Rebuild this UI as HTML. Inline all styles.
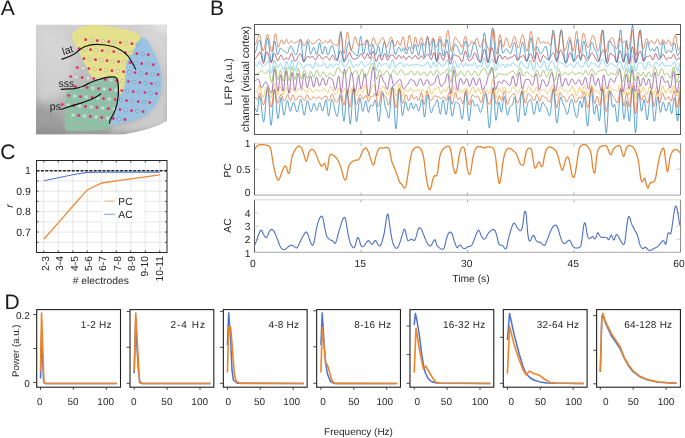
<!DOCTYPE html>
<html><head><meta charset="utf-8"><style>
html,body{margin:0;padding:0;background:#fff;width:685px;height:438px;overflow:hidden}
svg{display:block;font-family:"Liberation Sans",sans-serif;will-change:transform;text-rendering:geometricPrecision}
</style></head><body>
<svg width="685" height="438" viewBox="0 0 685 438" font-family="Liberation Sans, sans-serif"><text x="0.75" y="14.90" font-size="21.00" text-anchor="start" fill="#1a1a1a" >A</text>
<text x="210.10" y="14.70" font-size="21.00" text-anchor="start" fill="#1a1a1a" >B</text>
<text x="0.35" y="158.60" font-size="21.00" text-anchor="start" fill="#1a1a1a" >C</text>
<text x="4.50" y="308.60" font-size="21.00" text-anchor="start" fill="#1a1a1a" >D</text>
<defs>
<linearGradient id="gbg" x1="0" y1="0" x2="0" y2="1">
<stop offset="0" stop-color="#d0d0d0"/><stop offset="0.35" stop-color="#c3c3c3"/><stop offset="0.7" stop-color="#b3b3b3"/><stop offset="0.92" stop-color="#a8a8a8"/><stop offset="1" stop-color="#9e9e9e"/></linearGradient>
<linearGradient id="gbr" x1="0" y1="0" x2="1" y2="0">
<stop offset="0.6" stop-color="#dcdcdc" stop-opacity="0"/><stop offset="0.85" stop-color="#dcdcdc" stop-opacity="0.7"/><stop offset="1" stop-color="#d0d0d0" stop-opacity="0.8"/></linearGradient>
<radialGradient id="ghl" cx="0.25" cy="0.2" r="0.45"><stop offset="0" stop-color="#dcdcdc" stop-opacity="0.7"/><stop offset="1" stop-color="#dcdcdc" stop-opacity="0"/></radialGradient>
<clipPath id="brainclip"><path d="M36,24.5 L167,24.5 L167,121 C158,126 145,131 123,134.5 L36,134.5 Z"/></clipPath>
</defs>
<g clip-path="url(#brainclip)">
<rect x="36" y="24.5" width="131" height="110" fill="url(#gbg)"/>
<filter id="bl2" x="-30%" y="-30%" width="160%" height="160%"><feGaussianBlur stdDeviation="3"/></filter>
<filter id="bl4" x="-30%" y="-30%" width="160%" height="160%"><feGaussianBlur stdDeviation="5"/></filter>
<path d="M36,28 C55,26 70,34 74,50 C76,70 70,88 60,98 C50,102 40,102 36,100 Z" fill="#d8d8d8" opacity="0.75" filter="url(#bl4)"/>
<path d="M140,24 L167,24 L167,125 C150,130 130,132 110,134 L112,126 C135,124 158,112 162,88 C164,60 155,42 140,36 Z" fill="#d8d8d8" opacity="0.75" filter="url(#bl2)"/>
<path d="M148,24 C156,27 162,30 167,34 L167,24 Z" fill="#f0f0f0" opacity="0.8" filter="url(#bl2)"/>
<path d="M30,100 C42,104 52,112 64,117 L66,140 L30,140 Z" fill="#7a7a7a" opacity="0.28" filter="url(#bl2)"/>
<path d="M36,129 C70,132 100,133 125,131 L125,136 L36,136 Z" fill="#8a8a8a" opacity="0.35" filter="url(#bl2)"/>
<path d="M71.80,35.60 L72.01,34.77 L72.40,34.00 L72.92,33.29 L73.54,32.62 L74.22,31.96 L74.90,31.30 L75.61,30.63 L76.38,29.96 L77.21,29.30 L78.07,28.68 L78.98,28.11 L79.90,27.60 L80.82,27.16 L81.74,26.79 L82.69,26.46 L83.71,26.17 L84.84,25.92 L86.10,25.70 L87.51,25.50 L89.03,25.34 L90.66,25.21 L92.38,25.12 L94.16,25.08 L96.00,25.10 L97.92,25.18 L99.95,25.32 L102.04,25.51 L104.17,25.74 L106.30,26.00 L108.40,26.30 L110.48,26.64 L112.58,27.04 L114.68,27.47 L116.76,27.92 L118.80,28.37 L120.80,28.80 L122.79,29.21 L124.79,29.61 L126.75,30.01 L128.64,30.42 L130.40,30.85 L132.00,31.30 L133.45,31.77 L134.79,32.26 L136.00,32.77 L137.08,33.29 L138.02,33.84 L138.80,34.40 L139.42,34.98 L139.87,35.57 L140.19,36.18 L140.37,36.82 L140.44,37.49 L140.40,38.20 L140.22,38.95 L139.89,39.73 L139.44,40.54 L138.91,41.39 L138.35,42.27 L137.80,43.20 L137.24,44.19 L136.63,45.23 L135.98,46.31 L135.32,47.41 L134.65,48.52 L134.00,49.60 L133.35,50.67 L132.68,51.73 L132.01,52.80 L131.35,53.87 L130.71,54.93 L130.10,56.00 L129.50,57.05 L128.90,58.09 L128.32,59.12 L127.79,60.18 L127.30,61.26 L126.90,62.40 L126.59,63.59 L126.36,64.83 L126.19,66.10 L126.05,67.39 L125.93,68.70 L125.80,70.00 L125.67,71.32 L125.56,72.66 L125.46,74.01 L125.37,75.36 L125.29,76.69 L125.20,78.00 L125.13,79.30 L125.08,80.61 L125.03,81.91 L124.97,83.17 L124.86,84.37 L124.70,85.50 L124.47,86.56 L124.19,87.56 L123.86,88.50 L123.51,89.39 L123.16,90.22 L122.80,91.00 L122.44,91.81 L122.05,92.69 L121.65,93.50 L121.25,94.15 L120.86,94.52 L120.50,94.50 L120.15,94.00 L119.79,93.09 L119.44,91.91 L119.12,90.57 L118.84,89.23 L118.60,88.00 L118.45,86.81 L118.37,85.54 L118.34,84.26 L118.29,83.03 L118.19,81.92 L118.00,81.00 L117.71,80.28 L117.36,79.72 L116.95,79.28 L116.50,78.92 L116.01,78.61 L115.50,78.30 L114.99,78.01 L114.49,77.77 L113.95,77.57 L113.33,77.42 L112.60,77.30 L111.70,77.20 L110.60,77.12 L109.32,77.05 L107.92,77.02 L106.46,77.04 L105.00,77.12 L103.60,77.30 L102.19,77.65 L100.72,78.17 L99.24,78.76 L97.84,79.31 L96.57,79.73 L95.50,79.90 L94.68,79.82 L94.07,79.56 L93.60,79.17 L93.19,78.67 L92.78,78.10 L92.30,77.50 L91.75,76.85 L91.20,76.11 L90.65,75.31 L90.10,74.44 L89.55,73.54 L89.00,72.60 L88.47,71.63 L87.96,70.61 L87.45,69.55 L86.93,68.44 L86.38,67.29 L85.80,66.10 L85.15,64.81 L84.44,63.43 L83.70,61.99 L82.97,60.57 L82.30,59.22 L81.70,58.00 L81.20,56.91 L80.77,55.92 L80.39,55.00 L80.04,54.12 L79.68,53.26 L79.30,52.40 L78.91,51.55 L78.53,50.74 L78.16,49.96 L77.77,49.17 L77.35,48.35 L76.90,47.50 L76.38,46.60 L75.81,45.68 L75.21,44.73 L74.62,43.77 L74.07,42.79 L73.60,41.80 L73.16,40.77 L72.71,39.70 L72.30,38.61 L71.98,37.54 L71.80,36.53 Z" fill="#e4e08c"/>
<path d="M66.60,92.50 L67.43,91.66 L68.53,90.97 L69.80,90.39 L71.16,89.88 L72.53,89.40 L73.80,88.90 L75.02,88.41 L76.26,87.97 L77.49,87.56 L78.71,87.16 L79.89,86.74 L81.00,86.30 L82.05,85.81 L83.06,85.29 L84.03,84.76 L84.96,84.24 L85.85,83.75 L86.70,83.30 L87.50,82.91 L88.23,82.55 L88.93,82.22 L89.61,81.91 L90.29,81.61 L91.00,81.30 L91.73,80.98 L92.45,80.66 L93.18,80.35 L93.91,80.05 L94.65,79.76 L95.40,79.50 L96.15,79.26 L96.89,79.04 L97.64,78.84 L98.40,78.65 L99.18,78.47 L100.00,78.30 L100.85,78.14 L101.73,77.99 L102.64,77.84 L103.56,77.71 L104.48,77.60 L105.40,77.50 L106.33,77.40 L107.29,77.31 L108.26,77.23 L109.21,77.18 L110.13,77.16 L111.00,77.20 L111.84,77.29 L112.66,77.42 L113.44,77.59 L114.19,77.80 L114.88,78.04 L115.50,78.30 L116.05,78.56 L116.54,78.83 L116.98,79.12 L117.37,79.48 L117.70,79.93 L118.00,80.50 L118.24,81.19 L118.43,81.96 L118.57,82.83 L118.67,83.79 L118.74,84.84 L118.80,86.00 L118.83,87.31 L118.84,88.78 L118.82,90.34 L118.77,91.94 L118.70,93.52 L118.60,95.00 L118.48,96.41 L118.32,97.81 L118.14,99.19 L117.94,100.52 L117.73,101.79 L117.50,103.00 L117.26,104.11 L117.00,105.13 L116.72,106.09 L116.43,107.04 L116.12,107.99 L115.80,109.00 L115.45,110.06 L115.09,111.15 L114.70,112.25 L114.30,113.35 L113.90,114.44 L113.50,115.50 L113.08,116.56 L112.64,117.63 L112.20,118.69 L111.77,119.70 L111.36,120.65 L111.00,121.50 L110.69,122.23 L110.41,122.85 L110.17,123.41 L109.94,123.93 L109.72,124.45 L109.50,125.00 L109.36,125.61 L109.34,126.24 L109.32,126.88 L109.21,127.48 L108.91,128.03 L108.30,128.50 L107.37,128.88 L106.20,129.18 L104.82,129.43 L103.30,129.64 L101.68,129.83 L100.00,130.00 L98.19,130.16 L96.20,130.29 L94.11,130.39 L91.99,130.47 L89.93,130.54 L88.00,130.60 L86.23,130.65 L84.57,130.69 L82.96,130.71 L81.36,130.72 L79.72,130.72 L78.00,130.70 L76.07,130.72 L73.95,130.79 L71.79,130.84 L69.74,130.81 L67.96,130.66 L66.60,130.30 L65.73,129.72 L65.23,128.96 L65.00,128.06 L64.93,127.07 L64.90,126.04 L64.80,125.00 L64.66,123.97 L64.59,122.90 L64.55,121.79 L64.55,120.62 L64.57,119.36 L64.60,118.00 L64.65,116.48 L64.74,114.81 L64.85,113.06 L64.97,111.30 L65.09,109.59 L65.20,108.00 L65.30,106.55 L65.39,105.17 L65.49,103.84 L65.59,102.56 L65.69,101.28 L65.80,100.00 L65.85,98.68 L65.81,97.32 L65.79,95.98 L65.85,94.69 L66.09,93.52 Z" fill="#91bfa5"/>
<path d="M140.40,38.20 L140.88,37.83 L141.37,37.61 L141.87,37.51 L142.39,37.53 L142.93,37.63 L143.50,37.80 L144.11,38.05 L144.77,38.41 L145.44,38.86 L146.12,39.38 L146.78,39.96 L147.40,40.60 L147.97,41.29 L148.50,42.03 L149.01,42.84 L149.51,43.72 L150.04,44.67 L150.60,45.70 L151.20,46.82 L151.82,48.03 L152.46,49.31 L153.11,50.64 L153.76,52.01 L154.40,53.40 L155.05,54.83 L155.71,56.31 L156.38,57.82 L157.02,59.36 L157.64,60.89 L158.20,62.40 L158.72,63.91 L159.21,65.45 L159.67,66.98 L160.10,68.49 L160.47,69.93 L160.80,71.30 L161.08,72.55 L161.30,73.70 L161.49,74.79 L161.63,75.87 L161.73,76.99 L161.80,78.20 L161.83,79.50 L161.81,80.87 L161.75,82.27 L161.66,83.69 L161.54,85.11 L161.40,86.50 L161.24,87.87 L161.06,89.24 L160.85,90.61 L160.61,91.97 L160.33,93.33 L160.00,94.70 L159.64,96.08 L159.24,97.48 L158.81,98.88 L158.33,100.26 L157.80,101.61 L157.20,102.90 L156.54,104.14 L155.82,105.35 L155.05,106.52 L154.22,107.65 L153.34,108.75 L152.40,109.80 L151.38,110.82 L150.29,111.81 L149.13,112.77 L147.95,113.67 L146.76,114.52 L145.60,115.30 L144.45,116.00 L143.30,116.64 L142.15,117.21 L141.00,117.74 L139.85,118.23 L138.70,118.70 L137.56,119.13 L136.43,119.52 L135.30,119.87 L134.17,120.19 L133.04,120.50 L131.90,120.80 L130.76,121.08 L129.61,121.34 L128.46,121.57 L127.31,121.81 L126.16,122.05 L125.00,122.30 L123.83,122.58 L122.64,122.87 L121.44,123.17 L120.26,123.46 L119.11,123.74 L118.00,124.00 L116.90,124.24 L115.80,124.47 L114.72,124.69 L113.70,124.89 L112.79,125.06 L112.00,125.20 L111.33,125.35 L110.76,125.53 L110.28,125.68 L109.91,125.75 L109.64,125.71 L109.50,125.50 L109.51,125.11 L109.67,124.56 L109.94,123.89 L110.28,123.14 L110.65,122.33 L111.00,121.50 L111.36,120.62 L111.77,119.67 L112.20,118.66 L112.64,117.61 L113.08,116.55 L113.50,115.50 L113.90,114.44 L114.30,113.35 L114.70,112.25 L115.09,111.15 L115.45,110.06 L115.80,109.00 L116.12,107.95 L116.42,106.89 L116.70,105.84 L116.97,104.83 L117.24,103.88 L117.50,103.00 L117.77,102.20 L118.03,101.46 L118.29,100.78 L118.54,100.15 L118.78,99.56 L119.00,99.00 L119.19,98.53 L119.34,98.17 L119.48,97.84 L119.63,97.50 L119.83,97.07 L120.10,96.50 L120.47,95.76 L120.91,94.89 L121.40,93.94 L121.90,92.94 L122.38,91.95 L122.80,91.00 L123.18,90.11 L123.54,89.24 L123.89,88.38 L124.20,87.48 L124.47,86.53 L124.70,85.50 L124.86,84.37 L124.97,83.17 L125.03,81.91 L125.08,80.61 L125.13,79.30 L125.20,78.00 L125.29,76.69 L125.37,75.36 L125.46,74.01 L125.56,72.66 L125.67,71.32 L125.80,70.00 L125.93,68.70 L126.05,67.39 L126.19,66.10 L126.36,64.83 L126.59,63.59 L126.90,62.40 L127.30,61.26 L127.79,60.18 L128.33,59.12 L128.90,58.09 L129.50,57.05 L130.10,56.00 L130.71,54.93 L131.35,53.87 L132.01,52.80 L132.68,51.73 L133.35,50.67 L134.00,49.60 L134.65,48.52 L135.32,47.41 L135.98,46.31 L136.63,45.23 L137.24,44.19 L137.80,43.20 L138.30,42.23 L138.74,41.26 L139.14,40.33 L139.54,39.47 L139.95,38.75 Z" fill="#9ac2e1"/>
<circle cx="85.70" cy="39.70" r="1.4" fill="#e5296a"/>
<circle cx="91.48" cy="40.20" r="1.85" fill="#e9e6ad" stroke="#aaa67a" stroke-width="0.45"/>
<circle cx="97.25" cy="40.70" r="1.4" fill="#e5296a"/>
<circle cx="103.03" cy="41.20" r="1.85" fill="#e9e6ad" stroke="#aaa67a" stroke-width="0.45"/>
<circle cx="108.80" cy="41.71" r="1.4" fill="#e5296a"/>
<circle cx="114.58" cy="42.21" r="1.85" fill="#e9e6ad" stroke="#aaa67a" stroke-width="0.45"/>
<circle cx="120.35" cy="42.71" r="1.4" fill="#e5296a"/>
<circle cx="126.13" cy="43.21" r="1.85" fill="#e9e6ad" stroke="#aaa67a" stroke-width="0.45"/>
<circle cx="131.90" cy="43.72" r="1.4" fill="#e5296a"/>
<circle cx="137.68" cy="44.22" r="1.85" fill="#a6c9e5" stroke="#6e91b4" stroke-width="0.5"/>
<circle cx="79.05" cy="48.67" r="1.4" fill="#e5296a"/>
<circle cx="84.83" cy="49.17" r="1.85" fill="#e9e6ad" stroke="#aaa67a" stroke-width="0.45"/>
<circle cx="90.60" cy="49.67" r="1.4" fill="#e5296a"/>
<circle cx="96.38" cy="50.17" r="1.85" fill="#e9e6ad" stroke="#aaa67a" stroke-width="0.45"/>
<circle cx="102.15" cy="50.68" r="1.4" fill="#e5296a"/>
<circle cx="107.93" cy="51.18" r="1.85" fill="#e9e6ad" stroke="#aaa67a" stroke-width="0.45"/>
<circle cx="113.70" cy="51.68" r="1.4" fill="#e5296a"/>
<circle cx="119.48" cy="52.18" r="1.85" fill="#e9e6ad" stroke="#aaa67a" stroke-width="0.45"/>
<circle cx="125.25" cy="52.69" r="1.4" fill="#e5296a"/>
<circle cx="131.03" cy="53.19" r="1.85" fill="#e9e6ad" stroke="#aaa67a" stroke-width="0.45"/>
<circle cx="136.80" cy="53.69" r="1.4" fill="#e5296a"/>
<circle cx="142.58" cy="54.19" r="1.85" fill="#a6c9e5" stroke="#6e91b4" stroke-width="0.5"/>
<circle cx="148.35" cy="54.70" r="1.4" fill="#e5296a"/>
<circle cx="83.95" cy="58.64" r="1.4" fill="#e5296a"/>
<circle cx="89.73" cy="59.15" r="1.85" fill="#e9e6ad" stroke="#aaa67a" stroke-width="0.45"/>
<circle cx="95.50" cy="59.65" r="1.4" fill="#e5296a"/>
<circle cx="101.28" cy="60.15" r="1.85" fill="#e9e6ad" stroke="#aaa67a" stroke-width="0.45"/>
<circle cx="107.05" cy="60.65" r="1.4" fill="#e5296a"/>
<circle cx="112.83" cy="61.16" r="1.85" fill="#e9e6ad" stroke="#aaa67a" stroke-width="0.45"/>
<circle cx="118.60" cy="61.66" r="1.4" fill="#e5296a"/>
<circle cx="124.38" cy="62.16" r="1.85" fill="#e9e6ad" stroke="#aaa67a" stroke-width="0.45"/>
<circle cx="130.15" cy="62.66" r="1.4" fill="#e5296a"/>
<circle cx="135.93" cy="63.17" r="1.85" fill="#a6c9e5" stroke="#6e91b4" stroke-width="0.5"/>
<circle cx="141.70" cy="63.67" r="1.4" fill="#e5296a"/>
<circle cx="147.48" cy="64.17" r="1.85" fill="#a6c9e5" stroke="#6e91b4" stroke-width="0.5"/>
<circle cx="153.25" cy="64.67" r="1.4" fill="#e5296a"/>
<circle cx="77.30" cy="67.62" r="1.4" fill="#e5296a"/>
<circle cx="83.08" cy="68.12" r="1.85" fill="#e6e6e6" stroke="#9a9a9a" stroke-width="0.4"/>
<circle cx="88.85" cy="68.62" r="1.4" fill="#e5296a"/>
<circle cx="94.63" cy="69.12" r="1.85" fill="#e9e6ad" stroke="#aaa67a" stroke-width="0.45"/>
<circle cx="100.40" cy="69.62" r="1.4" fill="#e5296a"/>
<circle cx="106.18" cy="70.13" r="1.85" fill="#e9e6ad" stroke="#aaa67a" stroke-width="0.45"/>
<circle cx="111.95" cy="70.63" r="1.4" fill="#e5296a"/>
<circle cx="117.73" cy="71.13" r="1.85" fill="#e9e6ad" stroke="#aaa67a" stroke-width="0.45"/>
<circle cx="123.50" cy="71.63" r="1.4" fill="#e5296a"/>
<circle cx="129.28" cy="72.14" r="1.85" fill="#a6c9e5" stroke="#6e91b4" stroke-width="0.5"/>
<circle cx="135.05" cy="72.64" r="1.4" fill="#e5296a"/>
<circle cx="140.83" cy="73.14" r="1.85" fill="#a6c9e5" stroke="#6e91b4" stroke-width="0.5"/>
<circle cx="146.60" cy="73.64" r="1.4" fill="#e5296a"/>
<circle cx="152.38" cy="74.15" r="1.85" fill="#a6c9e5" stroke="#6e91b4" stroke-width="0.5"/>
<circle cx="158.15" cy="74.65" r="1.4" fill="#e5296a"/>
<circle cx="70.65" cy="76.59" r="1.4" fill="#e5296a"/>
<circle cx="76.43" cy="77.09" r="1.85" fill="#e6e6e6" stroke="#9a9a9a" stroke-width="0.4"/>
<circle cx="82.20" cy="77.59" r="1.4" fill="#e5296a"/>
<circle cx="87.98" cy="78.09" r="1.85" fill="#e6e6e6" stroke="#9a9a9a" stroke-width="0.4"/>
<circle cx="93.75" cy="78.60" r="1.4" fill="#e5296a"/>
<circle cx="99.53" cy="79.10" r="1.85" fill="#c0e2cf" stroke="#a6c8b4" stroke-width="0.4"/>
<circle cx="105.30" cy="79.60" r="1.4" fill="#e5296a"/>
<circle cx="111.08" cy="80.10" r="1.85" fill="#c0e2cf" stroke="#a6c8b4" stroke-width="0.4"/>
<circle cx="116.85" cy="80.61" r="1.4" fill="#e5296a"/>
<circle cx="122.63" cy="81.11" r="1.85" fill="#e9e6ad" stroke="#aaa67a" stroke-width="0.45"/>
<circle cx="128.40" cy="81.61" r="1.4" fill="#e5296a"/>
<circle cx="134.18" cy="82.11" r="1.85" fill="#a6c9e5" stroke="#6e91b4" stroke-width="0.5"/>
<circle cx="139.95" cy="82.62" r="1.4" fill="#e5296a"/>
<circle cx="145.73" cy="83.12" r="1.85" fill="#a6c9e5" stroke="#6e91b4" stroke-width="0.5"/>
<circle cx="151.50" cy="83.62" r="1.4" fill="#e5296a"/>
<circle cx="157.28" cy="84.12" r="1.85" fill="#a6c9e5" stroke="#6e91b4" stroke-width="0.5"/>
<circle cx="75.55" cy="86.56" r="1.4" fill="#e5296a"/>
<circle cx="81.33" cy="87.07" r="1.85" fill="#c0e2cf" stroke="#a6c8b4" stroke-width="0.4"/>
<circle cx="87.10" cy="87.57" r="1.4" fill="#e5296a"/>
<circle cx="92.88" cy="88.07" r="1.85" fill="#c0e2cf" stroke="#a6c8b4" stroke-width="0.4"/>
<circle cx="98.65" cy="88.57" r="1.4" fill="#e5296a"/>
<circle cx="104.43" cy="89.07" r="1.85" fill="#c0e2cf" stroke="#a6c8b4" stroke-width="0.4"/>
<circle cx="110.20" cy="89.58" r="1.4" fill="#e5296a"/>
<circle cx="115.98" cy="90.08" r="1.85" fill="#c0e2cf" stroke="#a6c8b4" stroke-width="0.4"/>
<circle cx="121.75" cy="90.58" r="1.4" fill="#e5296a"/>
<circle cx="127.53" cy="91.08" r="1.85" fill="#a6c9e5" stroke="#6e91b4" stroke-width="0.5"/>
<circle cx="133.30" cy="91.59" r="1.4" fill="#e5296a"/>
<circle cx="139.08" cy="92.09" r="1.85" fill="#a6c9e5" stroke="#6e91b4" stroke-width="0.5"/>
<circle cx="144.85" cy="92.59" r="1.4" fill="#e5296a"/>
<circle cx="150.63" cy="93.09" r="1.85" fill="#a6c9e5" stroke="#6e91b4" stroke-width="0.5"/>
<circle cx="156.40" cy="93.60" r="1.4" fill="#e5296a"/>
<circle cx="68.90" cy="95.53" r="1.4" fill="#e5296a"/>
<circle cx="74.68" cy="96.04" r="1.85" fill="#c0e2cf" stroke="#a6c8b4" stroke-width="0.4"/>
<circle cx="80.45" cy="96.54" r="1.4" fill="#e5296a"/>
<circle cx="86.23" cy="97.04" r="1.85" fill="#c0e2cf" stroke="#a6c8b4" stroke-width="0.4"/>
<circle cx="92.00" cy="97.54" r="1.4" fill="#e5296a"/>
<circle cx="97.78" cy="98.05" r="1.85" fill="#c0e2cf" stroke="#a6c8b4" stroke-width="0.4"/>
<circle cx="103.55" cy="98.55" r="1.4" fill="#e5296a"/>
<circle cx="109.33" cy="99.05" r="1.85" fill="#c0e2cf" stroke="#a6c8b4" stroke-width="0.4"/>
<circle cx="115.10" cy="99.55" r="1.4" fill="#e5296a"/>
<circle cx="120.88" cy="100.06" r="1.85" fill="#a6c9e5" stroke="#6e91b4" stroke-width="0.5"/>
<circle cx="126.65" cy="100.56" r="1.4" fill="#e5296a"/>
<circle cx="132.43" cy="101.06" r="1.85" fill="#a6c9e5" stroke="#6e91b4" stroke-width="0.5"/>
<circle cx="138.20" cy="101.56" r="1.4" fill="#e5296a"/>
<circle cx="143.98" cy="102.07" r="1.85" fill="#a6c9e5" stroke="#6e91b4" stroke-width="0.5"/>
<circle cx="149.75" cy="102.57" r="1.4" fill="#e5296a"/>
<circle cx="62.25" cy="104.51" r="1.4" fill="#e5296a"/>
<circle cx="68.03" cy="105.01" r="1.85" fill="#c0e2cf" stroke="#a6c8b4" stroke-width="0.4"/>
<circle cx="73.80" cy="105.51" r="1.4" fill="#e5296a"/>
<circle cx="79.58" cy="106.01" r="1.85" fill="#c0e2cf" stroke="#a6c8b4" stroke-width="0.4"/>
<circle cx="85.35" cy="106.52" r="1.4" fill="#e5296a"/>
<circle cx="91.13" cy="107.02" r="1.85" fill="#c0e2cf" stroke="#a6c8b4" stroke-width="0.4"/>
<circle cx="96.90" cy="107.52" r="1.4" fill="#e5296a"/>
<circle cx="102.68" cy="108.02" r="1.85" fill="#c0e2cf" stroke="#a6c8b4" stroke-width="0.4"/>
<circle cx="108.45" cy="108.53" r="1.4" fill="#e5296a"/>
<circle cx="114.23" cy="109.03" r="1.85" fill="#c0e2cf" stroke="#a6c8b4" stroke-width="0.4"/>
<circle cx="120.00" cy="109.53" r="1.4" fill="#e5296a"/>
<circle cx="125.78" cy="110.03" r="1.85" fill="#a6c9e5" stroke="#6e91b4" stroke-width="0.5"/>
<circle cx="131.55" cy="110.53" r="1.4" fill="#e5296a"/>
<circle cx="137.33" cy="111.04" r="1.85" fill="#a6c9e5" stroke="#6e91b4" stroke-width="0.5"/>
<circle cx="143.10" cy="111.54" r="1.4" fill="#e5296a"/>
<circle cx="72.93" cy="114.98" r="1.85" fill="#c0e2cf" stroke="#a6c8b4" stroke-width="0.4"/>
<circle cx="78.70" cy="115.49" r="1.4" fill="#e5296a"/>
<circle cx="84.48" cy="115.99" r="1.85" fill="#c0e2cf" stroke="#a6c8b4" stroke-width="0.4"/>
<circle cx="90.25" cy="116.49" r="1.4" fill="#e5296a"/>
<circle cx="96.03" cy="116.99" r="1.85" fill="#c0e2cf" stroke="#a6c8b4" stroke-width="0.4"/>
<circle cx="101.80" cy="117.50" r="1.4" fill="#e5296a"/>
<circle cx="107.58" cy="118.00" r="1.85" fill="#c0e2cf" stroke="#a6c8b4" stroke-width="0.4"/>
<circle cx="113.35" cy="118.50" r="1.4" fill="#e5296a"/>
<circle cx="119.13" cy="119.00" r="1.85" fill="#a6c9e5" stroke="#6e91b4" stroke-width="0.5"/>
<circle cx="124.90" cy="119.51" r="1.4" fill="#e5296a"/>
<path d="M61.5,59.3 C66,58 71,56 74.4,54 C78,51.5 81,48 84.2,46.7 C88,45.2 93,44.3 97.1,44.3 C103,44.4 109,45.3 113,46.5 C119,48.5 124,51.5 128,56 C131,60 133.5,65 135.8,69.5" fill="none" stroke="#111" stroke-width="1.2"/>
<path d="M60.8,89.4 C66,89.2 70,88.9 73.8,88.7 C77,88.2 80,87.5 82.4,86.5 C86,85 88,83.5 91,82.2 C94,80.8 97,79.8 99.7,79.3 C103,78.4 106,77.6 108.3,77.2 C111,76.8 114,76.8 115.5,77.2 C117,78 117.5,79 117.7,80.8 C118.5,86 118.6,90 118.4,92.3 C118.2,97 117.7,101 117,103.8 C116.2,107 115.5,110 114.1,112.4 C113,115 111.5,117.5 110.5,119.6 C109.8,121 109.5,122.5 109.5,123.8" fill="none" stroke="#111" stroke-width="1.2"/>
<path d="M60.8,109.5 C64,108.5 67,107.4 69.5,106.7 C73,105.6 77,104.3 81,103.1 C85,101.8 88,100.7 91,99.5 C95,97.7 98.5,95.8 101.1,93.7" fill="none" stroke="#111" stroke-width="1.2"/>
</g>
<text x="0.00" y="0.00" font-size="10.50" text-anchor="start" fill="#222" transform="translate(63.5,55.3) rotate(-18)">lat</text>
<text x="58.60" y="87.40" font-size="10.50" text-anchor="start" fill="#222" >sss</text>
<text x="49.80" y="109.60" font-size="10.50" text-anchor="start" fill="#222" >ps</text>
<rect x="254.5" y="24.5" width="426.0" height="110.0" fill="none" stroke="#5a5a5a" stroke-width="1"/>
<line x1="254.50" y1="34.50" x2="259.00" y2="34.50" stroke="#5a5a5a" stroke-width="1"/>
<line x1="680.50" y1="34.50" x2="676.00" y2="34.50" stroke="#5a5a5a" stroke-width="1"/>
<line x1="254.50" y1="74.50" x2="259.00" y2="74.50" stroke="#5a5a5a" stroke-width="1"/>
<line x1="680.50" y1="74.50" x2="676.00" y2="74.50" stroke="#5a5a5a" stroke-width="1"/>
<line x1="254.50" y1="114.50" x2="259.00" y2="114.50" stroke="#5a5a5a" stroke-width="1"/>
<line x1="680.50" y1="114.50" x2="676.00" y2="114.50" stroke="#5a5a5a" stroke-width="1"/>
<line x1="361.00" y1="24.50" x2="361.00" y2="28.50" stroke="#777" stroke-width="0.8"/>
<line x1="361.00" y1="134.50" x2="361.00" y2="130.50" stroke="#777" stroke-width="0.8"/>
<line x1="467.50" y1="24.50" x2="467.50" y2="28.50" stroke="#777" stroke-width="0.8"/>
<line x1="467.50" y1="134.50" x2="467.50" y2="130.50" stroke="#777" stroke-width="0.8"/>
<line x1="574.00" y1="24.50" x2="574.00" y2="28.50" stroke="#777" stroke-width="0.8"/>
<line x1="574.00" y1="134.50" x2="574.00" y2="130.50" stroke="#777" stroke-width="0.8"/>
<defs><clipPath id="lfpclip"><rect x="254.5" y="24.5" width="426" height="110"/></clipPath></defs><g clip-path="url(#lfpclip)">
<polyline points="254.50,107.80 255.00,108.09 255.50,109.13 256.00,110.47 256.50,111.51 257.00,111.75 257.50,110.12 258.00,106.64 258.50,102.39 259.00,98.66 259.50,96.59 260.00,96.76 260.50,98.85 261.00,102.54 261.50,107.24 262.00,112.25 262.50,116.80 263.00,120.21 263.50,121.94 264.00,121.57 264.50,118.43 265.00,112.98 265.50,106.14 266.00,99.05 266.50,92.92 267.00,88.77 267.50,87.30 268.00,89.09 268.50,94.12 269.00,101.46 269.50,109.72 270.00,117.36 270.50,122.94 271.00,125.43 271.50,124.30 272.00,119.72 272.50,112.64 273.00,104.55 273.50,97.13 274.00,91.96 274.50,90.10 275.00,91.51 275.50,95.47 276.00,101.18 276.50,107.52 277.00,113.23 277.50,117.19 278.00,118.60 278.50,117.27 279.00,113.63 279.50,108.58 280.00,103.40 280.50,99.39 281.00,97.55 281.50,98.38 282.00,101.64 282.50,106.35 283.00,111.06 283.50,114.32 284.00,115.17 284.50,114.09 285.00,111.70 285.50,108.48 286.00,105.13 286.50,102.33 287.00,100.68 287.50,100.52 288.00,101.79 288.50,104.13 289.00,106.92 289.50,109.41 290.00,110.94 290.50,111.11 291.00,110.10 291.50,108.23 292.00,105.96 292.50,103.86 293.00,102.47 293.50,102.12 294.00,102.73 294.50,104.13 295.00,106.05 295.50,108.15 296.00,110.07 296.50,111.47 297.00,112.08 297.50,111.73 298.00,110.32 298.50,108.09 299.00,105.43 299.50,102.82 300.00,100.72 300.50,99.51 301.00,99.44 301.50,100.91 302.00,103.71 302.50,107.25 303.00,110.79 303.50,113.59 304.00,115.06 304.50,114.88 305.00,113.03 305.50,109.95 306.00,106.36 306.50,103.11 307.00,100.96 307.50,100.42 308.00,101.16 308.50,102.83 309.00,105.11 309.50,107.58 310.00,109.76 310.50,111.27 311.00,111.80 311.50,111.23 312.00,109.67 312.50,107.55 313.00,105.42 313.50,103.87 314.00,103.30 314.50,103.87 315.00,105.39 315.50,107.41 316.00,109.31 316.50,110.49 317.00,110.61 317.50,109.60 318.00,107.77 318.50,105.63 319.00,103.80 319.50,102.79 320.00,102.94 320.50,104.30 321.00,106.47 321.50,108.79 322.00,110.55 322.50,111.20 323.00,110.64 323.50,109.05 324.00,106.77 324.50,104.23 325.00,101.95 325.50,100.36 326.00,99.80 326.50,101.33 327.00,105.33 327.50,110.27 328.00,114.27 328.50,115.80 329.00,114.94 329.50,112.52 330.00,109.07 330.50,105.29 331.00,101.99 331.50,99.86 332.00,99.32 332.50,99.86 333.00,101.12 333.50,102.99 334.00,105.31 334.50,107.85 335.00,110.39 335.50,112.71 336.00,114.58 336.50,115.84 337.00,116.38 337.50,115.80 338.00,113.47 338.50,109.78 339.00,105.40 339.50,101.10 340.00,97.64 340.50,95.64 341.00,95.57 341.50,98.46 342.00,103.85 342.50,110.38 343.00,116.42 343.50,120.44 344.00,121.43 344.50,119.00 345.00,113.65 345.50,106.65 346.00,99.65 346.50,94.30 347.00,91.87 347.50,93.12 348.00,98.12 348.50,105.63 349.00,113.76 349.50,120.47 350.00,124.07 350.50,123.71 351.00,119.70 351.50,112.90 352.00,104.74 352.50,96.92 353.00,91.10 353.50,88.48 354.00,89.93 354.50,95.66 355.00,104.05 355.50,112.70 356.00,119.13 356.50,121.50 357.00,120.34 357.50,117.09 358.00,112.40 358.50,107.20 359.00,102.51 359.50,99.26 360.00,98.10 360.50,99.20 361.00,102.15 361.50,105.96 362.00,109.40 362.50,111.32 363.00,111.24 363.50,109.76 364.00,107.34 364.50,104.63 365.00,102.35 365.50,101.11 366.00,101.32 366.50,103.15 367.00,106.06 367.50,109.17 368.00,111.53 368.50,112.40 369.00,111.41 369.50,108.98 370.00,106.39 370.50,105.04 371.00,105.09 371.50,105.40 372.00,105.78 372.50,106.05 373.00,105.98 373.50,104.77 374.00,102.74 374.50,100.80 375.00,99.83 375.50,100.41 376.00,102.79 376.50,106.54 377.00,111.01 377.50,115.39 378.00,118.91 378.50,120.95 379.00,121.10 379.50,118.87 380.00,114.57 380.50,108.95 381.00,103.01 381.50,97.80 382.00,94.26 382.50,93.00 383.00,93.79 383.50,96.01 384.00,99.22 384.50,102.78 385.00,105.99 385.50,108.21 386.00,109.00 386.50,109.70 387.00,111.58 387.50,114.06 388.00,116.39 388.50,117.84 389.00,117.87 389.50,115.36 390.00,110.49 390.50,104.13 391.00,97.41 391.50,91.53 392.00,87.52 392.50,86.10 393.00,88.34 393.50,94.60 394.00,103.57 394.50,113.36 395.00,121.92 395.50,127.45 396.00,128.81 396.50,125.87 397.00,119.31 397.50,110.52 398.00,101.33 398.50,93.69 399.00,89.17 399.50,88.66 400.00,91.49 400.50,96.80 401.00,103.33 401.50,109.56 402.00,113.99 402.50,115.60 403.00,114.59 403.50,111.85 404.00,108.17 404.50,104.59 405.00,102.15 405.50,101.53 406.00,102.50 406.50,104.58 407.00,107.12 407.50,109.35 408.00,110.58 408.50,110.49 409.00,109.29 409.50,107.35 410.00,105.22 410.50,103.52 411.00,102.72 411.50,103.20 412.00,104.96 412.50,107.16 413.00,108.72 413.50,108.93 414.00,108.18 414.50,106.85 415.00,105.37 415.50,104.23 416.00,103.80 416.50,104.39 417.00,105.97 417.50,108.03 418.00,109.87 418.50,110.90 419.00,110.75 419.50,109.29 420.00,106.85 420.50,104.01 421.00,101.44 421.50,99.75 422.00,99.36 422.50,101.51 423.00,105.99 423.50,111.22 424.00,115.34 424.50,116.90 425.00,115.59 425.50,111.97 426.00,106.89 426.50,101.55 427.00,97.22 427.50,94.91 428.00,95.05 428.50,97.08 429.00,100.51 429.50,104.64 430.00,108.59 430.50,111.54 431.00,112.86 431.50,112.62 432.00,111.55 432.50,109.92 433.00,108.13 433.50,106.58 434.00,105.66 434.50,105.44 435.00,104.81 435.50,103.64 436.00,102.22 436.50,100.91 437.00,100.03 437.50,99.84 438.00,101.26 438.50,104.30 439.00,108.11 439.50,111.58 440.00,113.73 440.50,113.92 441.00,112.01 441.50,108.54 442.00,104.59 442.50,101.36 443.00,99.84 443.50,100.40 444.00,102.69 444.50,106.12 445.00,109.84 445.50,112.90 446.00,114.55 446.50,114.22 447.00,111.47 447.50,107.03 448.00,102.16 448.50,98.27 449.00,96.45 449.50,97.21 450.00,100.28 450.50,104.89 451.00,109.87 451.50,113.99 452.00,116.20 452.50,116.13 453.00,114.53 453.50,111.83 454.00,108.59 454.50,105.49 455.00,103.17 455.50,102.13 456.00,102.16 456.50,102.36 457.00,102.67 457.50,102.98 458.00,103.21 458.50,103.30 459.00,104.01 459.50,106.00 460.00,108.92 460.50,112.26 461.00,115.42 461.50,117.84 462.00,119.09 462.50,118.68 463.00,115.62 463.50,110.45 464.00,104.24 464.50,98.29 465.00,93.85 465.50,91.86 466.00,92.78 466.50,96.55 467.00,102.37 467.50,109.02 468.00,115.12 468.50,119.37 469.00,120.90 469.50,119.65 470.00,116.21 470.50,111.38 471.00,106.31 471.50,102.19 472.00,100.00 472.50,99.98 473.00,100.99 473.50,102.60 474.00,104.32 474.50,105.62 475.00,106.10 475.50,105.91 476.00,105.42 476.50,104.86 477.00,104.47 477.50,104.48 478.00,105.31 478.50,106.87 479.00,108.79 479.50,110.62 480.00,111.93 480.50,112.40 481.00,111.99 481.50,110.80 482.00,108.92 482.50,106.53 483.00,103.83 483.50,101.06 484.00,98.46 484.50,96.26 485.00,94.64 485.50,93.75 486.00,93.86 486.50,96.74 487.00,102.27 487.50,109.44 488.00,116.88 488.50,123.22 489.00,127.25 489.50,128.23 490.00,125.70 490.50,119.99 491.00,112.12 491.50,103.48 492.00,95.61 492.50,89.90 493.00,87.37 493.50,88.94 494.00,95.04 494.50,103.85 495.00,112.66 495.50,118.76 496.00,120.36 496.50,118.86 497.00,115.56 497.50,111.25 498.00,106.94 498.50,103.64 499.00,102.14 499.50,102.85 500.00,105.53 500.50,108.97 501.00,111.65 501.50,112.35 502.00,110.65 502.50,107.04 503.00,102.62 503.50,98.74 504.00,96.60 504.50,96.80 505.00,99.15 505.50,103.07 506.00,107.63 506.50,111.76 507.00,114.48 507.50,115.18 508.00,114.38 508.50,112.65 509.00,110.42 509.50,108.24 510.00,106.67 510.50,106.10 511.00,105.88 511.50,105.40 512.00,105.04 512.50,104.72 513.00,103.14 513.50,100.75 514.00,98.45 514.50,97.13 515.00,97.45 515.50,100.10 516.00,104.62 516.50,110.11 517.00,115.50 517.50,119.70 518.00,121.90 518.50,121.59 519.00,118.62 519.50,113.47 520.00,107.07 520.50,100.55 521.00,95.07 521.50,91.60 522.00,90.76 522.50,92.93 523.00,97.67 523.50,103.78 524.00,109.74 524.50,114.04 525.00,115.60 525.50,114.80 526.00,112.60 526.50,109.51 527.00,106.27 527.50,103.63 528.00,102.23 528.50,102.00 529.00,101.45 529.50,100.61 530.00,99.81 530.50,99.34 531.00,99.59 531.50,101.27 532.00,104.12 532.50,107.55 533.00,110.82 533.50,113.27 534.00,114.37 534.50,113.78 535.00,111.46 535.50,108.06 536.00,104.56 536.50,101.96 537.00,101.00 537.50,101.89 538.00,104.26 538.50,107.34 539.00,110.11 539.50,111.65 540.00,111.55 540.50,110.09 541.00,107.73 541.50,105.15 542.00,103.09 542.50,102.13 543.00,102.30 543.50,103.04 544.00,104.10 544.50,105.16 545.00,105.90 545.50,106.11 546.00,106.56 546.50,107.58 547.00,109.05 547.50,110.77 548.00,112.52 548.50,114.05 549.00,115.18 549.50,115.75 550.00,115.39 550.50,112.95 551.00,108.74 551.50,103.50 552.00,98.16 552.50,93.67 553.00,90.83 553.50,90.17 554.00,92.58 554.50,97.94 555.00,105.12 555.50,112.63 556.00,118.88 556.50,122.57 557.00,123.04 557.50,121.27 558.00,117.80 558.50,113.16 559.00,108.05 559.50,103.26 560.00,99.50 560.50,97.36 561.00,97.09 561.50,98.10 562.00,99.93 562.50,102.07 563.00,103.90 563.50,104.91 564.00,105.18 564.50,106.23 565.00,108.00 565.50,110.13 566.00,112.17 566.50,113.70 567.00,114.38 567.50,114.11 568.00,112.96 568.50,111.07 569.00,108.68 569.50,106.06 570.00,103.54 570.50,101.42 571.00,99.95 571.50,99.32 572.00,99.56 572.50,100.61 573.00,102.37 573.50,104.67 574.00,107.30 574.50,110.04 575.00,112.63 575.50,114.83 576.00,116.46 576.50,117.35 577.00,117.36 577.50,115.83 578.00,112.93 578.50,109.25 579.00,105.57 579.50,102.67 580.00,101.14 580.50,101.51 581.00,104.09 581.50,106.91 582.00,107.75 582.50,105.99 583.00,102.49 583.50,98.81 584.00,96.61 584.50,96.97 585.00,100.28 585.50,105.89 586.00,112.62 586.50,119.07 587.00,123.88 587.50,126.04 588.00,124.90 588.50,120.28 589.00,113.07 589.50,104.72 590.00,96.87 590.50,91.07 591.00,88.48 591.50,89.39 592.00,93.15 592.50,98.86 593.00,105.17 593.50,110.59 594.00,113.84 594.50,114.21 595.00,112.28 595.50,109.06 596.00,105.99 596.50,104.45 597.00,105.22 597.50,108.26 598.00,112.65 598.50,117.04 599.00,120.08 599.50,120.82 600.00,118.09 600.50,112.14 601.00,104.46 601.50,96.97 602.00,91.57 602.50,89.60 603.00,91.45 603.50,96.68 604.00,104.42 604.50,113.36 605.00,122.00 605.50,128.87 606.00,132.83 606.50,133.11 607.00,128.92 607.50,120.99 608.00,111.08 608.50,101.40 609.00,94.10 609.50,90.80 610.00,91.33 610.50,93.72 611.00,97.34 611.50,101.34 612.00,104.78 612.50,106.84 613.00,107.11 613.50,106.18 614.00,104.96 614.50,104.40 615.00,105.67 615.50,109.10 616.00,113.73 616.50,118.22 617.00,121.28 617.50,122.03 618.00,119.62 618.50,114.26 619.00,107.08 619.50,99.57 620.00,93.32 620.50,89.63 621.00,89.29 621.50,92.43 622.00,98.32 622.50,105.58 623.00,112.49 623.50,117.42 624.00,119.20 624.50,117.70 625.00,113.70 625.50,108.52 626.00,103.86 626.50,101.25 627.00,101.67 627.50,105.43 628.00,111.25 628.50,117.07 629.00,120.83 629.50,121.18 630.00,117.74 630.50,111.28 631.00,103.33 631.50,95.76 632.00,90.35 632.50,88.40 633.00,91.37 633.50,99.47 634.00,110.55 634.50,121.62 635.00,129.73 635.50,132.70 636.00,130.47 636.50,124.26 637.00,115.46 637.50,106.03 638.00,98.05 638.50,93.31 639.00,92.75 639.50,95.43 640.00,100.23 640.50,105.55 641.00,109.66 641.50,111.20 642.00,110.16 642.50,107.42 643.00,103.95 643.50,100.97 644.00,99.54 644.50,100.39 645.00,103.73 645.50,108.68 646.00,113.92 646.50,118.04 647.00,119.94 647.50,119.22 648.00,116.21 648.50,111.41 649.00,105.65 649.50,99.89 650.00,95.09 650.50,92.08 651.00,91.36 651.50,93.56 652.00,98.45 652.50,105.01 653.00,111.85 653.50,117.56 654.00,120.92 654.50,121.29 655.00,119.03 655.50,114.71 656.00,109.25 656.50,103.79 657.00,99.47 657.50,97.21 658.00,97.43 658.50,99.90 659.00,103.84 659.50,108.04 660.00,111.22 660.50,112.40 661.00,111.49 661.50,109.08 662.00,106.02 662.50,103.40 663.00,102.14 663.50,102.47 664.00,103.86 664.50,105.96 665.00,108.23 665.50,110.10 666.00,111.11 666.50,110.96 667.00,109.60 667.50,107.39 668.00,104.97 668.50,103.03 669.00,102.13 669.50,102.81 670.00,105.37 670.50,108.87 671.00,111.96 671.50,113.46 672.00,112.77 672.50,110.01 673.00,105.98 673.50,101.83 674.00,98.74 674.50,97.60 675.00,99.07 675.50,103.11 676.00,108.71 676.50,114.45 677.00,118.90 677.50,120.94 678.00,119.46 678.50,113.80 679.00,105.93 679.50,98.63 680.00,94.49 680.50,94.10" fill="none" stroke="#0072BD" stroke-width="0.75" stroke-linejoin="round" opacity="0.85"/>
<polyline points="254.50,97.20 255.00,96.94 255.50,97.42 256.00,98.33 256.50,99.24 257.00,99.77 257.50,99.27 258.00,97.70 258.50,95.62 259.00,93.80 259.50,92.90 260.00,93.22 260.50,94.59 261.00,96.73 261.50,99.22 262.00,101.61 262.50,103.49 263.00,104.58 263.50,104.76 264.00,104.05 264.50,102.32 265.00,99.90 265.50,97.21 266.00,94.64 266.50,92.50 267.00,91.02 267.50,90.37 268.00,90.84 268.50,92.58 269.00,95.39 269.50,98.86 270.00,102.41 270.50,105.34 271.00,107.03 271.50,107.01 272.00,105.04 272.50,101.38 273.00,96.89 273.50,92.67 274.00,89.75 274.50,88.83 275.00,89.90 275.50,92.43 276.00,95.76 276.50,99.09 277.00,101.67 277.50,103.03 278.00,103.01 278.50,101.81 279.00,99.88 279.50,97.73 280.00,95.87 280.50,94.66 281.00,94.28 281.50,94.77 282.00,95.98 282.50,97.58 283.00,99.16 283.50,100.33 284.00,100.80 284.50,100.79 285.00,100.38 285.50,99.48 286.00,98.15 286.50,96.62 287.00,95.31 287.50,94.61 288.00,94.79 288.50,95.83 289.00,97.45 289.50,99.10 290.00,100.24 290.50,100.41 291.00,99.61 291.50,98.11 292.00,96.42 292.50,95.11 293.00,94.66 293.50,95.22 294.00,96.54 294.50,98.12 295.00,99.47 295.50,100.24 296.00,100.29 296.50,99.70 297.00,98.75 297.50,97.77 298.00,96.95 298.50,96.43 299.00,96.21 299.50,96.17 300.00,96.17 300.50,96.14 301.00,96.13 301.50,96.42 302.00,97.08 302.50,98.03 303.00,99.11 303.50,100.06 304.00,100.58 304.50,100.48 305.00,99.66 305.50,98.31 306.00,96.78 306.50,95.49 307.00,94.82 307.50,94.99 308.00,95.81 308.50,96.95 309.00,98.14 309.50,99.11 310.00,99.68 310.50,99.78 311.00,99.48 311.50,98.91 312.00,98.20 312.50,97.54 313.00,97.07 313.50,96.88 314.00,96.99 314.50,97.33 315.00,97.79 315.50,98.20 316.00,98.42 316.50,98.38 317.00,98.07 317.50,97.60 318.00,97.15 318.50,96.88 319.00,96.90 319.50,97.21 320.00,97.76 320.50,98.44 321.00,99.01 321.50,99.25 322.00,99.06 322.50,98.49 323.00,97.76 323.50,97.13 324.00,96.71 324.50,96.47 325.00,96.32 325.50,96.13 326.00,95.86 326.50,96.09 327.00,97.21 327.50,98.75 328.00,100.08 328.50,100.61 329.00,100.42 329.50,99.77 330.00,98.64 330.50,97.18 331.00,95.67 331.50,94.49 332.00,93.97 332.50,94.04 333.00,94.78 333.50,96.12 334.00,97.79 334.50,99.44 335.00,100.76 335.50,101.58 336.00,101.92 336.50,101.93 337.00,101.81 337.50,101.49 338.00,100.67 338.50,99.36 339.00,97.66 339.50,95.92 340.00,94.33 340.50,93.06 341.00,92.39 341.50,93.11 342.00,95.39 342.50,98.68 343.00,102.09 343.50,104.59 344.00,105.40 344.50,104.11 345.00,101.01 345.50,96.99 346.00,93.13 346.50,90.50 347.00,89.78 347.50,91.24 348.00,94.73 348.50,99.34 349.00,103.72 349.50,106.61 350.00,107.21 350.50,105.41 351.00,101.85 351.50,97.45 352.00,93.28 352.50,90.26 353.00,88.93 353.50,89.41 354.00,91.57 354.50,95.13 355.00,99.14 355.50,102.55 356.00,104.54 356.50,104.64 357.00,103.46 357.50,101.88 358.00,100.09 358.50,98.29 359.00,96.67 359.50,95.49 360.00,94.82 360.50,94.70 361.00,95.08 361.50,95.97 362.00,97.15 362.50,98.17 363.00,98.72 363.50,98.84 364.00,98.44 364.50,97.57 365.00,96.48 365.50,95.60 366.00,95.38 366.50,96.09 367.00,97.61 367.50,99.47 368.00,101.06 368.50,101.82 369.00,101.40 369.50,99.96 370.00,98.17 370.50,96.86 371.00,96.31 371.50,96.10 372.00,96.19 372.50,96.41 373.00,96.49 373.50,95.90 374.00,94.86 374.50,93.85 375.00,93.41 375.50,93.96 376.00,95.70 376.50,98.36 377.00,101.45 377.50,104.37 378.00,106.43 378.50,107.09 379.00,106.15 379.50,103.64 380.00,100.11 380.50,96.42 381.00,93.37 381.50,91.48 382.00,90.96 382.50,91.69 383.00,93.06 383.50,94.42 384.00,95.45 384.50,96.05 385.00,96.45 385.50,96.80 386.00,97.15 386.50,98.15 387.00,100.21 387.50,102.60 388.00,104.50 388.50,105.29 389.00,104.66 389.50,102.32 390.00,98.73 390.50,94.75 391.00,91.20 391.50,88.74 392.00,87.68 392.50,88.04 393.00,89.97 393.50,93.37 394.00,97.58 394.50,101.85 395.00,105.38 395.50,107.49 396.00,107.77 396.50,106.22 397.00,103.15 397.50,99.13 398.00,94.92 398.50,91.36 399.00,89.18 399.50,88.83 400.00,90.03 400.50,92.49 401.00,95.75 401.50,99.10 402.00,101.79 402.50,103.19 403.00,103.24 403.50,102.21 404.00,100.35 404.50,98.16 405.00,96.19 405.50,94.96 406.00,94.61 406.50,95.16 407.00,96.48 407.50,98.21 408.00,99.84 408.50,100.80 409.00,100.86 409.50,99.96 410.00,98.35 410.50,96.52 411.00,95.03 411.50,94.40 412.00,94.93 412.50,96.27 413.00,97.77 413.50,98.75 414.00,99.11 414.50,98.84 415.00,98.08 415.50,97.17 416.00,96.55 416.50,96.61 417.00,97.48 417.50,98.85 418.00,100.17 418.50,100.82 419.00,100.43 419.50,98.92 420.00,96.69 420.50,94.41 421.00,92.81 421.50,92.44 422.00,93.43 422.50,96.01 423.00,99.54 423.50,102.76 424.00,104.51 424.50,104.15 425.00,101.94 425.50,98.67 426.00,95.30 426.50,92.67 427.00,91.37 427.50,91.57 428.00,93.01 428.50,94.96 429.00,96.94 429.50,98.63 430.00,99.82 430.50,100.44 431.00,100.47 431.50,100.07 432.00,99.52 432.50,98.77 433.00,97.82 433.50,96.84 434.00,96.13 434.50,95.91 435.00,95.78 435.50,95.81 436.00,96.07 436.50,96.44 437.00,96.71 437.50,96.65 438.00,96.62 438.50,96.78 439.00,97.09 439.50,97.53 440.00,98.02 440.50,98.46 441.00,98.65 441.50,98.54 442.00,98.17 442.50,97.63 443.00,97.11 443.50,96.79 444.00,96.79 444.50,97.27 445.00,98.14 445.50,99.14 446.00,99.99 446.50,100.30 447.00,99.56 447.50,97.84 448.00,95.63 448.50,93.62 449.00,92.49 449.50,92.70 450.00,94.31 450.50,97.05 451.00,100.26 451.50,103.00 452.00,104.41 452.50,104.12 453.00,102.50 453.50,99.93 454.00,97.03 454.50,94.41 455.00,92.72 455.50,92.46 456.00,93.54 456.50,95.30 457.00,97.26 457.50,98.87 458.00,99.66 458.50,99.38 459.00,98.50 459.50,97.70 460.00,97.35 460.50,97.73 461.00,98.82 461.50,100.46 462.00,102.28 462.50,103.69 463.00,103.72 463.50,102.19 464.00,99.39 464.50,95.93 465.00,92.62 465.50,90.30 466.00,89.57 466.50,90.67 467.00,93.33 467.50,96.94 468.00,100.61 468.50,103.48 469.00,104.93 469.50,104.82 470.00,103.41 470.50,101.16 471.00,98.65 471.50,96.51 472.00,95.20 472.50,94.87 473.00,94.99 473.50,95.44 474.00,96.08 474.50,96.71 475.00,97.11 475.50,97.24 476.00,97.14 476.50,96.83 477.00,96.40 477.50,96.00 478.00,95.99 478.50,96.52 479.00,97.59 479.50,99.03 480.00,100.57 480.50,101.90 481.00,102.61 481.50,102.43 482.00,101.20 482.50,99.03 483.00,96.38 483.50,93.84 484.00,91.92 484.50,90.97 485.00,91.06 485.50,92.00 486.00,93.36 486.50,95.47 487.00,98.01 487.50,100.47 488.00,102.48 488.50,103.84 489.00,104.52 489.50,104.46 490.00,103.51 490.50,101.73 491.00,99.29 491.50,96.39 492.00,93.36 492.50,90.61 493.00,88.78 493.50,88.70 494.00,90.87 494.50,94.66 495.00,98.92 495.50,102.29 496.00,103.92 496.50,104.28 497.00,103.63 497.50,102.03 498.00,99.84 498.50,97.64 499.00,96.08 499.50,95.63 500.00,96.46 500.50,98.12 501.00,99.77 501.50,100.63 502.00,100.18 502.50,98.36 503.00,95.69 503.50,93.08 504.00,91.41 504.50,91.14 505.00,92.38 505.50,94.89 506.00,98.10 506.50,101.20 507.00,103.43 507.50,104.24 508.00,103.83 508.50,102.53 509.00,100.73 509.50,98.91 510.00,97.50 510.50,96.68 511.00,96.08 511.50,95.39 512.00,94.86 512.50,94.59 513.00,94.03 513.50,93.49 514.00,93.38 514.50,93.94 515.00,95.20 515.50,97.15 516.00,99.33 516.50,101.24 517.00,102.55 517.50,103.12 518.00,102.99 518.50,102.27 519.00,101.02 519.50,99.35 520.00,97.45 520.50,95.44 521.00,93.48 521.50,91.82 522.00,90.82 522.50,90.97 523.00,92.57 523.50,95.36 524.00,98.63 524.50,101.45 525.00,102.96 525.50,102.98 526.00,101.78 526.50,99.57 527.00,96.95 527.50,94.71 528.00,93.51 528.50,93.53 529.00,93.96 529.50,94.62 530.00,95.28 530.50,95.75 531.00,96.00 531.50,96.44 532.00,97.14 532.50,98.08 533.00,99.14 533.50,100.09 534.00,100.64 534.50,100.49 535.00,99.46 535.50,97.77 536.00,95.89 536.50,94.43 537.00,94.01 537.50,94.82 538.00,96.57 538.50,98.69 539.00,100.47 539.50,101.33 540.00,101.12 540.50,100.06 541.00,98.51 541.50,96.92 542.00,95.75 542.50,95.34 543.00,95.62 543.50,96.18 544.00,96.82 544.50,97.34 545.00,97.61 545.50,97.58 546.00,97.69 546.50,98.13 547.00,98.84 547.50,99.68 548.00,100.52 548.50,101.24 549.00,101.75 549.50,102.01 550.00,101.84 550.50,100.63 551.00,98.48 551.50,95.68 552.00,92.69 552.50,90.08 553.00,88.47 553.50,88.26 554.00,89.95 554.50,93.45 555.00,98.02 555.50,102.62 556.00,106.17 556.50,107.84 557.00,107.26 557.50,105.11 558.00,102.00 558.50,98.62 559.00,95.64 559.50,93.58 560.00,92.68 560.50,92.89 561.00,93.88 561.50,94.98 562.00,95.83 562.50,96.30 563.00,96.46 563.50,96.39 564.00,96.36 564.50,97.16 565.00,98.58 565.50,100.17 566.00,101.43 566.50,102.03 567.00,101.84 567.50,101.00 568.00,99.83 568.50,98.63 569.00,97.60 569.50,96.81 570.00,96.18 570.50,95.58 571.00,94.98 571.50,94.45 572.00,94.18 572.50,94.37 573.00,95.17 573.50,96.59 574.00,98.42 574.50,100.30 575.00,101.83 575.50,102.70 576.00,102.83 576.50,102.35 577.00,101.52 577.50,100.35 578.00,99.10 578.50,98.07 579.00,97.37 579.50,97.04 580.00,97.03 580.50,97.34 581.00,98.11 581.50,98.57 582.00,97.92 582.50,96.22 583.00,94.12 583.50,92.41 584.00,91.75 584.50,92.40 585.00,94.31 585.50,97.06 586.00,100.19 586.50,103.24 587.00,105.75 587.50,107.36 588.00,107.69 588.50,106.43 589.00,103.67 589.50,99.76 590.00,95.29 590.50,91.04 591.00,87.88 591.50,86.43 592.00,86.93 592.50,89.32 593.00,93.11 593.50,97.40 594.00,101.09 594.50,103.26 595.00,103.61 595.50,102.30 596.00,100.02 596.50,97.78 597.00,96.47 597.50,96.63 598.00,98.21 598.50,100.70 599.00,103.32 599.50,105.19 600.00,105.21 600.50,103.05 601.00,99.25 601.50,94.79 602.00,90.76 602.50,88.35 603.00,88.30 603.50,90.73 604.00,95.05 604.50,100.21 605.00,105.20 605.50,109.09 606.00,111.25 606.50,111.40 607.00,109.31 607.50,105.48 608.00,100.86 608.50,96.41 609.00,92.98 609.50,91.18 610.00,90.83 610.50,91.05 611.00,91.77 611.50,92.89 612.00,94.26 612.50,95.65 613.00,96.77 613.50,97.63 614.00,98.26 614.50,98.71 615.00,99.30 615.50,100.24 616.00,101.33 616.50,102.31 617.00,102.95 617.50,102.93 618.00,101.76 618.50,99.43 619.00,96.30 619.50,92.93 620.00,89.98 620.50,88.26 621.00,88.31 621.50,90.28 622.00,93.83 622.50,98.17 623.00,102.26 623.50,105.10 624.00,105.96 624.50,104.71 625.00,101.79 625.50,98.07 626.00,94.70 626.50,92.75 627.00,92.94 627.50,95.44 628.00,99.42 628.50,103.53 629.00,106.35 629.50,106.89 630.00,104.80 630.50,100.56 631.00,95.25 631.50,90.25 632.00,86.84 632.50,85.88 633.00,88.11 633.50,93.45 634.00,100.50 634.50,107.35 635.00,112.18 635.50,113.68 636.00,111.82 636.50,107.45 637.00,101.64 637.50,95.77 638.00,91.21 638.50,88.94 639.00,89.28 639.50,91.47 640.00,94.58 640.50,97.58 641.00,99.64 641.50,100.25 642.00,99.60 642.50,98.27 643.00,96.80 643.50,95.68 644.00,95.24 644.50,95.65 645.00,96.92 645.50,98.69 646.00,100.51 646.50,101.98 647.00,102.80 647.50,102.83 648.00,102.09 648.50,100.55 649.00,98.27 649.50,95.53 650.00,92.78 650.50,90.61 651.00,89.61 651.50,90.42 652.00,93.12 652.50,97.11 653.00,101.40 653.50,104.85 654.00,106.47 654.50,105.79 655.00,103.18 655.50,99.44 656.00,95.61 656.50,92.76 657.00,91.63 657.50,92.43 658.00,94.83 658.50,97.98 659.00,100.97 659.50,102.87 660.00,103.10 660.50,101.62 661.00,99.03 661.50,96.24 662.00,94.07 662.50,93.07 663.00,93.41 663.50,94.78 664.00,96.49 664.50,98.07 665.00,99.19 665.50,99.71 666.00,99.69 666.50,99.26 667.00,98.54 667.50,97.75 668.00,97.14 668.50,96.90 669.00,97.08 669.50,97.79 670.00,99.09 670.50,100.48 671.00,101.28 671.50,100.99 672.00,99.50 672.50,97.05 673.00,94.28 673.50,91.95 674.00,90.81 674.50,91.31 675.00,93.58 675.50,97.27 676.00,101.46 676.50,105.06 677.00,107.17 677.50,107.30 678.00,105.20 678.50,100.97 679.00,96.03 679.50,92.06 680.00,90.38 680.50,90.91" fill="none" stroke="#D95319" stroke-width="0.75" stroke-linejoin="round" opacity="0.85"/>
<polyline points="254.50,90.37 255.00,90.66 255.50,91.29 256.00,91.96 256.50,92.30 257.00,92.04 257.50,90.90 258.00,89.02 258.50,86.99 259.00,85.57 259.50,85.26 260.00,86.24 260.50,88.25 261.00,90.85 261.50,93.45 262.00,95.54 262.50,96.81 263.00,97.06 263.50,96.36 264.00,94.92 264.50,92.94 265.00,90.82 265.50,88.92 266.00,87.49 266.50,86.65 267.00,86.44 267.50,86.84 268.00,87.87 268.50,89.49 269.00,91.51 269.50,93.65 270.00,95.57 270.50,96.94 271.00,97.48 271.50,97.06 272.00,95.39 272.50,92.52 273.00,89.13 273.50,86.05 274.00,84.03 274.50,83.57 275.00,84.64 275.50,86.87 276.00,89.69 276.50,92.39 277.00,94.29 277.50,94.98 278.00,94.32 278.50,92.57 279.00,90.26 279.50,88.07 280.00,86.63 280.50,86.33 281.00,87.26 281.50,89.17 282.00,91.47 282.50,93.47 283.00,94.54 283.50,94.39 284.00,93.11 284.50,91.28 285.00,89.48 285.50,88.14 286.00,87.50 286.50,87.65 287.00,88.53 287.50,89.84 288.00,91.19 288.50,92.22 289.00,92.68 289.50,92.50 290.00,91.78 290.50,90.69 291.00,89.51 291.50,88.53 292.00,88.00 292.50,88.04 293.00,88.64 293.50,89.68 294.00,90.86 294.50,91.87 295.00,92.43 295.50,92.51 296.00,92.14 296.50,91.40 297.00,90.46 297.50,89.55 298.00,88.88 298.50,88.59 299.00,88.72 299.50,89.18 300.00,89.78 300.50,90.31 301.00,90.56 301.50,90.51 302.00,90.13 302.50,89.54 303.00,89.03 303.50,88.84 304.00,89.15 304.50,89.95 305.00,91.00 305.50,92.00 306.00,92.64 306.50,92.70 307.00,92.10 307.50,91.05 308.00,89.86 308.50,88.78 309.00,88.03 309.50,87.78 310.00,88.05 310.50,88.73 311.00,89.69 311.50,90.74 312.00,91.63 312.50,92.19 313.00,92.32 313.50,92.04 314.00,91.46 314.50,90.75 315.00,90.07 315.50,89.55 316.00,89.27 316.50,89.25 317.00,89.44 317.50,89.76 318.00,90.15 318.50,90.53 319.00,90.85 319.50,91.04 320.00,91.17 320.50,91.25 321.00,91.18 321.50,90.88 322.00,90.35 322.50,89.63 323.00,88.93 323.50,88.50 324.00,88.50 324.50,88.92 325.00,89.64 325.50,90.45 326.00,91.14 326.50,91.82 327.00,92.48 327.50,92.77 328.00,92.40 328.50,91.27 329.00,89.73 329.50,88.31 330.00,87.18 330.50,86.58 331.00,86.59 331.50,87.15 332.00,88.10 332.50,89.09 333.00,90.21 333.50,91.40 334.00,92.47 334.50,93.30 335.00,93.83 335.50,94.03 336.00,93.95 336.50,93.60 337.00,93.01 337.50,92.14 338.00,90.90 338.50,89.48 339.00,88.21 339.50,87.85 340.00,88.39 340.50,89.36 341.00,90.20 341.50,90.95 342.00,91.69 342.50,92.18 343.00,92.19 343.50,91.65 344.00,90.63 344.50,89.38 345.00,88.30 345.50,87.90 346.00,88.23 346.50,89.07 347.00,90.08 347.50,90.92 348.00,91.72 348.50,92.53 349.00,93.10 349.50,93.24 350.00,92.85 350.50,91.96 351.00,90.73 351.50,89.32 352.00,87.94 352.50,86.88 353.00,86.30 353.50,86.34 354.00,87.13 354.50,88.78 355.00,90.96 355.50,93.17 356.00,94.88 356.50,95.56 357.00,95.23 357.50,94.14 358.00,92.42 358.50,90.42 359.00,88.71 359.50,87.95 360.00,88.17 360.50,89.06 361.00,90.16 361.50,91.38 362.00,92.37 362.50,92.65 363.00,91.96 363.50,90.49 364.00,88.54 364.50,86.62 365.00,85.25 365.50,85.01 366.00,86.23 366.50,88.72 367.00,91.88 367.50,94.93 368.00,97.11 368.50,97.90 369.00,97.24 369.50,95.45 370.00,93.12 370.50,90.89 371.00,89.07 371.50,87.55 372.00,86.38 372.50,85.56 373.00,85.06 373.50,84.76 374.00,85.06 374.50,86.10 375.00,87.85 375.50,90.08 376.00,92.44 376.50,94.42 377.00,95.70 377.50,96.33 378.00,96.26 378.50,95.54 379.00,94.37 379.50,92.90 380.00,91.37 380.50,89.99 381.00,88.89 381.50,87.95 382.00,87.17 382.50,86.64 383.00,86.32 383.50,86.25 384.00,86.52 384.50,87.23 385.00,88.63 385.50,90.48 386.00,92.23 386.50,93.71 387.00,94.82 387.50,95.21 388.00,94.71 388.50,93.51 389.00,92.02 389.50,90.41 390.00,89.05 390.50,88.14 391.00,87.70 391.50,87.59 392.00,87.58 392.50,87.47 393.00,87.41 393.50,87.67 394.00,88.46 394.50,90.02 395.00,92.09 395.50,94.17 396.00,95.67 396.50,96.07 397.00,95.12 397.50,92.89 398.00,89.84 398.50,86.73 399.00,84.40 399.50,83.51 400.00,84.16 400.50,86.25 401.00,89.36 401.50,92.65 402.00,95.22 402.50,96.42 403.00,96.12 403.50,94.67 404.00,92.62 404.50,90.73 405.00,89.53 405.50,89.25 406.00,89.74 406.50,90.61 407.00,91.45 407.50,91.93 408.00,91.87 408.50,91.12 409.00,90.01 409.50,88.96 410.00,88.36 410.50,88.41 411.00,89.06 411.50,90.01 412.00,91.02 412.50,91.71 413.00,91.84 413.50,91.37 414.00,90.71 414.50,90.28 415.00,90.15 415.50,90.26 416.00,90.42 416.50,90.46 417.00,90.34 417.50,90.09 418.00,89.79 418.50,89.59 419.00,89.64 419.50,89.96 420.00,90.46 420.50,90.94 421.00,91.20 421.50,91.13 422.00,90.68 422.50,90.22 423.00,90.01 423.50,90.09 424.00,90.44 424.50,90.97 425.00,91.52 425.50,91.88 426.00,91.78 426.50,91.07 427.00,89.84 427.50,88.40 428.00,87.19 428.50,86.56 429.00,86.82 429.50,88.05 430.00,89.95 430.50,92.00 431.00,93.62 431.50,94.41 432.00,94.26 432.50,93.24 433.00,91.69 433.50,90.18 434.00,89.23 434.50,88.99 435.00,89.06 435.50,89.23 436.00,89.28 436.50,89.02 437.00,88.39 437.50,87.50 438.00,86.89 438.50,86.99 439.00,87.88 439.50,89.40 440.00,91.18 440.50,92.72 441.00,93.52 441.50,93.45 442.00,92.65 442.50,91.39 443.00,90.12 443.50,89.26 444.00,89.07 444.50,89.64 445.00,90.55 445.50,91.25 446.00,91.46 446.50,91.00 447.00,89.81 447.50,88.24 448.00,86.90 448.50,86.38 449.00,86.98 449.50,88.64 450.00,90.97 450.50,93.36 451.00,95.18 451.50,95.70 452.00,94.58 452.50,92.24 453.00,89.59 453.50,87.47 454.00,86.46 454.50,86.55 455.00,87.51 455.50,89.08 456.00,90.73 456.50,91.87 457.00,92.28 457.50,91.97 458.00,91.14 458.50,90.13 459.00,89.42 459.50,89.39 460.00,90.03 460.50,91.09 461.00,92.04 461.50,92.60 462.00,92.70 462.50,92.39 463.00,91.60 463.50,90.58 464.00,89.61 464.50,88.82 465.00,88.29 465.50,88.06 466.00,88.15 466.50,88.58 467.00,89.33 467.50,90.42 468.00,91.69 468.50,92.90 469.00,93.74 469.50,93.97 470.00,93.50 470.50,92.38 471.00,90.77 471.50,89.03 472.00,87.61 472.50,86.88 473.00,86.85 473.50,87.59 474.00,89.01 474.50,90.69 475.00,92.10 475.50,92.84 476.00,92.70 476.50,91.75 477.00,90.37 477.50,88.99 478.00,88.13 478.50,88.06 479.00,88.77 479.50,90.02 480.00,91.50 480.50,92.92 481.00,93.86 481.50,94.05 482.00,93.40 482.50,92.05 483.00,90.48 483.50,89.20 484.00,88.41 484.50,88.17 485.00,88.38 485.50,88.83 486.00,89.15 486.50,89.46 487.00,89.91 487.50,90.55 488.00,91.43 488.50,92.48 489.00,93.54 489.50,94.05 490.00,93.45 490.50,91.66 491.00,88.87 491.50,85.55 492.00,82.31 492.50,79.86 493.00,79.13 493.50,80.82 494.00,84.70 494.50,89.70 495.00,94.35 495.50,97.34 496.00,98.30 496.50,97.72 497.00,95.99 497.50,93.58 498.00,91.08 498.50,89.10 499.00,88.08 499.50,88.11 500.00,89.03 500.50,90.38 501.00,91.60 501.50,92.21 502.00,92.00 502.50,90.86 503.00,89.22 503.50,87.85 504.00,87.20 504.50,87.21 505.00,87.82 505.50,88.89 506.00,90.18 506.50,91.41 507.00,92.36 507.50,92.87 508.00,93.07 508.50,93.05 509.00,92.84 509.50,92.53 510.00,92.18 510.50,91.70 511.00,90.82 511.50,89.63 512.00,88.50 512.50,87.71 513.00,87.11 513.50,86.84 514.00,87.01 514.50,87.61 515.00,88.51 515.50,89.68 516.00,90.87 516.50,91.90 517.00,92.62 517.50,92.95 518.00,92.86 518.50,92.35 519.00,91.43 519.50,90.21 520.00,89.04 520.50,88.14 521.00,87.55 521.50,87.26 522.00,87.26 522.50,87.63 523.00,88.65 523.50,90.17 524.00,91.79 524.50,93.08 525.00,93.64 525.50,93.49 526.00,92.77 526.50,91.42 527.00,89.69 527.50,88.01 528.00,86.78 528.50,86.22 529.00,86.11 529.50,86.60 530.00,87.59 530.50,88.90 531.00,90.26 531.50,91.56 532.00,92.57 532.50,93.08 533.00,93.00 533.50,92.40 534.00,91.44 534.50,90.29 535.00,89.11 535.50,88.10 536.00,87.40 536.50,87.15 537.00,87.70 537.50,88.92 538.00,90.41 538.50,91.73 539.00,92.50 539.50,92.58 540.00,92.26 540.50,91.73 541.00,91.11 541.50,90.51 542.00,90.04 542.50,89.79 543.00,89.74 543.50,89.69 544.00,89.70 544.50,89.85 545.00,90.17 545.50,90.63 546.00,91.34 546.50,92.20 547.00,92.97 547.50,93.39 548.00,93.33 548.50,92.79 549.00,91.87 549.50,90.78 550.00,89.67 550.50,88.43 551.00,87.21 551.50,86.14 552.00,85.33 552.50,84.97 553.00,85.33 553.50,86.35 554.00,88.04 554.50,90.23 555.00,92.53 555.50,94.51 556.00,95.79 556.50,96.14 557.00,95.45 557.50,94.08 558.00,92.30 558.50,90.37 559.00,88.60 559.50,87.29 560.00,86.67 560.50,86.78 561.00,87.46 561.50,88.33 562.00,89.08 562.50,89.60 563.00,89.98 563.50,90.10 564.00,90.04 564.50,90.20 565.00,90.57 565.50,91.04 566.00,91.54 566.50,91.99 567.00,92.30 567.50,92.43 568.00,92.38 568.50,92.14 569.00,91.78 569.50,91.31 570.00,90.71 570.50,89.92 571.00,88.95 571.50,87.92 572.00,87.01 572.50,86.46 573.00,86.49 573.50,87.26 574.00,88.76 574.50,90.77 575.00,92.92 575.50,94.72 576.00,95.79 576.50,95.89 577.00,95.00 577.50,93.21 578.00,90.96 578.50,88.87 579.00,87.44 579.50,87.06 580.00,87.79 580.50,89.38 581.00,91.40 581.50,92.92 582.00,93.15 582.50,91.95 583.00,89.82 583.50,87.53 584.00,85.89 584.50,85.44 585.00,86.33 585.50,88.29 586.00,90.91 586.50,93.60 587.00,95.71 587.50,96.80 588.00,96.65 588.50,95.31 589.00,93.17 589.50,90.73 590.00,88.45 590.50,86.67 591.00,85.60 591.50,85.30 592.00,85.62 592.50,86.42 593.00,87.54 593.50,88.82 594.00,90.03 594.50,90.96 595.00,91.54 595.50,91.71 596.00,91.53 596.50,91.17 597.00,90.82 597.50,90.68 598.00,90.84 598.50,91.35 599.00,92.28 599.50,93.43 600.00,94.22 600.50,94.23 601.00,93.38 601.50,91.70 602.00,89.23 602.50,86.79 603.00,85.37 603.50,85.67 604.00,87.50 604.50,90.21 605.00,93.25 605.50,95.99 606.00,97.84 606.50,98.37 607.00,97.29 607.50,94.92 608.00,91.95 608.50,89.10 609.00,87.06 609.50,86.27 610.00,86.62 610.50,87.48 611.00,88.54 611.50,89.41 612.00,89.93 612.50,90.05 613.00,89.85 613.50,89.59 614.00,89.50 614.50,89.63 615.00,90.00 615.50,90.54 616.00,91.02 616.50,91.25 617.00,91.18 617.50,90.61 618.00,89.37 618.50,87.80 619.00,86.31 619.50,85.23 620.00,84.73 620.50,85.15 621.00,86.46 621.50,88.35 622.00,90.42 622.50,92.26 623.00,93.53 623.50,94.08 624.00,93.90 624.50,93.04 625.00,91.66 625.50,90.04 626.00,88.54 626.50,87.59 627.00,87.59 627.50,88.73 628.00,90.72 628.50,92.92 629.00,94.62 629.50,95.22 630.00,94.30 630.50,92.04 631.00,89.01 631.50,86.01 632.00,83.89 632.50,83.14 633.00,84.22 633.50,87.15 634.00,91.20 634.50,95.29 635.00,98.29 635.50,99.34 636.00,98.29 636.50,95.61 637.00,92.01 637.50,88.51 638.00,86.06 638.50,85.31 639.00,86.36 639.50,88.50 640.00,90.80 640.50,92.40 641.00,92.89 641.50,92.19 642.00,90.60 642.50,88.78 643.00,87.33 643.50,86.75 644.00,87.22 644.50,88.68 645.00,90.79 645.50,92.94 646.00,94.52 646.50,95.12 647.00,94.63 647.50,93.21 648.00,91.30 648.50,89.32 649.00,87.65 649.50,86.67 650.00,86.48 650.50,86.99 651.00,88.02 651.50,89.48 652.00,91.15 652.50,92.70 653.00,93.84 653.50,94.32 654.00,93.97 654.50,92.80 655.00,91.09 655.50,89.26 656.00,87.73 656.50,86.88 657.00,86.94 657.50,87.94 658.00,89.66 658.50,91.69 659.00,93.63 659.50,94.88 660.00,94.99 660.50,93.82 661.00,91.67 661.50,89.20 662.00,87.12 662.50,85.94 663.00,85.97 663.50,87.15 664.00,89.01 664.50,91.00 665.00,92.54 665.50,93.24 666.00,93.03 666.50,92.04 667.00,90.62 667.50,89.24 668.00,88.40 668.50,88.42 669.00,89.18 669.50,90.43 670.00,91.85 670.50,92.91 671.00,93.07 671.50,92.21 672.00,90.57 672.50,88.62 673.00,86.93 673.50,85.96 674.00,86.03 674.50,87.20 675.00,89.25 675.50,91.73 676.00,94.07 676.50,95.73 677.00,96.36 677.50,95.95 678.00,94.51 678.50,92.17 679.00,89.62 679.50,87.68 680.00,86.87 680.50,86.83" fill="none" stroke="#EDB120" stroke-width="0.75" stroke-linejoin="round" opacity="0.85"/>
<polyline points="254.50,80.70 255.00,80.70 255.50,80.65 256.00,80.38 256.50,79.95 257.00,79.47 257.50,79.08 258.00,78.91 258.50,79.18 259.00,80.26 259.50,81.94 260.00,83.89 260.50,85.72 261.00,87.08 261.50,87.68 262.00,87.56 262.50,87.04 263.00,86.19 263.50,85.13 264.00,84.03 264.50,83.04 265.00,82.31 265.50,81.93 266.00,81.97 266.50,82.41 267.00,83.21 267.50,84.31 268.00,85.64 268.50,87.10 269.00,88.58 269.50,89.98 270.00,91.18 270.50,92.11 271.00,92.70 271.50,92.90 272.00,91.57 272.50,87.88 273.00,82.65 273.50,77.04 274.00,72.30 274.50,69.48 275.00,69.23 275.50,71.68 276.00,76.24 276.50,81.78 277.00,86.89 277.50,90.30 278.00,91.14 278.50,89.28 279.00,85.35 279.50,80.65 280.00,76.72 280.50,74.86 281.00,75.74 281.50,79.19 282.00,83.99 282.50,88.44 283.00,90.96 283.50,90.67 284.00,87.60 284.50,82.65 285.00,77.22 285.50,72.88 286.00,70.86 286.50,71.85 287.00,75.78 287.50,81.54 288.00,87.47 288.50,91.88 289.00,93.50 289.50,92.09 290.00,88.25 290.50,83.00 291.00,77.75 291.50,73.91 292.00,72.50 292.50,73.80 293.00,77.31 293.50,82.04 294.00,86.63 294.50,89.76 295.00,90.56 295.50,89.13 296.00,85.97 296.50,81.85 297.00,77.73 297.50,74.57 298.00,73.14 298.50,73.70 299.00,75.99 299.50,79.46 300.00,83.29 300.50,86.59 301.00,88.56 301.50,88.72 302.00,86.82 302.50,83.33 303.00,79.27 303.50,75.78 304.00,73.88 304.50,74.07 305.00,76.17 305.50,79.57 306.00,83.29 306.50,86.27 307.00,87.66 307.50,87.33 308.00,85.89 308.50,83.66 309.00,81.06 309.50,78.63 310.00,76.83 310.50,76.02 311.00,76.48 311.50,78.29 312.00,80.97 312.50,83.81 313.00,86.04 313.50,87.07 314.00,86.64 314.50,84.93 315.00,82.42 315.50,79.83 316.00,77.91 316.50,77.20 317.00,77.82 317.50,79.51 318.00,81.79 318.50,83.99 319.00,85.50 319.50,85.88 320.00,85.33 320.50,84.08 321.00,82.39 321.50,80.60 322.00,79.05 322.50,78.06 323.00,77.82 323.50,78.57 324.00,80.19 324.50,82.21 325.00,84.06 325.50,85.20 326.00,85.33 326.50,84.62 327.00,83.24 327.50,81.48 328.00,79.69 328.50,78.21 329.00,77.35 329.50,77.23 330.00,77.50 330.50,77.99 331.00,78.59 331.50,79.12 332.00,79.44 332.50,79.61 333.00,80.85 333.50,83.13 334.00,85.84 334.50,88.26 335.00,89.74 335.50,89.89 336.00,88.66 336.50,86.32 337.00,83.31 337.50,80.25 338.00,77.73 338.50,76.25 339.00,76.30 339.50,79.47 340.00,84.76 340.50,89.80 341.00,92.32 341.50,91.65 342.00,88.79 342.50,84.32 343.00,79.13 343.50,74.25 344.00,70.66 344.50,69.05 345.00,70.08 345.50,74.13 346.00,80.07 346.50,86.18 347.00,90.73 347.50,92.40 348.00,91.68 348.50,89.62 349.00,86.52 349.50,82.83 350.00,79.09 350.50,75.83 351.00,73.53 351.50,72.53 352.00,73.12 352.50,75.48 353.00,79.17 353.50,83.45 354.00,87.47 354.50,90.43 355.00,91.76 355.50,91.30 356.00,89.36 356.50,86.34 357.00,82.84 357.50,79.55 358.00,77.12 358.50,76.03 359.00,76.94 359.50,80.29 360.00,84.61 360.50,87.96 361.00,88.88 361.50,88.11 362.00,86.36 362.50,83.87 363.00,81.01 363.50,78.19 364.00,75.82 364.50,74.25 365.00,73.70 365.50,74.80 366.00,77.88 366.50,82.33 367.00,87.27 367.50,91.72 368.00,94.80 368.50,95.90 369.00,95.09 369.50,92.76 370.00,89.16 370.50,84.68 371.00,79.84 371.50,75.15 372.00,71.15 372.50,68.27 373.00,66.83 373.50,67.23 374.00,70.31 374.50,75.56 375.00,81.96 375.50,88.22 376.00,93.11 376.50,95.67 377.00,95.62 377.50,93.98 378.00,91.08 378.50,87.36 379.00,83.34 379.50,79.62 380.00,76.72 380.50,75.08 381.00,74.86 381.50,75.53 382.00,76.80 382.50,78.43 383.00,80.09 383.50,81.46 384.00,82.26 384.50,82.48 385.00,83.36 385.50,84.96 386.00,86.84 386.50,88.44 387.00,89.32 387.50,89.14 388.00,87.60 388.50,84.97 389.00,81.77 389.50,78.64 390.00,76.19 390.50,74.92 391.00,75.08 391.50,76.67 392.00,79.24 392.50,82.06 393.00,84.32 393.50,85.37 394.00,85.35 394.50,85.13 395.00,84.75 395.50,84.24 396.00,83.63 396.50,82.95 397.00,82.24 397.50,81.54 398.00,80.89 398.50,80.34 399.00,79.91 399.50,79.62 400.00,79.50 400.50,79.80 401.00,80.95 401.50,82.75 402.00,84.83 402.50,86.79 403.00,88.23 403.50,88.88 404.00,88.80 404.50,88.39 405.00,87.73 405.50,86.90 406.00,86.03 406.50,85.23 407.00,84.61 407.50,84.26 408.00,84.14 408.50,83.53 409.00,82.41 409.50,81.09 410.00,79.97 410.50,79.36 411.00,79.34 411.50,79.55 412.00,79.89 412.50,80.26 413.00,80.56 413.50,80.70 414.00,80.94 414.50,81.84 415.00,83.16 415.50,84.52 416.00,85.53 416.50,85.90 417.00,85.65 417.50,84.92 418.00,83.83 418.50,82.53 419.00,81.22 419.50,80.07 420.00,79.26 420.50,78.91 421.00,79.20 421.50,80.33 422.00,81.97 422.50,83.67 423.00,84.93 423.50,85.40 424.00,85.11 424.50,84.29 425.00,83.11 425.50,81.79 426.00,80.61 426.50,79.79 427.00,79.50 427.50,79.79 428.00,80.61 428.50,81.79 429.00,83.11 429.50,84.29 430.00,85.11 430.50,85.40 431.00,85.31 431.50,85.06 432.00,84.70 432.50,84.30 433.00,83.94 433.50,83.69 434.00,83.60 434.50,83.16 435.00,81.94 435.50,80.18 436.00,78.22 436.50,76.46 437.00,75.24 437.50,74.80 438.00,75.38 438.50,77.00 439.00,79.35 439.50,81.95 440.00,84.30 440.50,85.92 441.00,86.50 441.50,86.33 442.00,85.84 442.50,85.14 443.00,84.36 443.50,83.66 444.00,83.17 444.50,83.00 445.00,82.38 445.50,80.67 446.00,78.35 446.50,76.03 447.00,74.32 447.50,73.70 448.00,74.68 448.50,77.43 449.00,81.40 449.50,85.80 450.00,89.77 450.50,92.52 451.00,93.50 451.50,91.83 452.00,87.31 452.50,81.22 453.00,75.31 453.50,71.28 454.00,70.24 454.50,71.60 455.00,74.65 455.50,78.77 456.00,83.16 456.50,86.94 457.00,89.37 457.50,89.97 458.00,88.82 458.50,86.35 459.00,83.26 459.50,80.45 460.00,78.70 460.50,78.45 461.00,78.95 461.50,79.93 462.00,81.17 462.50,82.44 463.00,83.48 463.50,84.10 464.00,84.13 464.50,83.41 465.00,82.08 465.50,80.52 466.00,79.19 466.50,78.47 467.00,78.61 467.50,79.83 468.00,81.79 468.50,83.95 469.00,85.67 469.50,86.48 470.00,86.24 470.50,85.23 471.00,83.64 471.50,81.77 472.00,79.97 472.50,78.59 473.00,77.87 473.50,78.00 474.00,79.14 474.50,80.99 475.00,83.01 475.50,84.63 476.00,85.38 476.50,85.18 477.00,84.32 477.50,82.98 478.00,81.43 478.50,79.97 479.00,78.90 479.50,78.41 480.00,78.94 480.50,80.95 481.00,83.89 481.50,86.92 482.00,89.17 482.50,90.00 483.00,89.69 483.50,88.85 484.00,87.70 484.50,86.55 485.00,85.71 485.50,85.40 486.00,84.88 486.50,83.40 487.00,81.28 487.50,78.92 488.00,76.80 488.50,75.32 489.00,74.80 489.50,74.45 490.00,73.48 490.50,72.08 491.00,70.52 491.50,69.12 492.00,68.15 492.50,67.80 493.00,69.39 493.50,73.70 494.00,79.50 494.50,85.13 495.00,88.97 495.50,89.98 496.00,89.38 496.50,88.05 497.00,86.23 497.50,84.31 498.00,82.64 498.50,81.58 499.00,81.31 499.50,81.52 500.00,81.98 500.50,82.57 501.00,83.13 501.50,83.50 502.00,83.57 502.50,82.63 503.00,81.07 503.50,80.13 504.00,80.15 504.50,80.35 505.00,80.70 505.50,81.17 506.00,81.74 506.50,82.36 507.00,83.01 507.50,83.64 508.00,84.22 508.50,84.71 509.00,85.09 509.50,85.32 510.00,85.40 510.50,84.73 511.00,82.90 511.50,80.45 512.00,78.06 512.50,76.43 513.00,76.03 513.50,77.00 514.00,79.11 514.50,81.80 515.00,84.34 515.50,86.05 516.00,86.47 516.50,85.51 517.00,83.36 517.50,80.44 518.00,77.34 518.50,74.66 519.00,72.95 519.50,72.55 520.00,74.17 520.50,77.66 521.00,82.03 521.50,86.01 522.00,88.47 522.50,88.82 523.00,88.00 523.50,86.43 524.00,84.41 524.50,82.35 525.00,80.66 525.50,79.67 526.00,79.50 526.50,79.50 527.00,79.50 527.50,79.50 528.00,79.50 528.50,79.50 529.00,79.61 529.50,80.23 530.00,81.29 530.50,82.58 531.00,83.85 531.50,84.84 532.00,85.35 532.50,85.25 533.00,84.33 533.50,82.73 534.00,80.66 534.50,78.44 535.00,76.37 535.50,74.77 536.00,73.85 536.50,73.89 537.00,75.93 537.50,79.67 538.00,84.03 538.50,87.77 539.00,89.81 539.50,89.81 540.00,88.70 540.50,86.81 541.00,84.51 541.50,82.26 542.00,80.50 542.50,79.58 543.00,79.59 543.50,80.14 544.00,81.10 544.50,82.33 545.00,83.67 545.50,84.90 546.00,85.86 546.50,86.41 547.00,86.45 547.50,85.91 548.00,84.80 548.50,83.24 549.00,81.35 549.50,79.29 550.00,77.26 550.50,75.42 551.00,73.94 551.50,72.94 552.00,72.51 552.50,73.10 553.00,75.39 553.50,78.96 554.00,83.11 554.50,87.00 555.00,89.88 555.50,91.16 556.00,90.67 556.50,88.64 557.00,85.44 557.50,81.69 558.00,78.08 558.50,75.28 559.00,73.83 559.50,74.04 560.00,75.96 560.50,79.06 561.00,82.47 561.50,85.19 562.00,86.46 562.50,86.24 563.00,85.25 563.50,83.70 564.00,81.91 564.50,80.22 565.00,78.97 565.50,78.42 566.00,78.72 566.50,79.94 567.00,81.71 567.50,83.54 568.00,84.90 568.50,85.40 569.00,85.08 569.50,84.18 570.00,82.87 570.50,81.43 571.00,80.12 571.50,79.22 572.00,78.90 572.50,79.16 573.00,79.90 573.50,80.96 574.00,82.14 574.50,83.20 575.00,83.94 575.50,84.20 576.00,83.97 576.50,83.32 577.00,82.37 577.50,81.33 578.00,80.38 578.50,79.73 579.00,79.50 579.50,79.92 580.00,81.07 580.50,82.61 581.00,84.11 581.50,85.13 582.00,85.38 582.50,84.82 583.00,83.56 583.50,81.85 584.00,80.03 584.50,78.47 585.00,77.46 585.50,77.23 586.00,78.32 586.50,80.67 587.00,83.66 587.50,86.49 588.00,88.39 588.50,88.87 589.00,87.82 589.50,85.49 590.00,82.32 590.50,78.95 591.00,76.05 591.50,74.18 592.00,73.72 592.50,74.53 593.00,76.33 593.50,78.76 594.00,81.36 594.50,83.59 595.00,85.03 595.50,85.38 596.00,84.69 596.50,83.20 597.00,81.33 597.50,79.63 598.00,78.58 598.50,78.55 599.00,80.15 599.50,83.09 600.00,86.51 600.50,89.45 601.00,91.05 601.50,90.52 602.00,86.77 602.50,81.33 603.00,76.64 603.50,74.80 604.00,75.50 604.50,77.45 605.00,80.28 605.50,83.42 606.00,86.25 606.50,88.20 607.00,88.90 607.50,88.41 608.00,87.02 608.50,85.01 609.00,82.74 609.50,80.64 610.00,79.10 610.50,78.42 611.00,78.53 611.50,79.02 612.00,79.78 612.50,80.67 613.00,81.50 613.50,82.12 614.00,82.39 614.50,82.10 615.00,81.00 615.50,79.37 616.00,77.70 616.50,76.46 617.00,76.00 617.50,75.53 618.00,74.27 618.50,72.57 619.00,70.93 619.50,69.80 620.00,69.55 620.50,71.39 621.00,75.42 621.50,80.70 622.00,85.98 622.50,90.01 623.00,91.85 623.50,91.26 624.00,88.83 624.50,85.10 625.00,80.90 625.50,77.17 626.00,74.74 626.50,74.15 627.00,75.74 627.50,79.12 628.00,83.27 628.50,86.90 629.00,88.91 629.50,88.55 630.00,85.41 630.50,80.40 631.00,75.05 631.50,71.00 632.00,69.50 632.50,70.75 633.00,74.20 633.50,79.11 634.00,84.36 634.50,88.81 635.00,91.45 635.50,91.70 636.00,89.57 636.50,85.72 637.00,81.32 637.50,77.73 638.00,76.05 638.50,76.75 639.00,79.43 639.50,82.87 640.00,85.55 640.50,86.27 641.00,85.38 641.50,83.49 642.00,81.17 642.50,79.13 643.00,78.01 643.50,78.11 644.00,79.31 644.50,81.23 645.00,83.28 645.50,84.83 646.00,85.40 646.50,84.89 647.00,83.53 647.50,81.73 648.00,80.04 648.50,78.99 649.00,78.93 649.50,80.31 650.00,82.80 650.50,85.65 651.00,87.98 651.50,89.07 652.00,88.50 652.50,86.20 653.00,82.68 653.50,78.72 654.00,75.20 654.50,72.90 655.00,72.35 655.50,73.93 656.00,77.42 656.50,82.06 657.00,86.81 657.50,90.61 658.00,92.61 658.50,92.53 659.00,90.94 659.50,88.18 660.00,84.76 660.50,81.27 661.00,78.34 661.50,76.48 662.00,76.01 662.50,76.52 663.00,77.65 663.50,79.14 664.00,80.67 664.50,81.89 665.00,82.54 665.50,82.52 666.00,82.09 666.50,81.46 667.00,80.91 667.50,80.70 668.00,81.27 668.50,82.82 669.00,84.87 669.50,86.79 670.00,87.99 670.50,88.05 671.00,86.39 671.50,83.26 672.00,79.35 672.50,75.53 673.00,72.64 673.50,71.34 674.00,72.07 674.50,75.01 675.00,79.52 675.50,84.58 676.00,89.09 676.50,92.03 677.00,92.76 677.50,91.48 678.00,88.75 678.50,85.40 679.00,82.47 679.50,80.85 680.00,80.70 680.50,80.70" fill="none" stroke="#7E2F8E" stroke-width="0.75" stroke-linejoin="round" opacity="0.85"/>
<polyline points="254.50,75.89 255.00,75.57 255.50,75.11 256.00,74.59 256.50,74.13 257.00,73.81 257.50,73.70 258.00,73.59 258.50,73.29 259.00,72.84 259.50,72.31 260.00,71.76 260.50,71.29 261.00,70.95 261.50,70.80 262.00,70.87 262.50,71.13 263.00,71.56 263.50,72.08 264.00,72.63 264.50,73.13 265.00,73.50 265.50,73.68 266.00,73.61 266.50,73.08 267.00,72.23 267.50,71.30 268.00,70.56 268.50,70.21 269.00,70.76 269.50,72.88 270.00,75.97 270.50,79.16 271.00,81.53 271.50,82.40 272.00,81.49 272.50,78.98 273.00,75.41 273.50,71.58 274.00,68.35 274.50,66.43 275.00,66.24 275.50,67.72 276.00,70.47 276.50,73.81 277.00,76.90 277.50,78.96 278.00,79.47 278.50,78.41 279.00,76.18 279.50,73.52 280.00,71.29 280.50,70.23 281.00,70.84 281.50,73.17 282.00,76.42 282.50,79.43 283.00,81.14 283.50,80.93 284.00,78.83 284.50,75.43 285.00,71.71 285.50,68.73 286.00,67.34 286.50,67.92 287.00,70.24 287.50,73.64 288.00,77.14 288.50,79.74 289.00,80.70 289.50,79.76 290.00,77.20 290.50,73.70 291.00,70.20 291.50,67.64 292.00,66.70 292.50,67.62 293.00,70.10 293.50,73.45 294.00,76.69 294.50,78.91 295.00,79.47 295.50,78.56 296.00,76.57 296.50,73.95 297.00,71.33 297.50,69.34 298.00,68.43 298.50,68.80 299.00,70.32 299.50,72.63 300.00,75.17 300.50,77.36 301.00,78.67 301.50,78.80 302.00,77.71 302.50,75.71 303.00,73.39 303.50,71.39 304.00,70.30 304.50,70.35 305.00,71.21 305.50,72.69 306.00,74.48 306.50,76.24 307.00,77.62 307.50,78.33 308.00,78.21 308.50,77.15 309.00,75.42 309.50,73.54 310.00,72.02 310.50,71.32 311.00,71.56 311.50,72.52 312.00,73.94 312.50,75.45 313.00,76.64 313.50,77.18 314.00,76.98 314.50,76.12 315.00,74.78 315.50,73.23 316.00,71.77 316.50,70.70 317.00,70.21 317.50,70.50 318.00,71.60 318.50,73.23 319.00,74.90 319.50,76.14 320.00,76.60 320.50,76.37 321.00,75.72 321.50,74.77 322.00,73.73 322.50,72.78 323.00,72.13 323.50,71.90 324.00,72.24 324.50,73.15 325.00,74.38 325.50,75.57 326.00,76.38 326.50,76.59 327.00,76.35 327.50,75.81 328.00,75.08 328.50,74.31 329.00,73.64 329.50,73.21 330.00,73.11 330.50,73.29 331.00,73.72 331.50,74.30 332.00,74.93 332.50,75.48 333.00,75.86 333.50,76.00 334.00,75.76 334.50,75.06 335.00,73.99 335.50,72.66 336.00,71.21 336.50,69.82 337.00,68.63 337.50,67.77 338.00,67.34 338.50,67.39 339.00,67.94 339.50,68.88 340.00,70.02 340.50,71.13 341.00,72.00 341.50,72.46 342.00,72.52 342.50,72.65 343.00,72.86 343.50,73.13 344.00,73.38 344.50,73.59 345.00,73.69 345.50,73.61 346.00,73.06 346.50,72.10 347.00,70.87 347.50,69.53 348.00,68.30 348.50,67.34 349.00,66.79 349.50,66.79 350.00,67.81 350.50,69.67 351.00,71.83 351.50,73.69 352.00,74.71 352.50,74.72 353.00,74.23 353.50,73.40 354.00,72.40 354.50,71.41 355.00,70.64 355.50,70.24 356.00,70.30 356.50,70.92 357.00,71.96 357.50,73.23 358.00,74.47 358.50,75.45 359.00,75.95 359.50,75.82 360.00,74.77 360.50,73.07 361.00,71.20 361.50,69.71 362.00,69.02 362.50,69.38 363.00,70.80 363.50,72.88 364.00,75.02 364.50,76.61 365.00,77.20 365.50,77.07 366.00,76.69 366.50,76.08 367.00,75.24 367.50,74.23 368.00,73.06 368.50,71.79 369.00,70.47 369.50,69.13 370.00,67.83 370.50,66.62 371.00,65.54 371.50,64.63 372.00,63.93 372.50,63.45 373.00,63.22 373.50,63.49 374.00,65.21 374.50,68.15 375.00,71.72 375.50,75.21 376.00,77.94 376.50,79.37 377.00,79.26 377.50,77.86 378.00,75.60 378.50,73.13 379.00,71.15 379.50,70.23 380.00,70.35 380.50,70.91 381.00,71.79 381.50,72.81 382.00,73.77 382.50,74.47 383.00,74.79 383.50,74.67 384.00,74.18 384.50,73.42 385.00,72.53 385.50,71.70 386.00,71.08 386.50,70.81 387.00,70.95 387.50,71.51 388.00,72.39 388.50,73.41 389.00,74.37 389.50,75.07 390.00,75.39 390.50,75.23 391.00,74.60 391.50,73.60 392.00,72.45 392.50,71.37 393.00,70.57 393.50,70.21 394.00,70.34 394.50,70.87 395.00,71.71 395.50,72.70 396.00,73.65 396.50,74.38 397.00,74.77 397.50,74.73 398.00,74.30 398.50,73.56 399.00,72.61 399.50,71.59 400.00,70.67 400.50,69.98 401.00,69.63 401.50,69.69 402.00,70.24 402.50,71.18 403.00,72.32 403.50,73.43 404.00,74.30 404.50,74.76 405.00,74.78 405.50,74.67 406.00,74.48 406.50,74.25 407.00,74.02 407.50,73.83 408.00,73.72 408.50,73.67 409.00,73.33 409.50,72.70 410.00,71.95 410.50,71.28 411.00,70.87 411.50,70.85 412.00,71.43 412.50,72.48 413.00,73.72 413.50,74.77 414.00,75.35 414.50,75.33 415.00,74.89 415.50,74.16 416.00,73.26 416.50,72.38 417.00,71.69 417.50,71.33 418.00,71.41 418.50,72.02 419.00,73.02 419.50,74.11 420.00,74.98 420.50,75.39 421.00,75.29 421.50,74.86 422.00,74.19 422.50,73.42 423.00,72.69 423.50,72.15 424.00,71.91 424.50,72.09 425.00,72.80 425.50,73.84 426.00,74.91 426.50,75.71 427.00,76.00 427.50,75.77 428.00,75.12 428.50,74.17 429.00,73.13 429.50,72.18 430.00,71.53 430.50,71.30 431.00,71.59 431.50,72.39 432.00,73.46 432.50,74.50 433.00,75.21 433.50,75.39 434.00,75.03 434.50,74.23 435.00,73.15 435.50,72.00 436.00,71.00 436.50,70.37 437.00,70.21 437.50,70.51 438.00,71.18 438.50,72.10 439.00,73.10 439.50,73.98 440.00,74.58 440.50,74.80 441.00,74.69 441.50,74.37 442.00,73.91 442.50,73.39 443.00,72.93 443.50,72.61 444.00,72.50 444.50,72.33 445.00,71.84 445.50,71.14 446.00,70.36 446.50,69.66 447.00,69.17 447.50,69.00 448.00,69.64 448.50,71.43 449.00,74.01 449.50,76.89 450.00,79.47 450.50,81.26 451.00,81.90 451.50,80.81 452.00,77.86 452.50,73.89 453.00,70.03 453.50,67.40 454.00,66.72 454.50,67.40 455.00,68.92 455.50,70.99 456.00,73.18 456.50,75.07 457.00,76.28 457.50,76.59 458.00,76.22 458.50,75.41 459.00,74.31 459.50,73.13 460.00,72.12 460.50,71.47 461.00,71.31 461.50,71.63 462.00,72.36 462.50,73.33 463.00,74.38 463.50,75.27 464.00,75.85 464.50,75.99 465.00,75.63 465.50,74.83 466.00,73.75 466.50,72.60 467.00,71.60 467.50,70.97 468.00,70.81 468.50,71.13 469.00,71.83 469.50,72.79 470.00,73.81 470.50,74.69 471.00,75.25 471.50,75.39 472.00,75.11 472.50,74.48 473.00,73.63 473.50,72.72 474.00,71.93 474.50,71.43 475.00,71.31 475.50,71.63 476.00,72.36 476.50,73.33 477.00,74.38 477.50,75.27 478.00,75.85 478.50,75.99 479.00,75.59 479.50,74.70 480.00,73.49 480.50,72.20 481.00,71.10 481.50,70.38 482.00,70.19 482.50,69.85 483.00,69.16 483.50,68.40 484.00,67.89 484.50,67.86 485.00,68.47 485.50,69.64 486.00,71.14 486.50,72.68 487.00,73.94 487.50,74.67 488.00,74.74 488.50,74.08 489.00,72.83 489.50,71.22 490.00,69.58 490.50,68.23 491.00,67.44 491.50,67.39 492.00,68.36 492.50,70.22 493.00,72.60 493.50,75.03 494.00,77.03 494.50,78.20 495.00,78.36 495.50,77.98 496.00,77.23 496.50,76.25 497.00,75.25 497.50,74.39 498.00,73.84 498.50,73.70 499.00,73.72 499.50,73.77 500.00,73.84 500.50,73.93 501.00,74.03 501.50,74.15 502.00,74.27 502.50,74.40 503.00,74.51 503.50,74.61 504.00,74.69 504.50,74.76 505.00,74.79 505.50,74.80 506.00,74.75 506.50,74.62 507.00,74.43 507.50,74.18 508.00,73.88 508.50,73.55 509.00,73.19 509.50,72.83 510.00,72.48 510.50,72.15 511.00,71.86 511.50,71.63 512.00,71.45 512.50,71.34 513.00,71.30 513.50,71.53 514.00,72.18 514.50,73.13 515.00,74.17 515.50,75.12 516.00,75.77 516.50,76.00 517.00,75.59 517.50,74.46 518.00,72.81 518.50,70.99 519.00,69.34 519.50,68.21 520.00,67.80 520.50,68.39 521.00,69.98 521.50,72.12 522.00,74.20 522.50,75.62 523.00,75.99 523.50,75.71 524.00,75.08 524.50,74.23 525.00,73.32 525.50,72.53 526.00,72.03 526.50,71.90 527.00,71.98 527.50,72.18 528.00,72.48 528.50,72.87 529.00,73.33 529.50,73.83 530.00,74.36 530.50,74.88 531.00,75.36 531.50,75.80 532.00,76.15 532.50,76.41 533.00,76.56 533.50,76.59 534.00,76.15 534.50,75.16 535.00,73.83 535.50,72.41 536.00,71.19 536.50,70.40 537.00,70.21 537.50,70.70 538.00,71.77 538.50,73.23 539.00,74.78 539.50,76.12 540.00,76.98 540.50,77.18 541.00,76.49 541.50,75.00 542.00,73.13 542.50,71.43 543.00,70.38 543.50,70.26 544.00,70.87 544.50,72.04 545.00,73.54 545.50,75.08 546.00,76.34 546.50,77.07 547.00,77.15 547.50,76.62 548.00,75.59 548.50,74.19 549.00,72.63 549.50,71.14 550.00,69.94 550.50,69.19 551.00,69.02 551.50,69.83 552.00,71.63 552.50,74.06 553.00,76.66 553.50,78.89 554.00,80.33 554.50,80.68 555.00,80.09 555.50,78.74 556.00,76.83 556.50,74.63 557.00,72.46 557.50,70.63 558.00,69.42 558.50,69.00 559.00,69.43 559.50,70.60 560.00,72.20 560.50,73.80 561.00,74.97 561.50,75.40 562.00,75.26 562.50,74.85 563.00,74.27 563.50,73.63 564.00,73.05 564.50,72.64 565.00,72.50 565.50,72.61 566.00,72.93 566.50,73.39 567.00,73.91 567.50,74.37 568.00,74.69 568.50,74.80 569.00,74.66 569.50,74.25 570.00,73.67 570.50,73.03 571.00,72.45 571.50,72.04 572.00,71.90 572.50,72.02 573.00,72.35 573.50,72.83 574.00,73.37 574.50,73.85 575.00,74.18 575.50,74.30 576.00,74.23 576.50,74.05 577.00,73.77 577.50,73.43 578.00,73.10 578.50,72.80 579.00,72.59 579.50,72.50 580.00,72.57 580.50,72.86 581.00,73.29 581.50,73.80 582.00,74.28 582.50,74.64 583.00,74.80 583.50,74.47 584.00,73.27 584.50,71.73 585.00,70.53 585.50,70.21 586.00,70.64 586.50,71.56 587.00,72.74 587.50,73.85 588.00,74.60 588.50,74.79 589.00,74.39 589.50,73.50 590.00,72.29 590.50,71.00 591.00,69.90 591.50,69.18 592.00,69.01 592.50,69.41 593.00,70.30 593.50,71.51 594.00,72.80 594.50,73.90 595.00,74.62 595.50,74.79 596.00,74.44 596.50,73.70 597.00,72.77 597.50,71.92 598.00,71.39 598.50,71.29 599.00,71.23 599.50,71.11 600.00,70.92 600.50,70.69 601.00,70.43 601.50,70.15 602.00,69.87 602.50,69.61 603.00,69.38 603.50,69.19 604.00,69.07 604.50,69.01 605.00,69.12 605.50,69.79 606.00,70.94 606.50,72.34 607.00,73.72 607.50,74.79 608.00,75.35 608.50,75.36 609.00,75.12 609.50,74.70 610.00,74.20 610.50,73.71 611.00,73.32 611.50,73.12 612.00,73.13 612.50,73.31 613.00,73.62 613.50,73.99 614.00,74.35 614.50,74.64 615.00,74.79 615.50,74.67 616.00,73.94 616.50,72.68 617.00,71.14 617.50,69.64 618.00,68.47 618.50,67.86 619.00,67.99 619.50,69.12 620.00,71.09 620.50,73.62 621.00,76.31 621.50,78.76 622.00,80.58 622.50,81.52 623.00,81.39 623.50,80.15 624.00,78.00 624.50,75.33 625.00,72.61 625.50,70.32 626.00,68.87 626.50,68.54 627.00,70.04 627.50,73.22 628.00,77.12 628.50,80.54 629.00,82.42 629.50,82.13 630.00,79.42 630.50,75.10 631.00,70.48 631.50,67.00 632.00,65.70 632.50,66.53 633.00,68.85 633.50,72.13 634.00,75.65 634.50,78.63 635.00,80.40 635.50,80.59 636.00,79.47 636.50,77.43 637.00,75.11 637.50,73.22 638.00,72.33 638.50,72.48 639.00,73.17 639.50,74.15 640.00,75.13 640.50,75.82 641.00,75.98 641.50,75.41 642.00,74.28 642.50,73.08 643.00,72.37 643.50,72.43 644.00,73.18 644.50,74.39 645.00,75.67 645.50,76.64 646.00,77.00 646.50,76.60 647.00,75.53 647.50,74.11 648.00,72.78 648.50,71.95 649.00,71.87 649.50,72.56 650.00,73.82 650.50,75.26 651.00,76.43 651.50,76.98 652.00,76.63 652.50,75.22 653.00,73.06 653.50,70.64 654.00,68.48 654.50,67.07 655.00,66.72 655.50,67.44 656.00,69.03 656.50,71.13 657.00,73.28 657.50,75.01 658.00,75.92 658.50,75.88 659.00,75.17 659.50,73.94 660.00,72.41 660.50,70.85 661.00,69.54 661.50,68.71 662.00,68.52 662.50,69.22 663.00,70.71 663.50,72.53 664.00,74.13 664.50,75.02 665.00,75.05 665.50,74.74 666.00,74.26 666.50,73.74 667.00,73.35 667.50,73.20 668.00,73.56 668.50,74.53 669.00,75.81 669.50,77.02 670.00,77.77 670.50,77.80 671.00,76.70 671.50,74.63 672.00,72.03 672.50,69.50 673.00,67.59 673.50,66.73 674.00,67.27 674.50,69.44 675.00,72.78 675.50,76.52 676.00,79.86 676.50,82.03 677.00,82.57 677.50,81.50 678.00,79.14 678.50,76.05 679.00,72.96 679.50,70.60 680.00,69.53 680.50,69.50" fill="none" stroke="#77AC30" stroke-width="0.75" stroke-linejoin="round" opacity="0.85"/>
<polyline points="254.50,65.12 255.00,65.00 255.50,65.25 256.00,65.73 256.50,66.12 257.00,66.14 257.50,65.66 258.00,64.63 258.50,63.26 259.00,61.99 259.50,61.24 260.00,61.32 260.50,62.25 261.00,63.70 261.50,65.21 262.00,66.35 262.50,66.88 263.00,66.80 263.50,66.34 264.00,65.76 264.50,65.27 265.00,64.96 265.50,64.77 266.00,64.47 266.50,63.82 267.00,62.83 267.50,61.75 268.00,60.97 268.50,60.87 269.00,61.86 269.50,64.22 270.00,67.39 270.50,70.47 271.00,72.60 271.50,73.16 272.00,71.94 272.50,69.28 273.00,65.94 273.50,62.85 274.00,60.77 274.50,60.13 275.00,60.82 275.50,62.35 276.00,64.22 276.50,65.91 277.00,67.06 277.50,67.47 278.00,67.16 278.50,66.41 279.00,65.44 279.50,64.51 280.00,63.85 280.50,63.67 281.00,64.07 281.50,65.12 282.00,66.62 282.50,68.23 283.00,69.49 283.50,70.04 284.00,69.62 284.50,68.25 285.00,66.23 285.50,64.02 286.00,62.22 286.50,61.36 287.00,61.74 287.50,63.31 288.00,65.57 288.50,67.78 289.00,69.23 289.50,69.41 290.00,68.18 290.50,65.89 291.00,63.18 291.50,60.88 292.00,59.76 292.50,60.22 293.00,62.14 293.50,64.96 294.00,67.82 294.50,69.88 295.00,70.58 295.50,69.99 296.00,68.49 296.50,66.50 297.00,64.52 297.50,62.98 298.00,62.10 298.50,61.86 299.00,62.08 299.50,62.54 300.00,63.10 300.50,63.67 301.00,64.35 301.50,65.36 302.00,66.53 302.50,67.62 303.00,68.34 303.50,68.52 304.00,68.12 304.50,67.41 305.00,66.47 305.50,65.56 306.00,64.94 306.50,64.71 307.00,64.82 307.50,65.09 308.00,65.26 308.50,65.18 309.00,64.91 309.50,64.57 310.00,64.39 310.50,64.57 311.00,65.22 311.50,66.29 312.00,67.46 312.50,68.31 313.00,68.48 313.50,67.83 314.00,66.52 314.50,64.92 315.00,63.50 315.50,62.61 316.00,62.46 316.50,62.99 317.00,63.95 317.50,64.93 318.00,65.69 318.50,66.09 319.00,66.15 319.50,65.97 320.00,65.72 320.50,65.64 321.00,65.83 321.50,66.09 322.00,66.15 322.50,65.82 323.00,65.16 323.50,64.34 324.00,63.68 324.50,63.49 325.00,63.91 325.50,64.87 326.00,66.14 326.50,67.30 327.00,68.07 327.50,68.22 328.00,67.66 328.50,66.64 329.00,65.48 329.50,64.51 330.00,64.00 330.50,64.04 331.00,64.58 331.50,65.42 332.00,66.29 332.50,66.91 333.00,67.11 333.50,66.85 334.00,66.21 334.50,65.36 335.00,64.56 335.50,64.01 336.00,63.84 336.50,64.03 337.00,64.46 337.50,64.94 338.00,65.00 338.50,64.45 339.00,63.41 339.50,62.15 340.00,60.98 340.50,60.17 341.00,59.92 341.50,60.46 342.00,61.74 342.50,63.56 343.00,65.36 343.50,66.61 344.00,67.03 344.50,67.09 345.00,66.99 345.50,66.76 346.00,66.34 346.50,65.73 347.00,64.96 347.50,63.99 348.00,62.83 348.50,61.55 349.00,60.31 349.50,59.38 350.00,59.25 350.50,60.01 351.00,61.46 351.50,63.20 352.00,64.77 352.50,65.94 353.00,66.83 353.50,67.26 354.00,67.17 354.50,66.64 355.00,65.87 355.50,65.12 356.00,64.60 356.50,64.48 357.00,64.77 357.50,65.34 358.00,65.81 358.50,65.84 359.00,65.41 359.50,64.63 360.00,63.54 360.50,62.43 361.00,61.64 361.50,61.48 362.00,61.95 362.50,62.91 363.00,64.08 363.50,65.13 364.00,65.96 364.50,66.45 365.00,66.43 365.50,66.10 366.00,65.71 366.50,65.29 367.00,64.85 367.50,64.48 368.00,64.26 368.50,64.15 369.00,64.05 369.50,63.79 370.00,63.22 370.50,62.24 371.00,60.88 371.50,59.32 372.00,57.90 372.50,56.97 373.00,56.84 373.50,57.70 374.00,59.94 374.50,63.07 375.00,66.34 375.50,68.96 376.00,70.34 376.50,70.27 377.00,68.90 377.50,66.82 378.00,64.69 378.50,63.12 379.00,62.53 379.50,62.99 380.00,64.09 380.50,65.13 381.00,65.78 381.50,65.92 382.00,65.63 382.50,65.10 383.00,64.57 383.50,64.19 384.00,64.02 384.50,63.96 385.00,63.88 385.50,63.71 386.00,63.55 386.50,63.56 387.00,63.93 387.50,64.76 388.00,65.93 388.50,67.17 389.00,68.08 389.50,68.25 390.00,67.46 390.50,65.78 391.00,63.55 391.50,61.35 392.00,59.79 392.50,59.34 393.00,60.17 393.50,62.00 394.00,64.27 394.50,66.31 395.00,67.58 395.50,67.88 396.00,67.44 396.50,66.53 397.00,65.51 397.50,64.64 398.00,64.07 398.50,63.76 399.00,63.59 399.50,63.41 400.00,63.18 400.50,62.94 401.00,62.85 401.50,63.04 402.00,63.60 402.50,64.40 403.00,65.36 403.50,66.30 404.00,66.89 404.50,66.88 405.00,66.28 405.50,65.42 406.00,64.56 406.50,63.96 407.00,63.82 407.50,64.14 408.00,64.80 408.50,65.53 409.00,65.96 409.50,65.95 410.00,65.62 410.50,65.16 411.00,64.75 411.50,64.49 412.00,64.51 412.50,64.74 413.00,65.03 413.50,65.20 414.00,65.14 414.50,64.88 415.00,64.58 415.50,64.34 416.00,64.25 416.50,64.29 417.00,64.41 417.50,64.55 418.00,64.69 418.50,64.90 419.00,65.16 419.50,65.41 420.00,65.63 420.50,65.75 421.00,65.75 421.50,65.69 422.00,65.60 422.50,65.64 423.00,65.75 423.50,65.78 424.00,65.61 424.50,65.24 425.00,64.82 425.50,64.32 426.00,63.71 426.50,63.03 427.00,62.40 427.50,62.07 428.00,62.26 428.50,63.04 429.00,64.33 429.50,65.82 430.00,67.12 430.50,67.81 431.00,67.68 431.50,66.66 432.00,65.06 432.50,63.37 433.00,62.14 433.50,61.75 434.00,62.28 434.50,63.53 435.00,65.03 435.50,66.25 436.00,66.80 436.50,66.52 437.00,65.55 437.50,64.22 438.00,63.00 438.50,62.27 439.00,62.26 439.50,62.92 440.00,64.00 440.50,65.03 441.00,65.75 441.50,66.13 442.00,66.20 442.50,66.09 443.00,65.91 443.50,65.74 444.00,65.54 444.50,65.07 445.00,64.16 445.50,62.89 446.00,61.52 446.50,60.37 447.00,59.75 447.50,59.92 448.00,61.22 448.50,63.60 449.00,66.48 449.50,69.19 450.00,71.12 450.50,71.95 451.00,71.82 451.50,70.65 452.00,68.51 452.50,65.91 453.00,63.43 453.50,61.61 454.00,60.77 454.50,60.64 455.00,61.05 455.50,62.00 456.00,63.36 456.50,64.92 457.00,66.36 457.50,67.33 458.00,67.71 458.50,67.41 459.00,66.49 459.50,65.21 460.00,63.99 460.50,63.23 461.00,63.20 461.50,63.86 462.00,64.91 462.50,65.92 463.00,66.53 463.50,66.51 464.00,65.89 464.50,64.93 465.00,63.99 465.50,63.41 466.00,63.37 466.50,63.91 467.00,64.77 467.50,65.57 468.00,66.00 468.50,65.93 469.00,65.46 469.50,64.87 470.00,64.51 470.50,64.61 471.00,65.10 471.50,65.69 472.00,66.02 472.50,65.83 473.00,65.07 473.50,63.96 474.00,62.91 474.50,62.35 475.00,62.55 475.50,63.52 476.00,64.96 476.50,66.42 477.00,67.42 477.50,67.71 478.00,67.32 478.50,66.54 479.00,65.78 479.50,65.38 480.00,65.53 480.50,66.11 481.00,66.62 481.50,66.55 482.00,65.73 482.50,63.91 483.00,61.45 483.50,59.13 484.00,57.71 484.50,57.66 485.00,59.07 485.50,61.51 486.00,64.23 486.50,66.48 487.00,67.72 487.50,67.81 488.00,66.97 488.50,65.67 489.00,64.42 489.50,63.43 490.00,62.70 490.50,62.03 491.00,61.23 491.50,60.27 492.00,59.47 492.50,59.16 493.00,59.73 493.50,61.44 494.00,64.02 494.50,66.86 495.00,69.19 495.50,70.56 496.00,70.60 496.50,69.31 497.00,67.34 497.50,65.39 498.00,64.08 498.50,63.76 499.00,64.27 499.50,65.19 500.00,66.02 500.50,66.37 501.00,66.23 501.50,65.74 502.00,65.04 502.50,64.36 503.00,64.00 503.50,64.43 504.00,65.47 504.50,66.63 505.00,67.40 505.50,67.46 506.00,66.78 506.50,65.65 507.00,64.54 507.50,63.89 508.00,63.92 508.50,64.56 509.00,65.48 509.50,66.23 510.00,66.48 510.50,66.12 511.00,65.25 511.50,64.18 512.00,63.31 512.50,62.89 513.00,62.95 513.50,63.40 514.00,64.02 514.50,64.49 515.00,64.74 515.50,64.88 516.00,65.08 516.50,65.52 517.00,66.17 517.50,66.82 518.00,67.22 518.50,67.10 519.00,66.37 519.50,65.07 520.00,63.47 520.50,62.09 521.00,61.42 521.50,61.60 522.00,62.48 522.50,63.64 523.00,64.63 523.50,65.37 524.00,65.81 524.50,65.97 525.00,66.04 525.50,66.28 526.00,66.85 526.50,67.71 527.00,68.48 527.50,68.70 528.00,68.04 528.50,66.47 529.00,64.27 529.50,61.99 530.00,60.31 530.50,59.75 531.00,60.55 531.50,62.55 532.00,65.23 532.50,67.87 533.00,69.78 533.50,70.56 534.00,69.99 534.50,68.34 535.00,66.15 535.50,63.98 536.00,62.45 536.50,61.96 537.00,62.55 537.50,63.66 538.00,64.83 538.50,65.82 539.00,66.58 539.50,67.15 540.00,67.57 540.50,67.83 541.00,67.73 541.50,67.10 542.00,65.91 542.50,64.29 543.00,62.62 543.50,61.35 544.00,60.80 544.50,61.23 545.00,62.68 545.50,64.83 546.00,67.15 546.50,69.19 547.00,70.46 547.50,70.68 548.00,69.85 548.50,68.25 549.00,66.32 549.50,64.49 550.00,63.00 550.50,61.98 551.00,61.36 551.50,61.17 552.00,61.36 552.50,61.80 553.00,62.47 553.50,63.40 554.00,64.66 554.50,66.11 555.00,67.60 555.50,68.76 556.00,69.23 556.50,68.75 557.00,67.35 557.50,65.49 558.00,63.61 558.50,62.16 559.00,61.42 559.50,61.46 560.00,62.06 560.50,62.85 561.00,63.43 561.50,63.52 562.00,63.34 562.50,63.20 563.00,63.25 563.50,63.61 564.00,64.29 564.50,65.16 565.00,66.03 565.50,66.64 566.00,66.93 566.50,66.95 567.00,66.71 567.50,66.30 568.00,65.83 568.50,65.36 569.00,64.92 569.50,64.48 570.00,64.06 570.50,63.76 571.00,63.76 571.50,64.10 572.00,64.77 572.50,65.68 573.00,66.62 573.50,67.36 574.00,67.67 574.50,67.43 575.00,66.62 575.50,65.40 576.00,64.05 576.50,62.90 577.00,62.18 577.50,62.00 578.00,62.43 578.50,63.32 579.00,64.43 579.50,65.49 580.00,66.34 580.50,66.90 581.00,67.20 581.50,67.28 582.00,67.18 582.50,66.91 583.00,66.48 583.50,65.74 584.00,64.55 584.50,63.11 585.00,61.93 585.50,61.47 586.00,61.80 586.50,62.82 587.00,64.26 587.50,65.74 588.00,66.85 588.50,67.28 589.00,66.95 589.50,66.00 590.00,64.72 590.50,63.50 591.00,62.63 591.50,62.30 592.00,62.50 592.50,62.99 593.00,63.54 593.50,63.96 594.00,64.18 594.50,64.21 595.00,64.15 595.50,64.12 596.00,64.38 596.50,65.05 597.00,65.95 597.50,66.84 598.00,67.47 598.50,67.65 599.00,67.15 599.50,65.97 600.00,64.20 600.50,62.29 601.00,60.62 601.50,59.49 602.00,59.01 602.50,59.15 603.00,59.76 603.50,60.69 604.00,61.75 604.50,62.79 605.00,63.75 605.50,64.76 606.00,65.70 606.50,66.41 607.00,66.78 607.50,66.73 608.00,66.24 608.50,65.43 609.00,64.65 609.50,64.12 610.00,63.84 610.50,63.62 611.00,63.53 611.50,63.60 612.00,63.82 612.50,64.11 613.00,64.38 613.50,64.58 614.00,64.74 614.50,65.15 615.00,65.77 615.50,66.41 616.00,66.74 616.50,66.68 617.00,66.25 617.50,65.43 618.00,64.32 618.50,63.13 619.00,62.08 619.50,61.46 620.00,61.37 620.50,61.82 621.00,62.82 621.50,64.35 622.00,66.16 622.50,67.92 623.00,69.23 623.50,69.75 624.00,69.29 624.50,67.92 625.00,65.92 625.50,63.78 626.00,62.05 626.50,61.26 627.00,62.01 627.50,64.27 628.00,67.37 628.50,70.38 629.00,72.36 629.50,72.62 630.00,70.70 630.50,67.02 631.00,62.57 631.50,58.57 632.00,56.12 632.50,55.63 633.00,56.93 633.50,59.65 634.00,63.22 634.50,66.83 635.00,69.68 635.50,71.17 636.00,71.15 636.50,69.85 637.00,67.87 637.50,65.81 638.00,64.20 638.50,63.24 639.00,62.74 639.50,62.62 640.00,62.69 640.50,62.81 641.00,62.99 641.50,63.17 642.00,63.41 642.50,63.94 643.00,64.87 643.50,66.14 644.00,67.46 644.50,68.68 645.00,69.39 645.50,69.32 646.00,68.40 646.50,66.78 647.00,64.85 647.50,63.11 648.00,61.98 648.50,61.70 649.00,62.23 649.50,63.31 650.00,64.54 650.50,65.57 651.00,66.31 651.50,66.69 652.00,66.70 652.50,66.36 653.00,65.87 653.50,65.34 654.00,64.73 654.50,64.01 655.00,63.30 655.50,62.70 656.00,62.35 656.50,62.36 657.00,62.76 657.50,63.50 658.00,64.43 658.50,65.30 659.00,65.95 659.50,66.17 660.00,65.88 660.50,65.14 661.00,64.03 661.50,62.92 662.00,62.18 662.50,62.19 663.00,63.02 663.50,64.27 664.00,65.42 664.50,66.13 665.00,66.30 665.50,66.21 666.00,65.98 666.50,65.70 667.00,65.53 667.50,65.44 668.00,65.50 668.50,65.73 669.00,65.97 669.50,66.12 670.00,66.17 670.50,66.17 671.00,65.98 671.50,65.60 672.00,64.94 672.50,64.06 673.00,63.08 673.50,62.18 674.00,61.66 674.50,61.93 675.00,63.10 675.50,65.03 676.00,67.32 676.50,69.41 677.00,70.74 677.50,70.95 678.00,69.99 678.50,68.21 679.00,66.06 679.50,64.17 680.00,63.08 680.50,62.83" fill="none" stroke="#4DBEEE" stroke-width="0.75" stroke-linejoin="round" opacity="0.85"/>
<polyline points="254.50,59.42 255.00,58.94 255.50,58.32 256.00,57.67 256.50,57.03 257.00,56.40 257.50,55.73 258.00,54.94 258.50,54.00 259.00,53.05 259.50,52.32 260.00,52.19 260.50,52.98 261.00,54.65 261.50,56.96 262.00,59.48 262.50,61.70 263.00,63.14 263.50,63.50 264.00,62.66 264.50,60.77 265.00,58.25 265.50,55.65 266.00,53.49 266.50,52.11 267.00,51.69 267.50,52.22 268.00,53.52 268.50,55.27 269.00,57.23 269.50,59.26 270.00,61.04 270.50,62.26 271.00,62.75 271.50,62.45 272.00,61.25 272.50,59.33 273.00,57.13 273.50,55.13 274.00,53.79 274.50,53.43 275.00,53.97 275.50,55.12 276.00,56.67 276.50,58.31 277.00,59.71 277.50,60.53 278.00,60.59 278.50,60.01 279.00,58.91 279.50,57.53 280.00,56.23 280.50,55.36 281.00,55.08 281.50,55.44 282.00,56.34 282.50,57.53 283.00,58.68 283.50,59.48 284.00,59.72 284.50,59.43 285.00,58.88 285.50,58.30 286.00,57.93 286.50,57.97 287.00,58.41 287.50,59.10 288.00,59.62 288.50,59.67 289.00,59.07 289.50,57.87 290.00,56.32 290.50,54.80 291.00,53.65 291.50,53.13 292.00,53.44 292.50,54.57 293.00,56.27 293.50,58.16 294.00,59.81 294.50,60.90 295.00,61.29 295.50,61.10 296.00,60.55 296.50,59.73 297.00,58.73 297.50,57.67 298.00,56.63 298.50,55.66 299.00,54.80 299.50,54.12 300.00,53.70 300.50,53.57 301.00,53.97 301.50,55.20 302.00,56.95 302.50,58.79 303.00,60.29 303.50,61.13 304.00,61.22 304.50,60.88 305.00,60.24 305.50,59.42 306.00,58.57 306.50,57.79 307.00,57.16 307.50,56.72 308.00,56.48 308.50,56.55 309.00,56.89 309.50,57.30 310.00,57.54 310.50,57.42 311.00,57.01 311.50,56.65 312.00,56.44 312.50,56.50 313.00,56.86 313.50,57.50 314.00,58.31 314.50,59.13 315.00,59.73 315.50,59.92 316.00,59.62 316.50,58.88 317.00,57.88 317.50,56.67 318.00,55.55 318.50,54.82 319.00,54.64 319.50,54.99 320.00,55.73 320.50,56.72 321.00,57.75 321.50,58.56 322.00,58.99 322.50,59.01 323.00,58.82 323.50,58.50 324.00,58.11 324.50,57.67 325.00,57.22 325.50,56.81 326.00,56.58 326.50,56.60 327.00,56.93 327.50,57.52 328.00,58.23 328.50,59.03 329.00,59.69 329.50,59.94 330.00,59.64 330.50,58.80 331.00,57.63 331.50,56.45 332.00,55.59 332.50,55.25 333.00,55.51 333.50,56.28 334.00,57.36 334.50,58.48 335.00,59.44 335.50,60.09 336.00,60.38 336.50,60.34 337.00,60.03 337.50,59.53 338.00,58.42 338.50,56.68 339.00,54.68 339.50,52.83 340.00,51.51 340.50,50.97 341.00,51.27 341.50,52.66 342.00,54.89 342.50,57.41 343.00,59.47 343.50,60.49 344.00,60.33 344.50,59.97 345.00,59.74 345.50,59.59 346.00,59.33 346.50,58.80 347.00,57.87 347.50,56.56 348.00,55.04 348.50,53.58 349.00,52.52 349.50,52.16 350.00,52.71 350.50,54.00 351.00,55.62 351.50,57.09 352.00,58.01 352.50,58.45 353.00,58.74 353.50,58.94 354.00,59.09 354.50,59.20 355.00,59.21 355.50,59.09 356.00,58.80 356.50,58.43 357.00,58.11 357.50,57.99 358.00,57.83 358.50,57.35 359.00,56.68 359.50,55.90 360.00,55.01 360.50,54.16 361.00,53.56 361.50,53.54 362.00,54.15 362.50,55.24 363.00,56.49 363.50,57.54 364.00,58.38 364.50,58.86 365.00,58.67 365.50,57.83 366.00,56.58 366.50,55.20 367.00,54.07 367.50,53.62 368.00,54.07 368.50,55.26 369.00,56.78 369.50,58.10 370.00,58.73 370.50,58.38 371.00,57.09 371.50,55.20 372.00,53.24 372.50,51.78 373.00,51.21 373.50,51.70 374.00,53.36 374.50,55.76 375.00,58.28 375.50,60.31 376.00,61.42 376.50,61.43 377.00,60.44 377.50,58.82 378.00,57.04 378.50,55.61 379.00,54.96 379.50,55.27 380.00,56.37 380.50,57.77 381.00,59.06 381.50,59.83 382.00,59.80 382.50,58.94 383.00,57.44 383.50,55.73 384.00,54.32 384.50,53.65 385.00,53.87 385.50,54.92 386.00,56.53 386.50,58.25 387.00,59.60 387.50,60.24 388.00,60.06 388.50,59.21 389.00,58.03 389.50,56.86 390.00,55.94 390.50,55.36 391.00,55.08 391.50,54.95 392.00,54.86 392.50,54.87 393.00,55.11 393.50,55.64 394.00,56.43 394.50,57.35 395.00,58.18 395.50,58.71 396.00,58.98 396.50,58.83 397.00,58.21 397.50,57.27 398.00,56.28 398.50,55.55 399.00,55.33 399.50,55.67 400.00,56.43 400.50,57.31 401.00,57.96 401.50,58.15 402.00,57.79 402.50,56.95 403.00,56.16 403.50,55.92 404.00,56.31 404.50,57.16 405.00,58.16 405.50,59.03 406.00,59.47 406.50,59.34 407.00,58.74 407.50,57.87 408.00,57.01 408.50,56.39 409.00,56.07 409.50,56.08 410.00,56.46 410.50,57.11 411.00,57.80 411.50,58.33 412.00,58.58 412.50,58.50 413.00,58.10 413.50,57.46 414.00,56.71 414.50,56.02 415.00,55.60 415.50,55.59 416.00,56.03 416.50,56.81 417.00,57.72 417.50,58.52 418.00,58.98 418.50,59.03 419.00,58.65 419.50,57.93 420.00,57.07 420.50,56.32 421.00,55.85 421.50,55.78 422.00,56.10 422.50,56.94 423.00,57.94 423.50,58.66 424.00,58.77 424.50,58.28 425.00,57.51 425.50,56.67 426.00,55.88 426.50,55.19 427.00,54.61 427.50,54.21 428.00,54.09 428.50,54.35 429.00,55.05 429.50,56.18 430.00,57.54 430.50,58.80 431.00,59.56 431.50,59.40 432.00,58.26 432.50,56.45 433.00,54.52 433.50,53.09 434.00,52.62 434.50,53.33 435.00,55.10 435.50,57.49 436.00,59.83 436.50,61.46 437.00,61.90 437.50,61.01 438.00,59.05 438.50,56.59 439.00,54.34 439.50,52.94 440.00,52.72 440.50,53.45 441.00,54.89 441.50,56.69 442.00,58.43 442.50,59.74 443.00,60.36 443.50,60.20 444.00,59.32 444.50,57.81 445.00,55.90 445.50,53.96 446.00,52.37 446.50,51.45 447.00,51.39 447.50,52.33 448.00,54.39 448.50,57.25 449.00,60.25 449.50,62.70 450.00,64.06 450.50,64.10 451.00,63.30 451.50,61.82 452.00,59.88 452.50,57.87 453.00,56.16 453.50,55.02 454.00,54.58 454.50,54.57 455.00,54.81 455.50,55.19 456.00,55.54 456.50,55.78 457.00,55.92 457.50,55.95 458.00,56.03 458.50,56.24 459.00,56.68 459.50,57.40 460.00,58.41 460.50,59.62 461.00,60.84 461.50,61.77 462.00,61.99 462.50,61.30 463.00,59.71 463.50,57.47 464.00,54.99 464.50,52.81 465.00,51.36 465.50,50.92 466.00,51.52 466.50,53.09 467.00,55.22 467.50,57.40 468.00,59.18 468.50,60.32 469.00,60.78 469.50,60.69 470.00,60.37 470.50,60.09 471.00,59.83 471.50,59.46 472.00,58.81 472.50,57.80 473.00,56.46 473.50,55.01 474.00,53.75 474.50,52.97 475.00,52.87 475.50,53.45 476.00,54.61 476.50,56.08 477.00,57.60 477.50,58.96 478.00,60.04 478.50,60.84 479.00,61.40 479.50,61.77 480.00,61.97 480.50,61.99 481.00,61.48 481.50,60.17 482.00,58.24 482.50,55.79 483.00,53.19 483.50,50.93 484.00,49.47 484.50,49.09 485.00,49.96 485.50,51.97 486.00,54.72 486.50,57.69 487.00,60.36 487.50,62.22 488.00,62.91 488.50,62.41 489.00,60.86 489.50,58.44 490.00,55.48 490.50,52.44 491.00,49.83 491.50,48.08 492.00,47.58 492.50,48.36 493.00,50.35 493.50,53.37 494.00,56.75 494.50,59.81 495.00,61.98 495.50,63.04 496.00,62.92 496.50,61.80 497.00,60.33 497.50,58.85 498.00,57.55 498.50,56.53 499.00,55.79 499.50,55.32 500.00,55.19 500.50,55.44 501.00,56.35 501.50,57.73 502.00,58.96 502.50,59.38 503.00,58.81 503.50,57.98 504.00,57.16 504.50,56.54 505.00,56.32 505.50,56.58 506.00,57.24 506.50,58.09 507.00,58.86 507.50,59.29 508.00,59.26 508.50,58.81 509.00,58.13 509.50,57.48 510.00,57.09 510.50,57.07 511.00,57.25 511.50,57.42 512.00,57.37 512.50,56.99 513.00,56.28 513.50,55.45 514.00,54.80 514.50,54.53 515.00,54.90 515.50,55.94 516.00,57.40 516.50,58.90 517.00,60.01 517.50,60.48 518.00,60.27 518.50,59.54 519.00,58.68 519.50,57.91 520.00,57.33 520.50,56.97 521.00,56.77 521.50,56.57 522.00,56.26 522.50,55.84 523.00,55.45 523.50,55.43 524.00,55.98 524.50,57.02 525.00,58.35 525.50,59.68 526.00,60.71 526.50,61.22 527.00,61.09 527.50,60.29 528.00,58.99 528.50,57.48 529.00,56.03 529.50,54.84 530.00,54.06 530.50,53.79 531.00,54.05 531.50,54.88 532.00,56.28 532.50,58.03 533.00,59.85 533.50,61.37 534.00,62.12 534.50,61.81 535.00,60.33 535.50,57.83 536.00,55.10 536.50,53.10 537.00,52.56 537.50,53.28 538.00,54.89 538.50,57.03 539.00,59.21 539.50,60.94 540.00,61.84 540.50,61.78 541.00,60.87 541.50,59.44 542.00,57.86 542.50,56.50 543.00,55.64 543.50,55.39 544.00,55.63 544.50,56.21 545.00,56.94 545.50,57.62 546.00,58.08 546.50,58.53 547.00,58.99 547.50,59.34 548.00,59.46 548.50,59.30 549.00,58.88 549.50,58.27 550.00,57.47 550.50,56.58 551.00,55.65 551.50,54.79 552.00,54.02 552.50,53.35 553.00,52.85 553.50,52.71 554.00,53.25 554.50,54.54 555.00,56.47 555.50,58.70 556.00,60.69 556.50,61.88 557.00,61.88 557.50,60.81 558.00,58.87 558.50,56.41 559.00,53.92 559.50,51.86 560.00,50.55 560.50,50.07 561.00,50.26 561.50,50.88 562.00,51.90 562.50,53.26 563.00,54.82 563.50,56.51 564.00,58.29 564.50,60.05 565.00,61.59 565.50,62.63 566.00,63.05 566.50,62.81 567.00,61.82 567.50,60.15 568.00,58.08 568.50,55.99 569.00,54.24 569.50,53.12 570.00,52.71 570.50,53.05 571.00,54.08 571.50,55.51 572.00,57.04 572.50,58.43 573.00,59.54 573.50,60.31 574.00,60.74 574.50,60.80 575.00,60.49 575.50,59.80 576.00,58.78 576.50,57.59 577.00,56.43 577.50,55.54 578.00,55.23 578.50,55.62 579.00,56.52 579.50,57.61 580.00,58.48 580.50,58.81 581.00,58.47 581.50,57.55 582.00,56.33 582.50,55.19 583.00,54.52 583.50,54.52 584.00,55.13 584.50,56.06 585.00,57.19 585.50,58.40 586.00,59.48 586.50,60.26 587.00,60.66 587.50,60.66 588.00,60.28 588.50,59.54 589.00,58.53 589.50,57.35 590.00,56.12 590.50,54.97 591.00,54.03 591.50,53.42 592.00,53.23 592.50,53.34 593.00,53.73 593.50,54.40 594.00,55.30 594.50,56.36 595.00,57.45 595.50,58.41 596.00,59.36 596.50,60.38 597.00,61.21 597.50,61.62 598.00,61.54 598.50,61.01 599.00,60.13 599.50,58.95 600.00,57.39 600.50,55.74 601.00,54.21 601.50,52.90 602.00,51.79 602.50,50.87 603.00,50.20 603.50,49.97 604.00,50.41 604.50,51.65 605.00,53.71 605.50,56.45 606.00,59.38 606.50,61.83 607.00,63.29 607.50,63.39 608.00,62.09 608.50,59.78 609.00,57.20 609.50,55.09 610.00,53.81 610.50,53.16 611.00,53.19 611.50,53.73 612.00,54.49 612.50,55.16 613.00,55.56 613.50,55.67 614.00,55.76 614.50,56.55 615.00,58.02 615.50,59.83 616.00,61.41 616.50,62.28 617.00,62.14 617.50,60.77 618.00,58.37 618.50,55.51 619.00,52.89 619.50,51.14 620.00,50.58 620.50,51.23 621.00,52.92 621.50,55.40 622.00,58.06 622.50,60.29 623.00,61.64 623.50,61.84 624.00,60.90 624.50,59.10 625.00,56.92 625.50,54.93 626.00,53.69 626.50,53.59 627.00,54.86 627.50,57.23 628.00,60.08 628.50,62.60 629.00,64.04 629.50,63.88 630.00,61.74 630.50,58.03 631.00,53.67 631.50,49.75 632.00,47.30 632.50,46.83 633.00,48.19 633.50,50.95 634.00,54.51 634.50,58.12 635.00,61.02 635.50,62.67 636.00,62.86 636.50,61.80 637.00,60.05 637.50,58.01 638.00,56.00 638.50,54.23 639.00,52.72 639.50,51.64 640.00,51.11 640.50,51.30 641.00,52.43 641.50,54.32 642.00,56.62 642.50,58.88 643.00,60.62 643.50,61.43 644.00,61.18 644.50,60.33 645.00,59.15 645.50,57.97 646.00,57.03 646.50,56.49 647.00,56.31 647.50,56.34 648.00,56.39 648.50,56.32 649.00,56.09 649.50,55.79 650.00,55.59 650.50,55.71 651.00,56.44 651.50,57.64 652.00,58.91 652.50,59.76 653.00,59.91 653.50,59.28 654.00,57.88 654.50,56.03 655.00,54.39 655.50,53.49 656.00,53.58 656.50,54.58 657.00,56.09 657.50,57.67 658.00,58.99 658.50,59.75 659.00,59.93 659.50,59.67 660.00,59.14 660.50,58.45 661.00,57.46 661.50,56.29 662.00,55.15 662.50,54.37 663.00,54.21 663.50,54.57 664.00,55.28 664.50,56.27 665.00,57.41 665.50,58.56 666.00,59.40 666.50,59.67 667.00,59.43 667.50,58.79 668.00,58.05 668.50,57.58 669.00,57.50 669.50,57.73 670.00,58.15 670.50,58.50 671.00,58.49 671.50,58.00 672.00,56.96 672.50,55.71 673.00,54.68 673.50,54.20 674.00,54.47 674.50,55.46 675.00,56.91 675.50,58.41 676.00,59.54 676.50,60.05 677.00,59.93 677.50,59.33 678.00,58.62 678.50,58.16 679.00,58.01 679.50,58.08 680.00,58.23 680.50,58.25" fill="none" stroke="#A2142F" stroke-width="0.75" stroke-linejoin="round" opacity="0.85"/>
<polyline points="254.50,53.20 255.00,52.88 255.50,51.94 256.00,50.48 256.50,48.64 257.00,46.60 257.50,44.56 258.00,42.72 258.50,41.26 259.00,40.32 259.50,40.00 260.00,40.78 260.50,42.99 261.00,46.32 261.50,50.29 262.00,54.32 262.50,57.82 263.00,60.29 263.50,61.37 264.00,60.80 264.50,58.48 265.00,54.77 265.50,50.27 266.00,45.69 266.50,41.76 267.00,39.13 267.50,38.20 268.00,39.15 268.50,41.84 269.00,45.85 269.50,50.53 270.00,55.13 270.50,58.92 271.00,61.29 271.50,61.85 272.00,60.02 272.50,56.02 273.00,50.87 273.50,45.85 274.00,42.22 274.50,40.90 275.00,41.71 275.50,43.94 276.00,47.08 276.50,50.37 277.00,53.05 277.50,54.47 278.00,54.42 278.50,53.40 279.00,51.76 279.50,50.01 280.00,48.69 280.50,48.20 281.00,48.33 281.50,48.68 282.00,49.20 282.50,49.78 283.00,50.32 283.50,50.72 284.00,50.89 284.50,50.99 285.00,51.32 285.50,51.83 286.00,52.38 286.50,52.86 287.00,53.15 287.50,53.13 288.00,52.37 288.50,50.95 289.00,49.19 289.50,47.52 290.00,46.33 290.50,45.90 291.00,46.08 291.50,46.62 292.00,47.47 292.50,48.56 293.00,49.80 293.50,51.10 294.00,52.34 294.50,53.43 295.00,54.28 295.50,54.82 296.00,55.00 296.50,54.55 297.00,53.26 297.50,51.28 298.00,48.83 298.50,46.19 299.00,43.68 299.50,41.59 300.00,40.14 300.50,39.52 301.00,40.37 301.50,43.69 302.00,48.72 302.50,54.27 303.00,59.05 303.50,61.91 304.00,62.28 304.50,60.93 305.00,58.27 305.50,54.68 306.00,50.70 306.50,46.88 307.00,43.80 307.50,41.89 308.00,41.44 308.50,42.89 309.00,45.93 309.50,49.57 310.00,52.61 310.50,54.06 311.00,53.82 311.50,52.78 312.00,51.21 312.50,49.52 313.00,48.12 313.50,47.37 314.00,47.47 314.50,48.44 315.00,50.04 315.50,51.86 316.00,53.46 316.50,54.43 317.00,54.45 317.50,52.86 318.00,49.97 318.50,46.68 319.00,44.00 319.50,42.74 320.00,43.31 320.50,45.55 321.00,48.73 321.50,51.80 322.00,53.76 322.50,54.00 323.00,52.97 323.50,51.11 324.00,48.98 324.50,47.24 325.00,46.42 325.50,46.86 326.00,48.55 326.50,50.95 327.00,53.27 327.50,54.74 328.00,54.94 328.50,54.33 329.00,53.13 329.50,51.51 330.00,49.71 330.50,47.98 331.00,46.59 331.50,45.72 332.00,45.51 332.50,45.94 333.00,46.93 333.50,48.42 334.00,50.28 334.50,52.36 335.00,54.49 335.50,56.50 336.00,58.23 336.50,59.53 337.00,60.31 337.50,60.44 338.00,58.43 338.50,53.94 339.00,47.86 339.50,41.39 340.00,35.81 340.50,32.23 341.00,31.39 341.50,34.47 342.00,41.09 342.50,49.37 343.00,56.92 343.50,61.59 344.00,62.32 344.50,61.44 345.00,59.68 345.50,57.19 346.00,54.23 346.50,51.09 347.00,48.07 347.50,45.47 348.00,43.54 348.50,42.48 349.00,42.39 349.50,43.33 350.00,45.11 350.50,47.30 351.00,49.38 351.50,50.86 352.00,51.40 352.50,51.49 353.00,51.77 353.50,52.19 354.00,52.74 354.50,53.37 355.00,54.03 355.50,54.66 356.00,55.21 356.50,55.63 357.00,55.91 357.50,56.00 358.00,54.84 358.50,51.62 359.00,47.12 359.50,42.38 360.00,38.54 360.50,36.49 361.00,36.84 361.50,39.89 362.00,44.68 362.50,49.65 363.00,53.15 363.50,54.07 364.00,53.17 364.50,51.14 365.00,48.36 365.50,45.35 366.00,42.68 366.50,40.85 367.00,40.20 367.50,41.10 368.00,43.59 368.50,47.04 369.00,50.57 369.50,53.31 370.00,54.56 370.50,54.04 371.00,51.98 371.50,49.04 372.00,46.21 372.50,44.42 373.00,44.24 373.50,45.70 374.00,48.34 374.50,51.35 375.00,53.81 375.50,54.97 376.00,54.52 376.50,52.73 377.00,50.19 377.50,47.73 378.00,46.17 378.50,46.03 379.00,47.44 379.50,49.98 380.00,52.88 380.50,55.25 381.00,56.37 381.50,55.84 382.00,53.73 382.50,50.52 383.00,46.98 383.50,43.94 384.00,42.11 384.50,41.91 385.00,43.17 385.50,45.57 386.00,48.69 386.50,51.93 387.00,54.69 387.50,56.44 388.00,56.88 388.50,56.02 389.00,54.07 389.50,51.31 390.00,48.13 390.50,44.99 391.00,42.36 391.50,40.61 392.00,40.00 392.50,40.86 393.00,43.24 393.50,46.58 394.00,50.09 394.50,52.94 395.00,54.46 395.50,54.48 396.00,53.79 396.50,52.59 397.00,51.10 397.50,49.59 398.00,48.31 398.50,47.51 399.00,47.31 399.50,47.78 400.00,48.76 400.50,49.94 401.00,50.92 401.50,51.39 402.00,50.97 402.50,49.55 403.00,48.13 403.50,47.72 404.00,48.40 404.50,49.84 405.00,51.61 405.50,53.16 406.00,54.02 406.50,53.94 407.00,53.03 407.50,51.51 408.00,49.74 408.50,48.13 409.00,47.08 409.50,46.82 410.00,47.65 410.50,49.40 411.00,51.50 411.50,53.25 412.00,54.08 412.50,53.73 413.00,52.35 413.50,50.24 414.00,47.91 414.50,45.91 415.00,44.71 415.50,44.61 416.00,45.75 416.50,47.90 417.00,50.54 417.50,53.06 418.00,54.85 418.50,55.50 419.00,54.74 419.50,52.66 420.00,49.73 420.50,46.65 421.00,44.15 421.50,42.82 422.00,43.20 422.50,46.02 423.00,50.30 423.50,54.41 424.00,56.78 424.50,56.58 425.00,54.14 425.50,50.04 426.00,45.18 426.50,40.65 427.00,37.45 427.50,36.30 428.00,37.43 428.50,40.57 429.00,44.96 429.50,49.57 430.00,53.32 430.50,55.32 431.00,55.01 431.50,52.20 432.00,47.78 432.50,43.20 433.00,39.97 433.50,39.15 434.00,40.90 434.50,44.76 435.00,49.80 435.50,54.84 436.00,58.70 436.50,60.45 437.00,59.69 437.50,56.59 438.00,51.89 438.50,46.69 439.00,42.23 439.50,39.56 440.00,39.22 440.50,40.55 441.00,43.12 441.50,46.48 442.00,50.02 442.50,53.13 443.00,55.25 443.50,56.00 444.00,55.23 444.50,53.05 445.00,49.89 445.50,46.32 446.00,43.02 446.50,40.61 447.00,39.53 447.50,40.28 448.00,43.27 448.50,47.79 449.00,52.79 449.50,57.08 450.00,59.66 450.50,60.04 451.00,59.34 451.50,57.93 452.00,55.95 452.50,53.60 453.00,51.10 453.50,48.69 454.00,46.62 454.50,45.09 455.00,44.24 455.50,44.13 456.00,44.45 456.50,45.10 457.00,46.05 457.50,47.21 458.00,48.53 458.50,49.90 459.00,51.23 459.50,52.44 460.00,53.43 460.50,54.15 461.00,54.54 461.50,54.53 462.00,53.80 462.50,52.33 463.00,50.32 463.50,47.99 464.00,45.63 464.50,43.53 465.00,41.94 465.50,41.05 466.00,41.02 466.50,42.35 467.00,44.92 467.50,48.28 468.00,51.82 468.50,54.93 469.00,57.05 469.50,57.80 470.00,57.42 470.50,56.32 471.00,54.61 471.50,52.44 472.00,50.05 472.50,47.66 473.00,45.49 473.50,43.78 474.00,42.68 474.50,42.30 475.00,42.64 475.50,43.65 476.00,45.24 476.50,47.32 477.00,49.75 477.50,52.35 478.00,54.95 478.50,57.38 479.00,59.46 479.50,61.05 480.00,62.06 480.50,62.40 481.00,61.21 481.50,57.84 482.00,52.82 482.50,46.95 483.00,41.18 483.50,36.43 484.00,33.46 484.50,32.76 485.00,34.69 485.50,39.03 486.00,44.97 486.50,51.39 487.00,57.10 487.50,61.01 488.00,62.40 488.50,61.40 489.00,58.51 489.50,54.06 490.00,48.58 490.50,42.69 491.00,37.07 491.50,32.37 492.00,29.14 492.50,27.74 493.00,28.74 493.50,32.77 494.00,39.15 494.50,46.72 495.00,54.17 495.50,60.15 496.00,63.61 496.50,64.06 497.00,62.50 497.50,59.44 498.00,55.31 498.50,50.71 499.00,46.32 499.50,42.76 500.00,40.56 500.50,40.06 501.00,42.10 501.50,46.15 502.00,50.41 502.50,52.96 503.00,53.13 503.50,52.72 504.00,52.02 504.50,51.15 505.00,50.28 505.50,49.58 506.00,49.17 506.50,49.13 507.00,49.42 507.50,50.01 508.00,50.79 508.50,51.66 509.00,52.50 509.50,53.17 510.00,53.59 510.50,53.68 511.00,53.11 511.50,51.79 512.00,49.93 512.50,47.78 513.00,45.67 513.50,43.89 514.00,42.71 514.50,42.30 515.00,43.09 515.50,45.32 516.00,48.59 516.50,52.33 517.00,55.87 517.50,58.57 518.00,59.97 518.50,59.91 519.00,58.75 519.50,56.68 520.00,53.95 520.50,50.89 521.00,47.87 521.50,45.24 522.00,43.34 522.50,42.39 523.00,42.54 523.50,43.96 524.00,46.47 524.50,49.72 525.00,53.27 525.50,56.62 526.00,59.32 526.50,60.98 527.00,61.37 527.50,60.17 528.00,57.43 528.50,53.56 529.00,49.10 529.50,44.70 530.00,41.01 530.50,38.56 531.00,37.70 531.50,38.68 532.00,41.45 532.50,45.48 533.00,50.02 533.50,54.22 534.00,57.29 534.50,58.66 535.00,57.80 535.50,54.61 536.00,50.49 536.50,47.30 537.00,46.41 537.50,46.92 538.00,48.04 538.50,49.56 539.00,51.18 539.50,52.57 540.00,53.47 540.50,53.69 541.00,53.49 541.50,53.00 542.00,52.28 542.50,51.37 543.00,50.36 543.50,49.33 544.00,48.35 544.50,47.51 545.00,46.87 545.50,46.49 546.00,46.43 546.50,47.59 547.00,50.13 547.50,53.45 548.00,56.77 548.50,59.31 549.00,60.47 549.50,59.79 550.00,57.00 550.50,52.51 551.00,46.95 551.50,41.15 552.00,35.92 552.50,32.05 553.00,30.08 553.50,30.42 554.00,33.48 554.50,38.73 555.00,45.20 555.50,51.67 556.00,56.92 556.50,59.98 557.00,60.36 557.50,58.76 558.00,55.58 558.50,51.18 559.00,46.06 559.50,40.82 560.00,36.06 560.50,32.34 561.00,30.07 561.50,29.55 562.00,31.25 562.50,35.16 563.00,40.69 563.50,47.05 564.00,53.31 564.50,58.58 565.00,62.07 565.50,63.30 566.00,62.63 566.50,60.69 567.00,57.70 567.50,54.02 568.00,50.06 568.50,46.29 569.00,43.14 569.50,40.96 570.00,40.03 570.50,40.66 571.00,43.21 571.50,47.20 572.00,51.90 572.50,56.42 573.00,59.92 573.50,61.73 574.00,61.53 574.50,59.37 575.00,55.63 575.50,50.98 576.00,46.25 576.50,42.27 577.00,39.75 577.50,39.15 578.00,40.90 578.50,44.76 579.00,49.80 579.50,54.84 580.00,58.70 580.50,60.45 581.00,59.75 581.50,56.92 582.00,52.61 582.50,47.86 583.00,43.77 583.50,41.32 584.00,41.00 584.50,42.15 585.00,44.40 585.50,47.44 586.00,50.82 586.50,54.05 587.00,56.67 587.50,58.29 588.00,58.67 588.50,57.76 589.00,55.69 589.50,52.78 590.00,49.51 590.50,46.40 591.00,43.94 591.50,42.54 592.00,42.36 592.50,43.00 593.00,44.25 593.50,45.88 594.00,47.60 594.50,49.11 595.00,50.14 595.50,50.50 596.00,51.01 596.50,52.45 597.00,54.54 597.50,56.90 598.00,59.08 598.50,60.67 599.00,61.38 599.50,60.49 600.00,56.97 600.50,51.40 601.00,44.77 601.50,38.27 602.00,33.04 602.50,30.01 603.00,29.75 603.50,32.47 604.00,37.73 604.50,44.52 605.00,51.58 605.50,57.58 606.00,61.41 606.50,62.35 607.00,60.59 607.50,56.72 608.00,51.65 608.50,46.58 609.00,42.71 609.50,40.95 610.00,41.03 610.50,41.53 611.00,42.34 611.50,43.33 612.00,44.38 612.50,45.32 613.00,46.01 613.50,46.37 614.00,46.74 614.50,48.74 615.00,52.08 615.50,55.96 616.00,59.48 616.50,61.79 617.00,62.34 617.50,60.34 618.00,55.81 618.50,49.57 619.00,42.73 619.50,36.49 620.00,31.96 620.50,29.96 621.00,31.14 621.50,35.84 622.00,42.98 622.50,50.87 623.00,57.64 623.50,61.70 624.00,62.10 624.50,58.95 625.00,53.31 625.50,47.04 626.00,42.21 626.50,40.40 627.00,42.09 627.50,46.63 628.00,52.63 628.50,58.26 629.00,61.78 629.50,62.04 630.00,58.14 630.50,50.83 631.00,41.81 631.50,33.23 632.00,27.11 632.50,24.90 633.00,26.66 633.50,31.60 634.00,38.80 634.50,46.91 635.00,54.40 635.50,59.89 636.00,62.33 636.50,61.63 637.00,58.64 637.50,53.81 638.00,47.84 638.50,41.59 639.00,35.98 639.50,31.81 640.00,29.69 640.50,30.07 641.00,33.39 641.50,39.06 642.00,45.96 642.50,52.71 643.00,57.99 643.50,60.75 644.00,60.71 644.50,59.03 645.00,56.10 645.50,52.42 646.00,48.61 646.50,45.32 647.00,43.09 647.50,42.30 648.00,43.01 648.50,44.90 649.00,47.35 649.50,49.55 650.00,50.78 650.50,50.81 651.00,50.31 651.50,49.58 652.00,48.95 652.50,48.70 653.00,49.18 653.50,50.28 654.00,51.22 654.50,51.34 655.00,50.67 655.50,49.46 656.00,48.07 656.50,46.95 657.00,46.42 657.50,46.88 658.00,48.69 658.50,51.41 659.00,54.35 659.50,56.78 660.00,58.08 660.50,57.74 661.00,55.11 661.50,50.92 662.00,46.44 662.50,43.06 663.00,41.80 663.50,42.47 664.00,44.33 664.50,46.94 665.00,49.68 665.50,51.91 666.00,53.09 666.50,53.09 667.00,52.47 667.50,51.58 668.00,50.80 668.50,50.50 669.00,50.65 669.50,51.04 670.00,51.56 670.50,52.02 671.00,52.28 671.50,52.09 672.00,50.89 672.50,48.89 673.00,46.56 673.50,44.45 674.00,43.07 674.50,42.73 675.00,43.78 675.50,46.08 676.00,49.10 676.50,52.12 677.00,54.42 677.50,55.47 678.00,55.31 678.50,54.59 679.00,53.49 679.50,52.27 680.00,51.23 680.50,50.61" fill="none" stroke="#0072BD" stroke-width="0.75" stroke-linejoin="round" opacity="0.85"/>
<polyline points="254.50,45.50 255.00,45.23 255.50,44.45 256.00,43.23 256.50,41.70 257.00,40.00 257.50,38.30 258.00,36.77 258.50,35.55 259.00,34.77 259.50,34.50 260.00,35.27 260.50,37.43 261.00,40.58 261.50,44.12 262.00,47.40 262.50,49.80 263.00,50.87 263.50,50.57 264.00,49.26 264.50,47.13 265.00,44.44 265.50,41.53 266.00,38.77 266.50,36.50 267.00,35.02 267.50,34.50 268.00,35.06 268.50,36.66 269.00,39.09 269.50,42.03 270.00,45.09 270.50,47.87 271.00,50.00 271.50,51.20 272.00,51.27 272.50,49.87 273.00,47.17 273.50,43.63 274.00,39.89 274.50,36.62 275.00,34.39 275.50,33.60 276.00,34.73 276.50,37.74 277.00,41.64 277.50,45.15 278.00,47.12 278.50,47.14 279.00,46.23 279.50,44.71 280.00,42.94 280.50,41.33 281.00,40.28 281.50,40.02 282.00,40.65 282.50,41.91 283.00,43.23 283.50,44.02 284.00,43.96 284.50,43.17 285.00,41.93 285.50,40.65 286.00,39.74 286.50,39.52 287.00,40.15 287.50,41.41 288.00,42.73 288.50,43.52 289.00,43.52 289.50,43.06 290.00,42.33 290.50,41.57 291.00,41.04 291.50,40.91 292.00,41.15 292.50,41.67 293.00,42.31 293.50,42.86 294.00,43.17 294.50,43.16 295.00,42.92 295.50,42.54 296.00,42.15 296.50,41.87 297.00,41.80 297.50,41.65 298.00,41.33 298.50,40.89 299.00,40.41 299.50,39.97 300.00,39.65 300.50,39.50 301.00,39.74 301.50,40.67 302.00,42.08 302.50,43.63 303.00,44.96 303.50,45.76 304.00,45.87 304.50,45.53 305.00,44.84 305.50,43.90 306.00,42.81 306.50,41.71 307.00,40.73 307.50,39.99 308.00,39.57 308.50,39.54 309.00,39.97 309.50,40.77 310.00,41.75 310.50,42.69 311.00,43.36 311.50,43.60 312.00,43.60 312.50,43.60 313.00,43.60 313.50,43.60 314.00,43.60 314.50,43.53 315.00,43.25 315.50,42.78 316.00,42.18 316.50,41.49 317.00,40.79 317.50,40.14 318.00,39.62 318.50,39.26 319.00,39.10 319.50,39.26 320.00,39.85 320.50,40.75 321.00,41.75 321.50,42.60 322.00,43.11 322.50,43.18 323.00,42.94 323.50,42.49 324.00,41.94 324.50,41.41 325.00,41.04 325.50,40.90 326.00,41.16 326.50,41.82 327.00,42.58 327.50,43.10 328.00,43.13 328.50,42.42 329.00,41.22 329.50,40.09 330.00,39.52 330.50,39.74 331.00,40.65 331.50,41.93 332.00,43.17 332.50,43.96 333.00,44.11 333.50,44.18 334.00,44.32 334.50,44.52 335.00,44.75 335.50,44.99 336.00,45.20 336.50,45.37 337.00,45.47 337.50,45.47 338.00,44.42 338.50,42.12 339.00,39.10 339.50,36.08 340.00,33.78 340.50,32.73 341.00,33.41 341.50,36.13 342.00,40.33 342.50,45.13 343.00,49.53 343.50,52.60 344.00,53.70 344.50,52.55 345.00,49.35 345.50,44.76 346.00,39.75 346.50,35.37 347.00,32.54 347.50,31.83 348.00,32.99 348.50,35.59 349.00,39.18 349.50,43.12 350.00,46.71 350.50,49.31 351.00,50.47 351.50,50.18 352.00,48.93 352.50,46.92 353.00,44.44 353.50,41.83 354.00,39.50 354.50,37.76 355.00,36.88 355.50,37.05 356.00,38.45 356.50,40.66 357.00,42.95 357.50,44.56 358.00,45.00 358.50,44.99 359.00,44.96 359.50,44.92 360.00,44.86 360.50,44.80 361.00,44.74 361.50,44.67 362.00,44.61 362.50,44.56 363.00,44.53 363.50,44.51 364.00,44.49 364.50,44.08 365.00,43.18 365.50,42.00 366.00,40.82 366.50,39.92 367.00,39.51 367.50,39.80 368.00,40.92 368.50,42.59 369.00,44.35 369.50,45.74 370.00,46.38 370.50,46.11 371.00,44.98 371.50,43.24 372.00,41.25 372.50,39.43 373.00,38.16 373.50,37.70 374.00,38.09 374.50,39.17 375.00,40.73 375.50,42.47 376.00,44.03 376.50,45.11 377.00,45.50 377.50,45.36 378.00,44.96 378.50,44.32 379.00,43.49 379.50,42.53 380.00,41.50 380.50,40.47 381.00,39.53 381.50,38.73 382.00,38.14 382.50,37.79 383.00,37.72 383.50,38.34 384.00,39.75 384.50,41.67 385.00,43.74 385.50,45.59 386.00,46.85 386.50,47.30 387.00,47.01 387.50,46.17 388.00,44.87 388.50,43.28 389.00,41.56 389.50,39.93 390.00,38.56 390.50,37.62 391.00,37.21 391.50,37.46 392.00,38.48 392.50,40.08 393.00,42.00 393.50,43.87 394.00,45.38 394.50,46.25 395.00,46.33 395.50,45.54 396.00,44.13 396.50,42.56 397.00,41.35 397.50,40.90 398.00,41.28 398.50,42.29 399.00,43.60 399.50,44.78 400.00,45.44 400.50,45.26 401.00,43.86 401.50,41.64 402.00,39.26 402.50,37.47 403.00,36.80 403.50,37.61 404.00,39.84 404.50,42.98 405.00,46.27 405.50,48.95 406.00,50.37 406.50,50.17 407.00,48.23 407.50,45.00 408.00,41.24 408.50,37.83 409.00,35.59 409.50,35.03 410.00,36.15 410.50,38.62 411.00,41.85 411.50,45.08 412.00,47.55 412.50,48.67 413.00,48.09 413.50,45.83 414.00,42.62 414.50,39.52 415.00,37.55 415.50,37.32 416.00,38.61 416.50,40.93 417.00,43.59 417.50,45.75 418.00,46.77 418.50,46.45 419.00,45.14 419.50,43.14 420.00,40.93 420.50,39.03 421.00,37.90 421.50,37.79 422.00,38.75 422.50,40.53 423.00,42.65 423.50,44.54 424.00,45.70 424.50,45.82 425.00,44.97 425.50,43.37 426.00,41.40 426.50,39.52 427.00,38.18 427.50,37.70 428.00,38.34 428.50,40.06 429.00,42.28 429.50,44.28 430.00,45.39 430.50,45.28 431.00,44.03 431.50,42.04 432.00,39.91 432.50,38.30 433.00,37.70 433.50,38.27 434.00,39.83 434.50,42.03 435.00,44.34 435.50,46.21 436.00,47.21 436.50,47.11 437.00,46.01 437.50,44.12 438.00,41.80 438.50,39.48 439.00,37.59 439.50,36.49 440.00,36.36 440.50,37.04 441.00,38.37 441.50,40.16 442.00,42.15 442.50,44.06 443.00,45.60 443.50,46.56 444.00,46.78 444.50,45.95 445.00,44.06 445.50,41.37 446.00,38.29 446.50,35.25 447.00,32.69 447.50,30.99 448.00,30.40 448.50,31.64 449.00,35.07 449.50,39.87 450.00,44.92 450.50,49.02 451.00,51.20 451.50,51.21 452.00,50.11 452.50,48.16 453.00,45.65 453.50,42.95 454.00,40.44 454.50,38.49 455.00,37.39 455.50,37.24 456.00,37.72 456.50,38.62 457.00,39.73 457.50,40.78 458.00,41.53 458.50,41.80 459.00,42.12 459.50,43.02 460.00,44.28 460.50,45.60 461.00,46.68 461.50,47.25 462.00,47.12 462.50,46.08 463.00,44.28 463.50,42.03 464.00,39.75 464.50,37.83 465.00,36.61 465.50,36.32 466.00,37.15 466.50,38.97 467.00,41.35 467.50,43.73 468.00,45.55 468.50,46.38 469.00,46.19 469.50,45.39 470.00,44.19 470.50,42.85 471.00,41.71 471.50,41.02 472.00,40.96 472.50,41.58 473.00,42.61 473.50,43.59 474.00,44.09 474.50,43.79 475.00,42.63 475.50,40.98 476.00,39.39 476.50,38.38 477.00,38.27 477.50,39.07 478.00,40.59 478.50,42.55 479.00,44.54 479.50,46.18 480.00,47.14 480.50,47.24 481.00,46.59 481.50,45.35 482.00,43.74 482.50,42.07 483.00,40.64 483.50,39.74 484.00,39.51 484.50,39.76 485.00,40.35 485.50,41.24 486.00,42.39 486.50,43.72 487.00,45.16 487.50,46.61 488.00,47.99 488.50,49.22 489.00,50.23 489.50,50.95 490.00,51.34 490.50,51.19 491.00,48.91 491.50,44.64 492.00,39.38 492.50,34.37 493.00,30.79 493.50,29.50 494.00,30.95 494.50,34.97 495.00,40.59 495.50,46.51 496.00,51.31 496.50,53.86 497.00,53.68 497.50,51.23 498.00,47.14 498.50,42.39 499.00,38.08 499.50,35.25 500.00,34.53 500.50,35.58 501.00,37.88 501.50,40.90 502.00,43.92 502.50,46.22 503.00,47.27 503.50,46.93 504.00,45.55 504.50,43.44 505.00,41.11 505.50,39.11 506.00,37.91 506.50,37.77 507.00,38.56 507.50,40.08 508.00,42.06 508.50,44.16 509.00,46.00 509.50,47.26 510.00,47.70 510.50,47.36 511.00,46.37 511.50,44.85 512.00,42.99 512.50,41.01 513.00,39.15 513.50,37.63 514.00,36.64 514.50,36.30 515.00,36.83 515.50,38.32 516.00,40.51 516.50,43.01 517.00,45.37 517.50,47.18 518.00,48.11 518.50,48.05 519.00,47.16 519.50,45.57 520.00,43.47 520.50,41.11 521.00,38.78 521.50,36.77 522.00,35.30 522.50,34.57 523.00,34.71 523.50,35.97 524.00,38.19 524.50,41.07 525.00,44.21 525.50,47.17 526.00,49.56 526.50,51.02 527.00,51.37 527.50,50.36 528.00,48.04 528.50,44.75 529.00,40.97 529.50,37.24 530.00,34.11 530.50,32.03 531.00,31.30 531.50,32.20 532.00,34.73 532.50,38.42 533.00,42.57 533.50,46.41 534.00,49.21 534.50,50.46 535.00,50.09 535.50,48.52 536.00,46.08 536.50,43.24 537.00,40.57 537.50,38.61 538.00,37.73 538.50,38.01 539.00,39.18 539.50,40.82 540.00,42.41 540.50,43.42 541.00,43.56 541.50,43.13 542.00,42.42 542.50,41.75 543.00,41.41 543.50,41.53 544.00,42.00 544.50,42.60 545.00,43.07 545.50,43.20 546.00,43.06 546.50,42.78 547.00,42.49 547.50,42.32 548.00,42.40 548.50,42.94 549.00,43.81 549.50,44.70 550.00,45.33 550.50,45.47 551.00,44.46 551.50,42.22 552.00,39.30 552.50,36.38 553.00,34.14 553.50,33.13 554.00,33.67 554.50,35.89 555.00,39.40 555.50,43.58 556.00,47.67 556.50,50.97 557.00,52.88 557.50,53.03 558.00,51.17 558.50,47.60 559.00,42.98 559.50,38.17 560.00,34.08 560.50,31.48 561.00,30.84 561.50,32.05 562.00,34.79 562.50,38.57 563.00,42.73 563.50,46.51 564.00,49.25 564.50,50.46 565.00,50.29 565.50,49.46 566.00,48.09 566.50,46.30 567.00,44.27 567.50,42.20 568.00,40.29 568.50,38.73 569.00,37.67 569.50,37.21 570.00,37.59 570.50,39.10 571.00,41.50 571.50,44.34 572.00,47.13 572.50,49.38 573.00,50.68 573.50,50.71 574.00,48.68 574.50,44.85 575.00,40.14 575.50,35.66 576.00,32.46 576.50,31.30 577.00,32.59 577.50,36.17 578.00,41.18 578.50,46.44 579.00,50.71 579.50,52.99 580.00,52.86 580.50,50.85 581.00,47.40 581.50,43.15 582.00,38.90 582.50,35.45 583.00,33.44 583.50,33.17 584.00,33.92 584.50,35.42 585.00,37.49 585.50,39.90 586.00,42.37 586.50,44.61 587.00,46.36 587.50,47.43 588.00,47.69 588.50,47.32 589.00,46.44 589.50,45.14 590.00,43.52 590.50,41.73 591.00,39.93 591.50,38.27 592.00,36.89 592.50,35.92 593.00,35.44 593.50,35.54 594.00,36.39 594.50,37.92 595.00,39.99 595.50,42.40 596.00,44.90 596.50,47.25 597.00,49.23 597.50,50.64 598.00,51.34 598.50,51.12 599.00,49.49 599.50,46.61 600.00,42.90 600.50,38.90 601.00,35.19 601.50,32.31 602.00,30.68 602.50,30.61 603.00,32.89 603.50,37.16 604.00,42.42 604.50,47.43 605.00,51.01 605.50,52.30 606.00,51.77 606.50,50.28 607.00,48.09 607.50,45.59 608.00,43.23 608.50,41.42 609.00,40.49 609.50,40.34 610.00,40.00 610.50,39.44 611.00,38.79 611.50,38.19 612.00,37.80 612.50,37.72 613.00,38.29 613.50,39.61 614.00,41.47 614.50,43.62 615.00,45.73 615.50,47.51 616.00,48.69 616.50,49.10 617.00,48.46 617.50,46.68 618.00,44.18 618.50,41.56 619.00,39.44 619.50,38.30 620.00,38.32 620.50,39.03 621.00,40.13 621.50,41.27 622.00,42.08 622.50,42.30 623.00,42.16 623.50,41.88 624.00,41.59 624.50,41.42 625.00,41.52 625.50,42.25 626.00,43.52 626.50,45.09 627.00,46.69 627.50,48.03 628.00,48.88 628.50,49.07 629.00,47.97 629.50,45.49 630.00,42.05 630.50,38.21 631.00,34.64 631.50,31.92 632.00,30.53 632.50,30.83 633.00,33.34 633.50,37.65 634.00,42.95 634.50,48.25 635.00,52.56 635.50,55.07 636.00,55.34 636.50,53.60 637.00,50.21 637.50,45.70 638.00,40.80 638.50,36.29 639.00,32.90 639.50,31.16 640.00,31.32 640.50,33.21 641.00,36.43 641.50,40.35 642.00,44.19 642.50,47.19 643.00,48.76 643.50,48.69 644.00,47.48 644.50,45.43 645.00,43.02 645.50,40.76 646.00,39.17 646.50,38.60 647.00,38.98 647.50,40.02 648.00,41.38 648.50,42.66 649.00,43.46 649.50,43.54 650.00,42.92 650.50,41.89 651.00,40.91 651.50,40.41 652.00,40.60 652.50,41.32 653.00,42.36 653.50,43.35 654.00,43.99 654.50,44.05 655.00,43.53 655.50,42.56 656.00,41.35 656.50,40.21 657.00,39.40 657.50,39.10 658.00,39.59 658.50,40.88 659.00,42.56 659.50,44.07 660.00,44.92 660.50,44.85 661.00,43.96 661.50,42.56 662.00,41.06 662.50,39.92 663.00,39.50 663.50,39.88 664.00,40.89 664.50,42.20 665.00,43.38 665.50,44.04 666.00,43.98 666.50,43.33 667.00,42.28 667.50,41.16 668.00,40.31 668.50,40.00 669.00,40.35 669.50,41.31 670.00,42.66 670.50,44.08 671.00,45.23 671.50,45.84 672.00,45.71 672.50,44.62 673.00,42.75 673.50,40.45 674.00,38.15 674.50,36.28 675.00,35.19 675.50,35.15 676.00,36.76 676.50,39.78 677.00,43.51 677.50,47.06 678.00,49.58 678.50,50.50 679.00,49.98 679.50,48.67 680.00,47.14 680.50,46.09" fill="none" stroke="#D95319" stroke-width="0.75" stroke-linejoin="round" opacity="0.85"/>
</g>
<text x="0.00" y="0.00" font-size="10.60" text-anchor="middle" fill="#262626" transform="translate(231.8,81.7) rotate(-90)">LFP (a.u.)</text>
<text x="0.00" y="0.00" font-size="10.60" text-anchor="middle" fill="#262626" transform="translate(248.8,78.9) rotate(-90)">channel (visual cortex)</text>
<line x1="254.50" y1="143.30" x2="680.50" y2="143.30" stroke="#d6d6d6" stroke-width="1"/>
<line x1="254.50" y1="195.10" x2="680.50" y2="195.10" stroke="#a6a6a6" stroke-width="1"/>
<line x1="680.50" y1="143.30" x2="680.50" y2="195.10" stroke="#8c8c8c" stroke-width="1"/>
<line x1="254.50" y1="143.30" x2="254.50" y2="195.10" stroke="#5a5a5a" stroke-width="1"/>
<line x1="254.50" y1="169.20" x2="258.50" y2="169.20" stroke="#bbb" stroke-width="0.8"/>
<line x1="680.50" y1="169.20" x2="676.50" y2="169.20" stroke="#bbb" stroke-width="0.8"/>
<line x1="361.00" y1="143.30" x2="361.00" y2="145.80" stroke="#999" stroke-width="0.8"/>
<line x1="361.00" y1="195.10" x2="361.00" y2="192.60" stroke="#999" stroke-width="0.8"/>
<line x1="467.50" y1="143.30" x2="467.50" y2="145.80" stroke="#999" stroke-width="0.8"/>
<line x1="467.50" y1="195.10" x2="467.50" y2="192.60" stroke="#999" stroke-width="0.8"/>
<line x1="574.00" y1="143.30" x2="574.00" y2="145.80" stroke="#999" stroke-width="0.8"/>
<line x1="574.00" y1="195.10" x2="574.00" y2="192.60" stroke="#999" stroke-width="0.8"/>
<text x="250.50" y="147.20" font-size="10.30" text-anchor="end" fill="#262626" >1</text>
<text x="250.50" y="173.40" font-size="10.30" text-anchor="end" fill="#262626" >0.5</text>
<text x="250.50" y="196.40" font-size="10.30" text-anchor="end" fill="#262626" >0</text>
<text x="0.00" y="0.00" font-size="10.30" text-anchor="middle" fill="#262626" transform="translate(230.6,170.4) rotate(-90)">PC</text>
<polyline points="255.10,149.32 255.37,148.71 255.75,147.83 256.21,146.90 256.74,146.16 257.35,145.67 258.04,145.30 258.77,145.02 259.48,144.79 260.16,144.63 260.85,144.55 261.53,144.52 262.22,144.52 262.90,144.57 263.59,144.67 264.27,144.80 264.96,144.93 265.66,145.04 266.37,145.15 267.06,145.28 267.70,145.48 268.28,145.70 268.81,145.94 269.30,146.29 269.75,146.85 270.14,147.59 270.48,148.48 270.80,149.58 271.12,150.96 271.47,152.72 271.81,154.81 272.15,157.03 272.49,159.18 272.82,161.23 273.14,163.29 273.47,165.34 273.86,167.40 274.33,169.54 274.85,171.75 275.39,173.83 275.92,175.62 276.45,177.11 276.99,178.38 277.51,179.37 277.97,180.00 278.35,180.24 278.66,180.14 278.97,179.72 279.34,179.04 279.81,177.99 280.33,176.58 280.87,175.04 281.40,173.56 281.92,172.11 282.44,170.61 282.96,169.21 283.45,168.08 283.93,167.25 284.39,166.63 284.83,166.22 285.23,166.03 285.58,166.06 285.89,166.33 286.18,166.78 286.47,167.40 286.75,168.28 287.02,169.41 287.29,170.56 287.56,171.51 287.83,172.29 288.10,173.01 288.37,173.48 288.66,173.56 288.95,173.24 289.26,172.58 289.57,171.56 289.89,170.14 290.22,168.08 290.57,165.47 290.91,162.80 291.26,160.55 291.59,158.86 291.92,157.47 292.26,156.25 292.63,155.07 293.04,153.92 293.48,152.86 293.94,151.88 294.41,150.96 294.91,150.10 295.42,149.31 295.95,148.59 296.47,147.95 296.98,147.36 297.49,146.82 298.01,146.41 298.52,146.16 299.04,146.11 299.57,146.22 300.09,146.48 300.58,146.85 301.01,147.33 301.41,147.92 301.81,148.66 302.22,149.59 302.66,150.78 303.13,152.20 303.58,153.68 304.00,155.07 304.38,156.40 304.74,157.72 305.07,158.92 305.37,159.86 305.64,160.54 305.87,161.02 306.09,161.26 306.33,161.23 306.59,160.90 306.85,160.29 307.13,159.47 307.42,158.49 307.75,157.25 308.09,155.75 308.45,154.26 308.79,153.01 309.12,152.09 309.44,151.36 309.77,150.77 310.16,150.27 310.63,149.85 311.15,149.52 311.69,149.33 312.22,149.32 312.73,149.49 313.25,149.82 313.76,150.31 314.27,150.96 314.79,151.78 315.30,152.77 315.82,153.89 316.33,155.07 316.84,156.37 317.36,157.81 317.87,159.24 318.38,160.55 318.91,161.73 319.45,162.84 319.97,163.84 320.44,164.66 320.83,165.32 321.17,165.84 321.48,166.18 321.81,166.30 322.15,166.12 322.49,165.67 322.84,165.13 323.18,164.66 323.53,164.20 323.89,163.70 324.23,163.33 324.55,163.29 324.81,163.66 325.04,164.33 325.27,165.17 325.51,166.03 325.77,167.02 326.05,168.18 326.34,169.23 326.60,169.86 326.85,170.10 327.08,170.07 327.32,169.66 327.56,168.77 327.83,167.13 328.11,164.89 328.39,162.53 328.66,160.55 328.90,159.03 329.14,157.72 329.37,156.63 329.62,155.75 329.87,155.13 330.14,154.76 330.42,154.53 330.71,154.38 331.00,154.29 331.29,154.29 331.63,154.39 332.07,154.59 332.65,154.90 333.35,155.31 334.08,155.83 334.79,156.44 335.49,157.17 336.21,158.01 336.90,158.92 337.53,159.86 338.10,160.79 338.60,161.75 339.09,162.78 339.59,163.97 340.10,165.34 340.62,166.84 341.13,168.45 341.64,170.14 342.17,172.05 342.70,174.14 343.21,176.12 343.70,177.67 344.14,178.74 344.56,179.49 344.96,179.92 345.34,180.00 345.70,179.74 346.04,179.15 346.38,178.23 346.71,176.99 347.05,175.20 347.40,172.95 347.74,170.65 348.08,168.77 348.40,167.42 348.70,166.37 349.03,165.49 349.45,164.66 349.99,163.85 350.60,163.13 351.26,162.49 351.92,161.92 352.58,161.39 353.27,160.93 353.97,160.55 354.66,160.27 355.36,160.17 356.07,160.21 356.76,160.24 357.40,160.14 357.96,159.91 358.47,159.61 358.95,159.16 359.45,158.49 359.97,157.50 360.48,156.25 360.99,154.92 361.51,153.70 362.03,152.57 362.55,151.45 363.07,150.43 363.56,149.59 364.03,148.93 364.48,148.42 364.91,148.09 365.34,147.95 365.75,148.01 366.15,148.25 366.55,148.69 366.99,149.32 367.47,150.14 367.99,151.16 368.52,152.36 369.04,153.70 369.56,155.31 370.09,157.16 370.61,158.99 371.10,160.55 371.54,161.82 371.96,162.92 372.36,163.79 372.74,164.38 373.09,164.75 373.42,164.89 373.74,164.68 374.11,163.97 374.53,162.54 374.97,160.52 375.44,158.34 375.89,156.44 376.34,154.86 376.79,153.40 377.24,152.09 377.67,150.96 378.08,150.02 378.48,149.26 378.88,148.67 379.32,148.22 379.80,147.96 380.32,147.89 380.85,147.92 381.37,147.95 381.88,148.00 382.40,148.11 382.91,148.21 383.42,148.22 383.94,148.10 384.45,147.89 384.97,147.68 385.48,147.53 386.00,147.44 386.53,147.38 387.05,147.39 387.53,147.53 387.98,147.76 388.40,148.07 388.80,148.55 389.18,149.32 389.54,150.45 389.88,151.88 390.21,153.46 390.55,155.07 390.88,156.77 391.21,158.60 391.55,160.37 391.92,161.92 392.33,163.11 392.77,164.06 393.22,164.97 393.70,166.03 394.19,167.30 394.71,168.68 395.23,170.10 395.75,171.51 396.27,172.88 396.78,174.25 397.29,175.62 397.81,176.99 398.32,178.44 398.84,179.94 399.35,181.34 399.86,182.47 400.38,183.19 400.89,183.62 401.40,183.99 401.92,184.52 402.45,185.36 403.01,186.36 403.53,187.30 403.97,187.95 404.32,188.25 404.58,188.33 404.82,188.22 405.07,187.95 405.32,187.61 405.55,187.17 405.80,186.44 406.10,185.21 406.45,183.39 406.85,181.10 407.29,178.46 407.74,175.62 408.22,172.38 408.74,168.77 409.27,165.15 409.79,161.92 410.29,159.10 410.78,156.52 411.29,154.24 411.85,152.33 412.49,150.85 413.18,149.74 413.89,148.91 414.59,148.22 415.27,147.68 415.96,147.35 416.64,147.17 417.33,147.12 418.03,147.19 418.74,147.39 419.43,147.73 420.07,148.22 420.64,148.82 421.16,149.53 421.64,150.44 422.12,151.64 422.60,153.16 423.06,154.94 423.49,156.96 423.90,159.18 424.27,161.68 424.60,164.44 424.92,167.32 425.27,170.14 425.67,172.97 426.08,175.87 426.50,178.65 426.92,181.10 427.34,183.22 427.76,185.10 428.17,186.70 428.56,187.95 428.92,188.83 429.26,189.38 429.60,189.63 429.93,189.59 430.27,189.25 430.62,188.61 430.96,187.71 431.30,186.58 431.63,185.06 431.96,183.20 432.30,181.32 432.67,179.73 433.09,178.47 433.54,177.38 434.00,176.51 434.45,175.89 434.91,175.69 435.37,175.84 435.82,176.01 436.23,175.89 436.60,175.54 436.94,175.07 437.27,174.26 437.60,172.88 437.94,170.63 438.27,167.72 438.61,164.65 438.97,161.92 439.34,159.59 439.71,157.42 440.12,155.45 440.62,153.70 441.22,152.19 441.92,150.92 442.65,149.83 443.36,148.90 444.05,148.17 444.74,147.62 445.43,147.20 446.10,146.85 446.75,146.51 447.40,146.23 448.01,146.09 448.56,146.16 449.04,146.44 449.45,146.87 449.83,147.54 450.21,148.49 450.57,149.75 450.91,151.28 451.24,153.07 451.58,155.07 451.91,157.46 452.24,160.19 452.58,162.93 452.95,165.34 453.34,167.44 453.77,169.37 454.19,170.99 454.59,172.19 454.95,172.94 455.29,173.30 455.62,173.28 455.96,172.88 456.29,172.08 456.62,170.91 456.96,169.35 457.33,167.40 457.75,164.81 458.19,161.66 458.65,158.47 459.11,155.75 459.56,153.59 460.01,151.71 460.45,150.15 460.89,148.90 461.31,148.04 461.72,147.52 462.13,147.25 462.53,147.12 462.95,147.06 463.37,147.13 463.79,147.47 464.18,148.22 464.54,149.43 464.88,151.03 465.21,152.93 465.55,155.07 465.89,157.62 466.23,160.55 466.58,163.48 466.92,166.03 467.26,168.16 467.60,170.05 467.95,171.65 468.29,172.88 468.63,173.73 468.97,174.25 469.32,174.42 469.66,174.25 470.00,173.73 470.34,172.88 470.68,171.68 471.03,170.14 471.36,168.09 471.69,165.60 472.03,162.98 472.40,160.55 472.81,158.31 473.24,156.11 473.70,154.08 474.18,152.33 474.66,150.89 475.15,149.71 475.66,148.74 476.23,147.95 476.86,147.35 477.54,146.95 478.25,146.71 478.97,146.58 479.74,146.57 480.56,146.71 481.35,146.92 482.05,147.12 482.62,147.35 483.10,147.62 483.57,147.85 484.11,147.95 484.73,147.84 485.39,147.60 486.10,147.33 486.85,147.12 487.67,146.98 488.56,146.85 489.45,146.79 490.27,146.85 491.03,147.01 491.75,147.26 492.41,147.65 493.01,148.22 493.54,148.93 493.99,149.76 494.40,150.85 494.79,152.33 495.17,154.28 495.51,156.61 495.83,159.20 496.16,161.92 496.51,164.90 496.85,168.17 497.19,171.39 497.53,174.25 497.89,176.78 498.24,179.11 498.59,181.07 498.90,182.47 499.16,183.27 499.38,183.56 499.60,183.38 499.86,182.74 500.18,181.57 500.52,179.88 500.88,177.84 501.23,175.62 501.57,173.11 501.89,170.29 502.23,167.39 502.60,164.66 503.02,162.05 503.46,159.48 503.92,157.10 504.38,155.07 504.84,153.47 505.30,152.20 505.78,151.17 506.30,150.27 506.87,149.49 507.48,148.88 508.12,148.45 508.77,148.22 509.43,148.24 510.12,148.49 510.82,148.88 511.51,149.32 512.21,149.82 512.92,150.42 513.61,151.05 514.25,151.64 514.81,152.10 515.32,152.47 515.80,152.95 516.30,153.70 516.82,154.84 517.33,156.27 517.84,157.78 518.36,159.18 518.87,160.51 519.38,161.83 519.90,163.03 520.41,163.97 520.94,164.62 521.48,165.04 522.00,165.27 522.47,165.34 522.86,165.34 523.19,165.21 523.51,164.81 523.84,163.97 524.18,162.47 524.52,160.46 524.86,158.32 525.21,156.44 525.54,154.85 525.87,153.38 526.21,152.07 526.58,150.96 526.96,150.08 527.37,149.40 527.79,148.88 528.22,148.49 528.66,148.24 529.13,148.13 529.58,148.14 530.00,148.22 530.37,148.26 530.71,148.30 531.04,148.59 531.37,149.32 531.72,150.66 532.07,152.47 532.42,154.49 532.74,156.44 533.03,158.37 533.30,160.39 533.56,162.32 533.84,163.97 534.13,165.37 534.43,166.58 534.75,167.52 535.07,168.08 535.40,168.17 535.74,167.87 536.09,167.33 536.44,166.71 536.78,165.95 537.12,165.00 537.47,164.05 537.81,163.29 538.15,162.70 538.49,162.22 538.84,161.92 539.18,161.92 539.53,162.33 539.88,163.07 540.22,163.92 540.55,164.66 540.83,165.32 541.10,165.98 541.36,166.50 541.64,166.71 541.97,166.63 542.31,166.33 542.66,165.70 543.01,164.66 543.35,162.99 543.68,160.80 544.02,158.49 544.38,156.44 544.77,154.66 545.18,152.99 545.60,151.50 546.03,150.27 546.46,149.39 546.89,148.78 547.34,148.33 547.81,147.95 548.29,147.60 548.78,147.34 549.29,147.18 549.86,147.12 550.50,147.18 551.19,147.34 551.90,147.60 552.60,147.95 553.33,148.44 554.08,149.08 554.78,149.72 555.34,150.27 555.71,150.60 555.92,150.80 556.11,151.08 556.37,151.64 556.73,152.55 557.14,153.70 557.58,155.01 558.01,156.44 558.45,158.03 558.90,159.80 559.35,161.60 559.79,163.29 560.25,164.92 560.72,166.54 561.17,167.98 561.58,169.04 561.92,169.73 562.21,170.14 562.49,170.20 562.81,169.86 563.16,169.01 563.54,167.70 563.92,166.17 564.32,164.66 564.72,163.07 565.13,161.34 565.54,159.72 565.96,158.49 566.38,157.73 566.80,157.29 567.21,157.11 567.60,157.12 567.96,157.28 568.30,157.64 568.64,158.25 568.97,159.18 569.32,160.54 569.66,162.26 570.00,164.15 570.34,166.03 570.68,167.95 571.02,169.99 571.36,171.93 571.71,173.56 572.08,174.87 572.47,175.97 572.85,176.78 573.22,177.26 573.56,177.44 573.90,177.34 574.23,176.85 574.59,175.89 574.98,174.36 575.39,172.33 575.81,169.96 576.23,167.40 576.67,164.47 577.12,161.17 577.57,157.90 578.01,155.07 578.42,152.73 578.82,150.68 579.22,148.94 579.66,147.53 580.14,146.55 580.64,145.95 581.17,145.56 581.71,145.21 582.28,144.86 582.87,144.60 583.46,144.44 584.04,144.38 584.60,144.43 585.14,144.57 585.68,144.83 586.23,145.21 586.82,145.75 587.42,146.44 588.01,147.20 588.56,147.95 589.06,148.59 589.51,149.20 589.94,149.93 590.34,150.96 590.72,152.34 591.08,153.97 591.41,155.81 591.71,157.81 591.97,160.12 592.19,162.71 592.41,165.24 592.67,167.40 592.99,169.15 593.35,170.67 593.71,171.85 594.04,172.60 594.33,173.04 594.60,173.15 594.86,172.72 595.14,171.51 595.43,169.12 595.74,165.79 596.05,162.23 596.37,159.18 596.69,156.72 597.02,154.51 597.37,152.58 597.74,150.96 598.13,149.72 598.54,148.82 599.00,148.13 599.52,147.53 600.14,147.03 600.83,146.68 601.55,146.41 602.26,146.16 602.97,145.90 603.69,145.67 604.38,145.51 605.00,145.48 605.51,145.55 605.94,145.71 606.35,146.03 606.78,146.58 607.26,147.46 607.77,148.62 608.25,149.85 608.70,150.96 609.08,151.97 609.42,152.97 609.74,153.82 610.07,154.38 610.40,154.65 610.72,154.68 611.05,154.47 611.40,154.03 611.77,153.24 612.15,152.12 612.55,150.94 612.98,149.93 613.44,149.14 613.93,148.45 614.46,147.85 615.03,147.33 615.69,146.87 616.41,146.49 617.13,146.19 617.77,145.96 618.31,145.76 618.78,145.61 619.21,145.59 619.62,145.75 619.99,146.11 620.33,146.63 620.66,147.32 620.99,148.21 621.34,149.44 621.69,150.94 622.03,152.45 622.36,153.69 622.65,154.66 622.91,155.48 623.18,156.05 623.45,156.29 623.75,156.14 624.05,155.65 624.36,154.92 624.68,154.03 625.01,152.89 625.35,151.47 625.70,150.05 626.05,148.90 626.44,148.09 626.86,147.47 627.26,146.99 627.60,146.58 627.86,146.25 628.06,146.03 628.25,145.88 628.48,145.75 628.76,145.63 629.07,145.55 629.38,145.50 629.66,145.48 629.85,145.47 630.00,145.49 630.19,145.56 630.53,145.75 631.10,146.05 631.82,146.44 632.59,146.93 633.27,147.53 633.83,148.23 634.35,149.05 634.84,149.96 635.32,150.95 635.79,151.99 636.23,153.09 636.67,154.32 637.10,155.74 637.52,157.35 637.94,159.12 638.35,161.08 638.74,163.27 639.11,165.87 639.46,168.83 639.79,171.73 640.11,174.21 640.39,176.20 640.66,177.89 640.92,179.28 641.20,180.37 641.53,181.15 641.87,181.61 642.22,181.80 642.57,181.74 642.92,181.30 643.28,180.50 643.63,179.64 643.94,179.00 644.21,178.58 644.44,178.23 644.67,178.11 644.90,178.32 645.13,178.99 645.35,180.03 645.59,181.24 645.86,182.43 646.18,183.67 646.53,185.03 646.89,186.29 647.22,187.21 647.51,187.79 647.77,188.11 648.03,188.16 648.32,187.90 648.64,187.15 648.99,185.97 649.34,184.74 649.69,183.79 650.01,183.23 650.33,182.87 650.67,182.63 651.06,182.43 651.54,182.30 652.08,182.27 652.63,182.25 653.11,182.15 653.50,182.01 653.84,181.84 654.15,181.56 654.48,181.06 654.82,180.34 655.16,179.45 655.50,178.34 655.85,176.95 656.18,175.22 656.51,173.19 656.84,170.98 657.21,168.74 657.63,166.38 658.07,163.86 658.53,161.39 658.99,159.16 659.47,157.19 659.95,155.38 660.44,153.75 660.91,152.32 661.37,151.03 661.83,149.90 662.28,149.03 662.69,148.49 663.06,148.21 663.40,148.19 663.73,148.59 664.06,149.58 664.40,151.36 664.74,153.80 665.08,156.52 665.43,159.16 665.78,161.87 666.14,164.76 666.48,167.42 666.79,169.42 667.06,170.69 667.29,171.43 667.51,171.69 667.75,171.48 668.02,170.70 668.29,169.38 668.57,167.74 668.85,166.00 669.11,164.06 669.36,161.85 669.63,159.67 669.94,157.79 670.30,156.30 670.70,155.05 671.13,153.97 671.58,153.00 672.07,152.12 672.59,151.38 673.11,150.76 673.64,150.26 674.15,149.92 674.66,149.71 675.18,149.61 675.69,149.58 676.22,149.64 676.76,149.79 677.28,150.01 677.74,150.26 678.13,150.55 678.47,150.89 678.79,151.26 679.11,151.63 679.49,152.06 679.88,152.54 680.23,152.97 680.48,153.27" fill="none" stroke="#E8812A" stroke-width="1.25" stroke-linejoin="round"/>
<line x1="254.50" y1="199.80" x2="680.50" y2="199.80" stroke="#d6d6d6" stroke-width="1"/>
<line x1="254.50" y1="252.30" x2="680.50" y2="252.30" stroke="#a6a6a6" stroke-width="1"/>
<line x1="680.50" y1="199.80" x2="680.50" y2="252.30" stroke="#8c8c8c" stroke-width="1"/>
<line x1="254.50" y1="199.80" x2="254.50" y2="252.30" stroke="#5a5a5a" stroke-width="1"/>
<line x1="254.50" y1="239.18" x2="258.50" y2="239.18" stroke="#bbb" stroke-width="0.8"/>
<line x1="680.50" y1="239.18" x2="676.50" y2="239.18" stroke="#bbb" stroke-width="0.8"/>
<line x1="254.50" y1="226.05" x2="258.50" y2="226.05" stroke="#bbb" stroke-width="0.8"/>
<line x1="680.50" y1="226.05" x2="676.50" y2="226.05" stroke="#bbb" stroke-width="0.8"/>
<line x1="254.50" y1="212.93" x2="258.50" y2="212.93" stroke="#bbb" stroke-width="0.8"/>
<line x1="680.50" y1="212.93" x2="676.50" y2="212.93" stroke="#bbb" stroke-width="0.8"/>
<line x1="361.00" y1="199.80" x2="361.00" y2="202.30" stroke="#999" stroke-width="0.8"/>
<line x1="361.00" y1="252.30" x2="361.00" y2="249.80" stroke="#999" stroke-width="0.8"/>
<line x1="467.50" y1="199.80" x2="467.50" y2="202.30" stroke="#999" stroke-width="0.8"/>
<line x1="467.50" y1="252.30" x2="467.50" y2="249.80" stroke="#999" stroke-width="0.8"/>
<line x1="574.00" y1="199.80" x2="574.00" y2="202.30" stroke="#999" stroke-width="0.8"/>
<line x1="574.00" y1="252.30" x2="574.00" y2="249.80" stroke="#999" stroke-width="0.8"/>
<text x="250.50" y="256.60" font-size="10.30" text-anchor="end" fill="#262626" >1</text>
<text x="250.50" y="242.78" font-size="10.30" text-anchor="end" fill="#262626" >2</text>
<text x="250.50" y="229.65" font-size="10.30" text-anchor="end" fill="#262626" >3</text>
<text x="250.50" y="216.53" font-size="10.30" text-anchor="end" fill="#262626" >4</text>
<text x="0.00" y="0.00" font-size="10.30" text-anchor="middle" fill="#262626" transform="translate(230.5,225.5) rotate(-90)">AC</text>
<text x="252.80" y="266.50" font-size="10.30" text-anchor="middle" fill="#262626" >0</text>
<text x="360.20" y="266.50" font-size="10.30" text-anchor="middle" fill="#262626" >15</text>
<text x="466.70" y="266.50" font-size="10.30" text-anchor="middle" fill="#262626" >30</text>
<text x="573.20" y="266.50" font-size="10.30" text-anchor="middle" fill="#262626" >45</text>
<text x="679.10" y="266.50" font-size="10.30" text-anchor="middle" fill="#262626" >60</text>
<text x="471.00" y="282.00" font-size="10.30" text-anchor="middle" fill="#262626" >Time (s)</text>
<polyline points="254.66,245.02 255.02,244.22 255.53,243.07 256.11,241.74 256.65,240.38 257.15,238.94 257.64,237.36 258.14,235.81 258.64,234.42 259.15,233.19 259.67,232.04 260.17,231.09 260.62,230.45 260.99,230.17 261.31,230.18 261.61,230.42 261.95,230.85 262.31,231.53 262.69,232.47 263.10,233.49 263.54,234.42 264.04,235.32 264.60,236.24 265.15,237.01 265.66,237.47 266.08,237.58 266.46,237.42 266.83,237.02 267.25,236.41 267.70,235.45 268.19,234.18 268.70,232.86 269.23,231.77 269.80,230.92 270.41,230.19 271.02,229.65 271.62,229.39 272.19,229.45 272.74,229.77 273.30,230.33 273.87,231.11 274.47,232.20 275.08,233.58 275.69,235.05 276.25,236.41 276.76,237.62 277.22,238.77 277.66,239.90 278.11,241.05 278.54,242.25 278.96,243.47 279.38,244.64 279.83,245.68 280.30,246.58 280.78,247.36 281.28,248.04 281.81,248.60 282.39,249.05 282.99,249.39 283.60,249.60 284.20,249.66 284.77,249.51 285.33,249.18 285.89,248.76 286.45,248.33 287.01,247.86 287.57,247.32 288.13,246.79 288.70,246.34 289.29,245.97 289.89,245.65 290.49,245.41 291.09,245.28 291.69,245.30 292.29,245.44 292.88,245.67 293.47,245.95 294.06,246.34 294.66,246.85 295.23,247.33 295.72,247.67 296.10,247.87 296.40,247.98 296.69,247.94 297.05,247.67 297.49,247.12 297.97,246.34 298.49,245.40 299.03,244.36 299.60,243.14 300.21,241.75 300.82,240.34 301.42,239.06 302.00,237.95 302.57,236.92 303.13,235.97 303.67,235.09 304.20,234.20 304.72,233.35 305.21,232.63 305.66,232.17 306.03,231.99 306.34,232.02 306.65,232.27 306.98,232.70 307.36,233.37 307.75,234.26 308.16,235.30 308.57,236.41 308.99,237.67 309.42,239.08 309.86,240.49 310.29,241.71 310.73,242.77 311.18,243.74 311.61,244.52 312.01,245.02 312.37,245.24 312.70,245.23 313.02,244.94 313.34,244.36 313.66,243.45 313.98,242.25 314.31,240.77 314.66,239.06 315.03,236.99 315.42,234.59 315.82,232.11 316.25,229.79 316.72,227.63 317.22,225.52 317.73,223.56 318.24,221.84 318.74,220.36 319.26,219.08 319.76,218.03 320.23,217.21 320.66,216.62 321.06,216.27 321.45,216.15 321.81,216.28 322.16,216.59 322.47,217.10 322.79,217.93 323.14,219.19 323.54,221.11 323.98,223.55 324.42,226.14 324.86,228.46 325.29,230.53 325.71,232.52 326.14,234.30 326.58,235.75 327.03,236.76 327.49,237.42 327.95,237.91 328.44,238.40 328.95,238.93 329.50,239.41 330.04,239.81 330.56,240.12 331.04,240.25 331.51,240.24 331.96,240.23 332.40,240.38 332.82,240.78 333.22,241.34 333.60,241.91 333.97,242.37 334.32,242.80 334.63,243.22 334.95,243.45 335.30,243.30 335.67,242.66 336.07,241.65 336.47,240.41 336.89,239.06 337.30,237.57 337.72,235.90 338.16,234.15 338.61,232.44 339.09,230.77 339.59,229.08 340.09,227.42 340.60,225.81 341.10,224.20 341.61,222.59 342.10,221.10 342.58,219.85 343.04,218.84 343.49,217.99 343.91,217.42 344.30,217.21 344.66,217.39 344.99,217.91 345.31,218.74 345.63,219.85 345.95,221.30 346.27,223.08 346.60,225.07 346.95,227.14 347.32,229.36 347.71,231.77 348.11,234.19 348.54,236.41 349.01,238.46 349.51,240.43 350.02,242.20 350.53,243.70 351.04,244.86 351.55,245.76 352.05,246.46 352.52,247.01 352.95,247.44 353.35,247.71 353.74,247.80 354.11,247.67 354.46,247.30 354.78,246.72 355.11,245.95 355.43,245.02 355.76,243.81 356.09,242.35 356.42,240.89 356.75,239.72 357.09,238.82 357.42,238.08 357.75,237.60 358.08,237.47 358.41,237.80 358.74,238.50 359.07,239.41 359.40,240.38 359.73,241.49 360.04,242.78 360.37,244.03 360.73,245.02 361.13,245.71 361.56,246.22 362.01,246.56 362.45,246.74 362.88,246.77 363.30,246.63 363.73,246.35 364.17,245.95 364.61,245.36 365.06,244.59 365.52,243.77 366.03,243.03 366.59,242.29 367.21,241.53 367.83,240.92 368.41,240.65 368.94,240.87 369.43,241.46 369.91,242.17 370.40,242.77 370.90,243.30 371.42,243.86 371.92,244.27 372.38,244.36 372.81,243.96 373.20,243.20 373.58,242.36 373.97,241.71 374.39,241.24 374.83,240.82 375.26,240.59 375.70,240.65 376.12,241.14 376.55,241.97 376.98,242.89 377.42,243.70 377.87,244.40 378.34,245.09 378.81,245.65 379.27,245.95 379.71,245.98 380.12,245.81 380.55,245.38 380.99,244.62 381.48,243.44 382.00,241.88 382.51,240.14 382.98,238.40 383.41,236.70 383.82,234.95 384.20,233.10 384.57,231.11 384.92,228.89 385.25,226.48 385.57,224.07 385.89,221.84 386.23,219.69 386.57,217.56 386.91,215.75 387.22,214.56 387.50,214.02 387.75,214.00 388.00,214.49 388.28,215.48 388.58,217.13 388.91,219.38 389.25,221.94 389.60,224.49 389.98,227.09 390.37,229.85 390.78,232.59 391.19,235.09 391.61,237.35 392.03,239.47 392.46,241.39 392.91,243.03 393.40,244.37 393.92,245.43 394.43,246.29 394.90,247.01 395.32,247.59 395.71,248.02 396.09,248.27 396.49,248.33 396.91,248.22 397.33,247.93 397.76,247.45 398.21,246.74 398.69,245.76 399.19,244.54 399.70,243.16 400.20,241.71 400.70,240.14 401.21,238.43 401.71,236.70 402.19,235.09 402.64,233.47 403.09,231.83 403.51,230.43 403.91,229.52 404.27,229.21 404.61,229.35 404.93,229.81 405.23,230.45 405.52,231.35 405.79,232.54 406.04,233.84 406.31,235.09 406.58,236.33 406.85,237.63 407.12,238.82 407.38,239.72 407.61,240.28 407.81,240.60 408.06,240.72 408.43,240.72 408.97,240.49 409.65,240.06 410.35,239.60 410.96,239.32 411.44,239.29 411.86,239.39 412.26,239.56 412.68,239.72 413.14,239.98 413.61,240.33 414.08,240.54 414.54,240.38 414.98,239.78 415.41,238.85 415.83,237.70 416.26,236.41 416.69,234.83 417.13,232.98 417.56,231.18 417.98,229.79 418.38,228.87 418.76,228.26 419.15,227.91 419.57,227.80 420.04,227.96 420.54,228.38 421.05,229.01 421.56,229.79 422.04,230.73 422.52,231.86 423.02,233.11 423.54,234.42 424.11,235.87 424.72,237.45 425.33,239.00 425.93,240.38 426.51,241.57 427.08,242.64 427.64,243.58 428.18,244.36 428.69,245.01 429.19,245.54 429.68,245.88 430.17,245.95 430.66,245.69 431.16,245.14 431.66,244.44 432.15,243.70 432.66,242.80 433.19,241.75 433.69,240.77 434.14,240.12 434.52,239.81 434.84,239.74 435.15,239.92 435.46,240.38 435.77,241.28 436.06,242.55 436.38,243.90 436.79,245.02 437.31,245.85 437.92,246.55 438.56,247.15 439.17,247.67 439.75,248.12 440.32,248.50 440.88,248.79 441.42,248.99 441.95,249.18 442.46,249.32 442.95,249.30 443.41,248.99 443.83,248.36 444.22,247.46 444.60,246.34 445.00,245.02 445.41,243.37 445.84,241.42 446.27,239.45 446.72,237.74 447.20,236.30 447.70,235.02 448.21,233.94 448.71,233.10 449.21,232.53 449.72,232.21 450.22,232.09 450.70,232.17 451.15,232.42 451.58,232.87 452.00,233.53 452.42,234.42 452.81,235.67 453.20,237.21 453.58,238.85 454.01,240.38 454.49,241.83 455.02,243.28 455.53,244.61 455.99,245.68 456.36,246.50 456.67,247.13 456.97,247.53 457.32,247.67 457.72,247.42 458.16,246.84 458.61,246.18 459.04,245.68 459.45,245.36 459.84,245.09 460.23,244.95 460.63,245.02 461.02,245.40 461.42,246.02 461.81,246.71 462.22,247.27 462.63,247.71 463.05,248.11 463.49,248.42 463.94,248.60 464.42,248.61 464.92,248.50 465.42,248.30 465.93,248.07 466.42,247.77 466.90,247.40 467.40,247.03 467.91,246.74 468.47,246.60 469.06,246.54 469.63,246.49 470.17,246.34 470.63,246.16 471.04,245.95 471.45,245.61 471.89,245.02 472.37,244.11 472.86,242.95 473.37,241.67 473.87,240.38 474.36,239.09 474.85,237.74 475.35,236.38 475.86,235.09 476.43,233.76 477.03,232.40 477.61,231.22 478.11,230.45 478.49,230.14 478.79,230.18 479.08,230.52 479.44,231.11 479.88,232.11 480.38,233.49 480.89,234.92 481.37,236.08 481.85,236.88 482.33,237.49 482.77,237.98 483.15,238.40 483.39,238.79 483.55,239.11 483.71,239.30 483.97,239.32 484.39,239.16 484.89,238.84 485.44,238.36 485.96,237.74 486.44,236.88 486.91,235.83 487.40,234.74 487.95,233.76 488.56,232.92 489.23,232.14 489.92,231.44 490.60,230.85 491.27,230.34 491.96,229.90 492.63,229.61 493.25,229.52 493.79,229.63 494.30,229.90 494.77,230.39 495.23,231.11 495.68,232.15 496.12,233.45 496.54,234.91 496.95,236.41 497.36,238.08 497.76,239.92 498.15,241.66 498.54,243.03 498.93,243.92 499.30,244.49 499.70,244.86 500.13,245.15 500.64,245.31 501.19,245.30 501.75,245.28 502.25,245.42 502.69,245.77 503.08,246.25 503.46,246.78 503.84,247.27 504.24,247.80 504.65,248.37 505.05,248.83 505.43,248.99 505.78,248.87 506.11,248.52 506.43,247.92 506.75,247.01 507.08,245.68 507.39,243.99 507.72,242.15 508.08,240.38 508.48,238.73 508.90,237.07 509.34,235.42 509.80,233.76 510.28,232.04 510.78,230.28 511.29,228.61 511.79,227.14 512.29,225.84 512.80,224.66 513.30,223.72 513.77,223.17 514.23,223.09 514.66,223.40 515.08,223.92 515.50,224.49 515.89,225.12 516.27,225.88 516.66,226.68 517.09,227.40 517.55,228.08 518.05,228.74 518.57,229.33 519.07,229.79 519.58,230.20 520.09,230.56 520.59,230.70 521.06,230.45 521.49,229.80 521.90,228.84 522.28,227.52 522.65,225.81 523.00,223.43 523.34,220.48 523.67,217.54 523.97,215.22 524.26,213.60 524.52,212.40 524.77,211.62 525.03,211.25 525.30,211.26 525.57,211.66 525.84,212.52 526.09,213.89 526.33,215.98 526.56,218.70 526.79,221.65 527.02,224.49 527.24,227.26 527.46,230.10 527.69,232.79 527.95,235.09 528.25,236.97 528.58,238.55 528.93,239.79 529.27,240.65 529.60,241.06 529.93,241.07 530.26,240.80 530.60,240.38 530.92,239.73 531.23,238.82 531.56,237.86 531.92,237.07 532.33,236.43 532.78,235.86 533.23,235.46 533.64,235.35 534.00,235.65 534.33,236.25 534.65,237.01 534.97,237.74 535.28,238.46 535.59,239.26 535.91,240.02 536.29,240.65 536.74,241.11 537.24,241.47 537.77,241.74 538.28,241.97 538.77,242.11 539.27,242.15 539.77,242.20 540.26,242.37 540.76,242.72 541.26,243.17 541.75,243.66 542.25,244.09 542.76,244.52 543.29,244.97 543.79,245.31 544.24,245.42 544.60,245.27 544.90,244.93 545.20,244.40 545.56,243.70 546.01,242.76 546.51,241.60 547.04,240.33 547.55,239.06 548.05,237.77 548.54,236.41 549.04,235.06 549.54,233.76 550.03,232.52 550.53,231.30 551.03,230.16 551.52,229.13 552.02,228.20 552.52,227.37 553.01,226.65 553.51,226.08 554.02,225.65 554.54,225.36 555.05,225.20 555.50,225.15 555.87,225.20 556.19,225.34 556.50,225.64 556.84,226.15 557.23,226.88 557.64,227.80 558.06,228.89 558.49,230.12 558.93,231.55 559.38,233.18 559.83,234.85 560.30,236.41 560.78,237.88 561.26,239.33 561.77,240.64 562.28,241.71 562.83,242.53 563.39,243.16 563.96,243.56 564.54,243.70 565.12,243.47 565.72,242.93 566.32,242.27 566.92,241.71 567.54,241.19 568.16,240.65 568.76,240.24 569.30,240.12 569.76,240.39 570.15,240.94 570.52,241.64 570.89,242.37 571.28,243.16 571.66,244.04 572.05,244.92 572.48,245.68 572.97,246.31 573.50,246.86 574.05,247.31 574.60,247.67 575.16,247.90 575.74,248.02 576.31,248.06 576.85,248.07 577.37,248.06 577.86,248.02 578.35,247.90 578.84,247.67 579.35,247.42 579.88,247.15 580.38,246.64 580.83,245.68 581.21,244.18 581.53,242.25 581.84,240.05 582.15,237.74 582.49,235.12 582.83,232.21 583.16,229.40 583.48,227.14 583.76,225.48 584.01,224.22 584.27,223.35 584.54,222.90 584.82,222.86 585.12,223.22 585.42,223.99 585.73,225.15 586.04,226.95 586.36,229.31 586.69,231.74 587.05,233.76 587.45,235.32 587.87,236.64 588.32,237.69 588.77,238.40 589.25,238.68 589.75,238.59 590.26,238.30 590.76,238.00 591.26,237.59 591.77,237.01 592.27,236.54 592.75,236.41 593.20,236.88 593.63,237.76 594.06,238.62 594.47,239.06 594.88,238.94 595.27,238.50 595.67,237.85 596.06,237.07 596.46,236.00 596.87,234.66 597.27,233.42 597.65,232.70 597.99,232.68 598.30,233.12 598.62,233.79 598.97,234.42 599.37,235.07 599.79,235.83 600.24,236.55 600.70,237.07 601.16,237.35 601.65,237.45 602.15,237.47 602.68,237.47 603.26,237.43 603.88,237.33 604.50,237.23 605.07,237.21 605.57,237.25 606.03,237.33 606.48,237.48 606.92,237.74 607.36,238.25 607.79,238.97 608.22,239.56 608.64,239.72 609.09,239.22 609.54,238.26 609.97,237.21 610.36,236.41 610.69,235.86 610.96,235.41 611.22,235.17 611.51,235.23 611.83,235.75 612.16,236.65 612.50,237.62 612.83,238.41 613.17,239.02 613.51,239.58 613.84,239.94 614.16,239.93 614.47,239.36 614.77,238.36 615.05,237.27 615.30,236.43 615.49,235.92 615.63,235.58 615.76,235.32 615.93,235.09 616.12,234.81 616.31,234.55 616.54,234.39 616.81,234.43 617.12,234.72 617.49,235.20 617.87,235.79 618.26,236.42 618.66,237.08 619.06,237.81 619.48,238.59 619.92,239.40 620.40,240.28 620.90,241.24 621.41,242.15 621.91,242.91 622.39,243.58 622.88,244.18 623.34,244.55 623.76,244.50 624.13,244.04 624.46,243.25 624.77,242.06 625.09,240.39 625.42,238.04 625.75,235.11 626.08,232.00 626.41,229.13 626.75,226.46 627.09,223.81 627.43,221.42 627.74,219.53 628.00,218.21 628.24,217.33 628.47,216.81 628.73,216.55 629.01,216.56 629.30,216.88 629.60,217.45 629.92,218.20 630.27,219.25 630.64,220.58 631.01,221.97 631.38,223.17 631.75,224.18 632.14,225.10 632.49,225.88 632.79,226.49 632.98,226.78 633.10,226.81 633.21,226.85 633.41,227.14 633.71,227.77 634.06,228.59 634.46,229.52 634.91,230.46 635.44,231.40 636.05,232.37 636.65,233.38 637.16,234.44 637.56,235.54 637.88,236.67 638.18,237.85 638.49,239.08 638.81,240.40 639.13,241.81 639.45,243.18 639.81,244.38 640.22,245.40 640.66,246.31 641.11,247.07 641.54,247.69 641.93,248.14 642.31,248.44 642.70,248.60 643.13,248.62 643.60,248.39 644.11,247.95 644.63,247.51 645.11,247.29 645.57,247.38 646.00,247.64 646.42,247.99 646.84,248.35 647.23,248.74 647.61,249.19 648.00,249.62 648.43,249.94 648.89,250.16 649.39,250.30 649.91,250.36 650.41,250.34 650.90,250.21 651.38,249.98 651.88,249.70 652.40,249.41 652.96,249.11 653.55,248.78 654.16,248.44 654.79,248.09 655.44,247.75 656.12,247.42 656.80,247.05 657.44,246.63 658.04,246.12 658.62,245.56 659.17,244.97 659.69,244.38 660.16,243.76 660.59,243.13 661.00,242.52 661.41,241.99 661.82,241.53 662.23,241.11 662.63,240.80 663.00,240.67 663.35,240.73 663.68,240.95 664.00,241.29 664.33,241.73 664.66,242.43 665.01,243.37 665.34,244.14 665.65,244.38 665.94,243.89 666.21,242.93 666.46,241.69 666.71,240.40 666.95,238.95 667.18,237.28 667.41,235.68 667.64,234.44 667.87,233.65 668.09,233.15 668.33,232.87 668.57,232.72 668.82,232.75 669.09,232.99 669.36,233.29 669.63,233.51 669.89,233.71 670.16,233.94 670.43,234.02 670.69,233.78 670.92,233.20 671.13,232.38 671.36,231.27 671.61,229.80 671.92,227.85 672.25,225.49 672.60,222.97 672.94,220.53 673.28,218.10 673.62,215.60 673.95,213.24 674.26,211.25 674.55,209.66 674.82,208.35 675.07,207.34 675.32,206.61 675.56,206.21 675.79,206.12 676.01,206.27 676.25,206.61 676.50,207.10 676.76,207.77 677.02,208.69 677.31,209.93 677.63,211.60 677.97,213.65 678.32,215.83 678.64,217.88 678.95,219.91 679.25,222.02 679.51,223.87 679.70,225.16" fill="none" stroke="#4A6FC7" stroke-width="1.1" stroke-linejoin="round"/>
<line x1="43.75" y1="160.50" x2="43.75" y2="252.50" stroke="#e3e3e3" stroke-width="0.9"/>
<line x1="58.25" y1="160.50" x2="58.25" y2="252.50" stroke="#e3e3e3" stroke-width="0.9"/>
<line x1="72.75" y1="160.50" x2="72.75" y2="252.50" stroke="#e3e3e3" stroke-width="0.9"/>
<line x1="87.25" y1="160.50" x2="87.25" y2="252.50" stroke="#e3e3e3" stroke-width="0.9"/>
<line x1="101.75" y1="160.50" x2="101.75" y2="252.50" stroke="#e3e3e3" stroke-width="0.9"/>
<line x1="116.25" y1="160.50" x2="116.25" y2="252.50" stroke="#e3e3e3" stroke-width="0.9"/>
<line x1="130.75" y1="160.50" x2="130.75" y2="252.50" stroke="#e3e3e3" stroke-width="0.9"/>
<line x1="145.25" y1="160.50" x2="145.25" y2="252.50" stroke="#e3e3e3" stroke-width="0.9"/>
<line x1="159.75" y1="160.50" x2="159.75" y2="252.50" stroke="#e3e3e3" stroke-width="0.9"/>
<line x1="36.50" y1="242.28" x2="167.00" y2="242.28" stroke="#e3e3e3" stroke-width="0.9"/>
<line x1="36.50" y1="232.06" x2="167.00" y2="232.06" stroke="#e3e3e3" stroke-width="0.9"/>
<line x1="36.50" y1="221.83" x2="167.00" y2="221.83" stroke="#e3e3e3" stroke-width="0.9"/>
<line x1="36.50" y1="211.61" x2="167.00" y2="211.61" stroke="#e3e3e3" stroke-width="0.9"/>
<line x1="36.50" y1="201.39" x2="167.00" y2="201.39" stroke="#e3e3e3" stroke-width="0.9"/>
<line x1="36.50" y1="191.17" x2="167.00" y2="191.17" stroke="#e3e3e3" stroke-width="0.9"/>
<line x1="36.50" y1="180.94" x2="167.00" y2="180.94" stroke="#e3e3e3" stroke-width="0.9"/>
<line x1="36.50" y1="170.72" x2="167.00" y2="170.72" stroke="#e3e3e3" stroke-width="0.9"/>
<rect x="101.5" y="192" width="43" height="30" fill="#fff"/>
<line x1="36.50" y1="170.72" x2="167.00" y2="170.72" stroke="#262626" stroke-width="1.5" stroke-dasharray="3 1.4"/>
<polyline points="43.75,180.74 58.25,177.67 72.75,174.81 87.25,172.36 101.75,172.15 116.25,172.15 130.75,172.15 145.25,172.15 159.75,172.15" fill="none" stroke="#5577D0" stroke-width="1.1"/>
<polyline points="43.75,239.21 58.25,222.86 72.75,206.30 87.25,189.94 101.75,182.99 116.25,180.94 130.75,178.90 145.25,176.86 159.75,174.81" fill="none" stroke="#EC8A35" stroke-width="1.3"/>
<rect x="36.5" y="160.5" width="130.5" height="92.0" fill="none" stroke="#262626" stroke-width="1"/>
<line x1="43.75" y1="160.50" x2="43.75" y2="162.50" stroke="#262626" stroke-width="0.8"/>
<line x1="43.75" y1="252.50" x2="43.75" y2="250.50" stroke="#262626" stroke-width="0.8"/>
<line x1="58.25" y1="160.50" x2="58.25" y2="162.50" stroke="#262626" stroke-width="0.8"/>
<line x1="58.25" y1="252.50" x2="58.25" y2="250.50" stroke="#262626" stroke-width="0.8"/>
<line x1="72.75" y1="160.50" x2="72.75" y2="162.50" stroke="#262626" stroke-width="0.8"/>
<line x1="72.75" y1="252.50" x2="72.75" y2="250.50" stroke="#262626" stroke-width="0.8"/>
<line x1="87.25" y1="160.50" x2="87.25" y2="162.50" stroke="#262626" stroke-width="0.8"/>
<line x1="87.25" y1="252.50" x2="87.25" y2="250.50" stroke="#262626" stroke-width="0.8"/>
<line x1="101.75" y1="160.50" x2="101.75" y2="162.50" stroke="#262626" stroke-width="0.8"/>
<line x1="101.75" y1="252.50" x2="101.75" y2="250.50" stroke="#262626" stroke-width="0.8"/>
<line x1="116.25" y1="160.50" x2="116.25" y2="162.50" stroke="#262626" stroke-width="0.8"/>
<line x1="116.25" y1="252.50" x2="116.25" y2="250.50" stroke="#262626" stroke-width="0.8"/>
<line x1="130.75" y1="160.50" x2="130.75" y2="162.50" stroke="#262626" stroke-width="0.8"/>
<line x1="130.75" y1="252.50" x2="130.75" y2="250.50" stroke="#262626" stroke-width="0.8"/>
<line x1="145.25" y1="160.50" x2="145.25" y2="162.50" stroke="#262626" stroke-width="0.8"/>
<line x1="145.25" y1="252.50" x2="145.25" y2="250.50" stroke="#262626" stroke-width="0.8"/>
<line x1="159.75" y1="160.50" x2="159.75" y2="162.50" stroke="#262626" stroke-width="0.8"/>
<line x1="159.75" y1="252.50" x2="159.75" y2="250.50" stroke="#262626" stroke-width="0.8"/>
<line x1="36.50" y1="242.28" x2="38.50" y2="242.28" stroke="#262626" stroke-width="0.8"/>
<line x1="167.00" y1="242.28" x2="165.00" y2="242.28" stroke="#262626" stroke-width="0.8"/>
<line x1="36.50" y1="232.06" x2="38.50" y2="232.06" stroke="#262626" stroke-width="0.8"/>
<line x1="167.00" y1="232.06" x2="165.00" y2="232.06" stroke="#262626" stroke-width="0.8"/>
<line x1="36.50" y1="221.83" x2="38.50" y2="221.83" stroke="#262626" stroke-width="0.8"/>
<line x1="167.00" y1="221.83" x2="165.00" y2="221.83" stroke="#262626" stroke-width="0.8"/>
<line x1="36.50" y1="211.61" x2="38.50" y2="211.61" stroke="#262626" stroke-width="0.8"/>
<line x1="167.00" y1="211.61" x2="165.00" y2="211.61" stroke="#262626" stroke-width="0.8"/>
<line x1="36.50" y1="201.39" x2="38.50" y2="201.39" stroke="#262626" stroke-width="0.8"/>
<line x1="167.00" y1="201.39" x2="165.00" y2="201.39" stroke="#262626" stroke-width="0.8"/>
<line x1="36.50" y1="191.17" x2="38.50" y2="191.17" stroke="#262626" stroke-width="0.8"/>
<line x1="167.00" y1="191.17" x2="165.00" y2="191.17" stroke="#262626" stroke-width="0.8"/>
<line x1="36.50" y1="180.94" x2="38.50" y2="180.94" stroke="#262626" stroke-width="0.8"/>
<line x1="167.00" y1="180.94" x2="165.00" y2="180.94" stroke="#262626" stroke-width="0.8"/>
<line x1="36.50" y1="170.72" x2="38.50" y2="170.72" stroke="#262626" stroke-width="0.8"/>
<line x1="167.00" y1="170.72" x2="165.00" y2="170.72" stroke="#262626" stroke-width="0.8"/>
<text x="30.80" y="174.42" font-size="10.50" text-anchor="end" fill="#262626" >1</text>
<text x="30.80" y="194.87" font-size="10.50" text-anchor="end" fill="#262626" >0.9</text>
<text x="30.80" y="215.31" font-size="10.50" text-anchor="end" fill="#262626" >0.8</text>
<text x="30.80" y="235.76" font-size="10.50" text-anchor="end" fill="#262626" >0.7</text>
<text x="0.00" y="0.00" font-size="10.50" text-anchor="middle" fill="#262626" font-style="italic" transform="translate(13,206) rotate(-90)">r</text>
<text x="0.00" y="0.00" font-size="10.30" text-anchor="end" fill="#262626" transform="translate(49.00,256) rotate(-90)">2-3</text>
<text x="0.00" y="0.00" font-size="10.30" text-anchor="end" fill="#262626" transform="translate(63.30,256) rotate(-90)">3-4</text>
<text x="0.00" y="0.00" font-size="10.30" text-anchor="end" fill="#262626" transform="translate(77.60,256) rotate(-90)">4-5</text>
<text x="0.00" y="0.00" font-size="10.30" text-anchor="end" fill="#262626" transform="translate(91.90,256) rotate(-90)">5-6</text>
<text x="0.00" y="0.00" font-size="10.30" text-anchor="end" fill="#262626" transform="translate(106.30,256) rotate(-90)">6-7</text>
<text x="0.00" y="0.00" font-size="10.30" text-anchor="end" fill="#262626" transform="translate(121.10,256) rotate(-90)">7-8</text>
<text x="0.00" y="0.00" font-size="10.30" text-anchor="end" fill="#262626" transform="translate(134.90,256) rotate(-90)">8-9</text>
<text x="0.00" y="0.00" font-size="10.30" text-anchor="end" fill="#262626" transform="translate(148.30,256) rotate(-90)">9-10</text>
<text x="0.00" y="0.00" font-size="10.30" text-anchor="end" fill="#262626" transform="translate(162.60,256) rotate(-90)">10-11</text>
<text x="100.80" y="284.00" font-size="10.30" text-anchor="middle" fill="#262626" ># electrodes</text>
<line x1="104.30" y1="201.10" x2="114.90" y2="201.10" stroke="#F2A866" stroke-width="1.0"/>
<line x1="104.30" y1="214.30" x2="114.90" y2="214.30" stroke="#7F9BE0" stroke-width="1.0"/>
<text x="118.30" y="205.40" font-size="10.30" text-anchor="start" fill="#262626" >PC</text>
<text x="118.30" y="217.80" font-size="10.30" text-anchor="start" fill="#262626" >AC</text>
<polyline points="40.50,378.50 41.29,345.00 41.55,335.00 43.66,382.40 45.76,383.50 116.83,383.50" fill="none" stroke="#4A72CF" stroke-width="1.5" stroke-linejoin="round"/>
<polyline points="40.50,371.00 41.55,313.10 43.92,382.60 45.76,383.50 116.83,383.50" fill="none" stroke="#EE8527" stroke-width="1.6" stroke-linejoin="round"/>
<rect x="36.70" y="309.60" width="83.80" height="77.60" fill="none" stroke="#1f1f1f" stroke-width="1.1"/>
<line x1="33.30" y1="314.50" x2="36.70" y2="314.50" stroke="#333" stroke-width="0.9"/>
<line x1="33.30" y1="348.50" x2="36.70" y2="348.50" stroke="#333" stroke-width="0.9"/>
<line x1="33.30" y1="382.50" x2="36.70" y2="382.50" stroke="#333" stroke-width="0.9"/>
<line x1="40.50" y1="387.20" x2="40.50" y2="389.80" stroke="#333" stroke-width="0.9"/>
<text x="39.90" y="405.20" font-size="10.00" text-anchor="middle" fill="#262626" >0</text>
<line x1="73.40" y1="387.20" x2="73.40" y2="389.80" stroke="#333" stroke-width="0.9"/>
<text x="73.00" y="405.20" font-size="10.00" text-anchor="middle" fill="#262626" >50</text>
<line x1="106.30" y1="387.20" x2="106.30" y2="389.80" stroke="#333" stroke-width="0.9"/>
<text x="105.70" y="405.20" font-size="10.00" text-anchor="middle" fill="#262626" >100</text>
<text x="80.85" y="328.30" font-size="10.00" text-anchor="start" fill="#262626" letter-spacing="0.23">1-2 Hz</text>
<polyline points="134.20,373.20 135.65,320.00 136.83,345.00 138.48,372.00 139.79,381.50 142.10,383.50 210.53,383.50" fill="none" stroke="#4A72CF" stroke-width="1.5" stroke-linejoin="round"/>
<polyline points="134.20,370.90 135.78,313.10 139.53,382.80 141.44,383.50 210.53,383.50" fill="none" stroke="#EE8527" stroke-width="1.6" stroke-linejoin="round"/>
<rect x="130.02" y="309.60" width="83.80" height="77.60" fill="none" stroke="#1f1f1f" stroke-width="1.1"/>
<line x1="126.62" y1="311.40" x2="130.02" y2="311.40" stroke="#333" stroke-width="0.9"/>
<line x1="126.62" y1="347.30" x2="130.02" y2="347.30" stroke="#333" stroke-width="0.9"/>
<line x1="126.62" y1="383.30" x2="130.02" y2="383.30" stroke="#333" stroke-width="0.9"/>
<line x1="134.20" y1="387.20" x2="134.20" y2="389.80" stroke="#333" stroke-width="0.9"/>
<text x="133.90" y="405.20" font-size="10.00" text-anchor="middle" fill="#262626" >0</text>
<line x1="167.10" y1="387.20" x2="167.10" y2="389.80" stroke="#333" stroke-width="0.9"/>
<text x="166.90" y="405.20" font-size="10.00" text-anchor="middle" fill="#262626" >50</text>
<line x1="200.00" y1="387.20" x2="200.00" y2="389.80" stroke="#333" stroke-width="0.9"/>
<text x="199.70" y="405.20" font-size="10.00" text-anchor="middle" fill="#262626" >100</text>
<text x="170.40" y="328.30" font-size="10.00" text-anchor="start" fill="#262626" letter-spacing="1.04">2-4 Hz</text>
<polyline points="227.40,345.00 228.72,312.80 230.69,340.00 232.01,370.00 233.32,380.00 237.60,383.30 303.73,383.50" fill="none" stroke="#4A72CF" stroke-width="1.5" stroke-linejoin="round"/>
<polyline points="227.40,372.60 228.72,327.50 229.70,326.50 230.69,327.50 232.53,350.00 234.31,374.00 236.15,381.50 240.56,383.40 303.73,383.50" fill="none" stroke="#EE8527" stroke-width="1.6" stroke-linejoin="round"/>
<rect x="223.34" y="309.60" width="83.80" height="77.60" fill="none" stroke="#1f1f1f" stroke-width="1.1"/>
<line x1="219.94" y1="311.40" x2="223.34" y2="311.40" stroke="#333" stroke-width="0.9"/>
<line x1="219.94" y1="347.30" x2="223.34" y2="347.30" stroke="#333" stroke-width="0.9"/>
<line x1="219.94" y1="383.30" x2="223.34" y2="383.30" stroke="#333" stroke-width="0.9"/>
<line x1="227.40" y1="387.20" x2="227.40" y2="389.80" stroke="#333" stroke-width="0.9"/>
<text x="228.30" y="405.20" font-size="10.00" text-anchor="middle" fill="#262626" >0</text>
<line x1="260.30" y1="387.20" x2="260.30" y2="389.80" stroke="#333" stroke-width="0.9"/>
<text x="259.60" y="405.20" font-size="10.00" text-anchor="middle" fill="#262626" >50</text>
<line x1="293.20" y1="387.20" x2="293.20" y2="389.80" stroke="#333" stroke-width="0.9"/>
<text x="291.70" y="405.20" font-size="10.00" text-anchor="middle" fill="#262626" >100</text>
<text x="268.55" y="328.30" font-size="10.00" text-anchor="start" fill="#262626" letter-spacing="0.19">4-8 Hz</text>
<polyline points="320.90,345.00 322.22,313.10 324.19,345.00 325.64,363.00 327.48,374.00 330.51,381.60 334.06,383.40 397.23,383.50" fill="none" stroke="#4A72CF" stroke-width="1.5" stroke-linejoin="round"/>
<polyline points="320.90,372.40 322.22,327.30 325.64,363.00 326.56,364.00 327.61,365.50 329.45,372.00 331.43,379.00 333.40,382.50 336.03,383.40 397.23,383.50" fill="none" stroke="#EE8527" stroke-width="1.6" stroke-linejoin="round"/>
<rect x="316.66" y="309.60" width="83.80" height="77.60" fill="none" stroke="#1f1f1f" stroke-width="1.1"/>
<line x1="313.26" y1="310.80" x2="316.66" y2="310.80" stroke="#333" stroke-width="0.9"/>
<line x1="313.26" y1="346.80" x2="316.66" y2="346.80" stroke="#333" stroke-width="0.9"/>
<line x1="313.26" y1="383.30" x2="316.66" y2="383.30" stroke="#333" stroke-width="0.9"/>
<line x1="320.90" y1="387.20" x2="320.90" y2="389.80" stroke="#333" stroke-width="0.9"/>
<text x="323.10" y="405.20" font-size="10.00" text-anchor="middle" fill="#262626" >0</text>
<line x1="353.80" y1="387.20" x2="353.80" y2="389.80" stroke="#333" stroke-width="0.9"/>
<text x="353.80" y="405.20" font-size="10.00" text-anchor="middle" fill="#262626" >50</text>
<line x1="386.70" y1="387.20" x2="386.70" y2="389.80" stroke="#333" stroke-width="0.9"/>
<text x="384.80" y="405.20" font-size="10.00" text-anchor="middle" fill="#262626" >100</text>
<text x="354.35" y="328.30" font-size="10.00" text-anchor="start" fill="#262626" letter-spacing="0.27">8-16 Hz</text>
<polyline points="414.20,325.00 415.38,313.40 416.83,320.00 419.27,334.70 421.44,352.00 423.48,365.00 425.39,373.00 427.75,378.00 431.31,381.50 436.31,383.00 490.53,383.50" fill="none" stroke="#4A72CF" stroke-width="1.5" stroke-linejoin="round"/>
<polyline points="414.20,372.60 415.98,328.20 419.46,350.00 423.48,369.30 425.65,366.10 428.68,371.00 432.62,378.00 435.91,382.30 439.20,383.30 490.53,383.50" fill="none" stroke="#EE8527" stroke-width="1.6" stroke-linejoin="round"/>
<rect x="409.98" y="309.60" width="83.80" height="77.60" fill="none" stroke="#1f1f1f" stroke-width="1.1"/>
<line x1="406.58" y1="326.00" x2="409.98" y2="326.00" stroke="#333" stroke-width="0.9"/>
<line x1="406.58" y1="354.60" x2="409.98" y2="354.60" stroke="#333" stroke-width="0.9"/>
<line x1="406.58" y1="383.30" x2="409.98" y2="383.30" stroke="#333" stroke-width="0.9"/>
<line x1="414.20" y1="387.20" x2="414.20" y2="389.80" stroke="#333" stroke-width="0.9"/>
<text x="417.20" y="405.20" font-size="10.00" text-anchor="middle" fill="#262626" >0</text>
<line x1="447.10" y1="387.20" x2="447.10" y2="389.80" stroke="#333" stroke-width="0.9"/>
<text x="446.40" y="405.20" font-size="10.00" text-anchor="middle" fill="#262626" >50</text>
<line x1="480.00" y1="387.20" x2="480.00" y2="389.80" stroke="#333" stroke-width="0.9"/>
<text x="480.00" y="405.20" font-size="10.00" text-anchor="middle" fill="#262626" >100</text>
<text x="442.95" y="328.30" font-size="10.00" text-anchor="start" fill="#262626" letter-spacing="0.24">16-32 Hz</text>
<polyline points="507.40,340.00 509.57,313.40 513.98,334.00 519.24,354.00 523.19,367.00 526.09,373.70 529.77,377.50 533.72,380.00 539.91,381.90 546.88,383.00 583.73,383.50" fill="none" stroke="#4A72CF" stroke-width="1.5" stroke-linejoin="round"/>
<polyline points="507.40,373.70 509.57,326.40 513.98,344.00 519.24,360.00 523.19,370.00 526.09,374.80 529.64,371.10 533.72,373.50 537.80,374.80 539.91,375.60 544.25,379.00 549.58,382.30 556.75,383.20 583.73,383.50" fill="none" stroke="#EE8527" stroke-width="1.6" stroke-linejoin="round"/>
<rect x="503.30" y="309.60" width="83.80" height="77.60" fill="none" stroke="#1f1f1f" stroke-width="1.1"/>
<line x1="499.90" y1="337.30" x2="503.30" y2="337.30" stroke="#333" stroke-width="0.9"/>
<line x1="499.90" y1="383.30" x2="503.30" y2="383.30" stroke="#333" stroke-width="0.9"/>
<line x1="507.40" y1="387.20" x2="507.40" y2="389.80" stroke="#333" stroke-width="0.9"/>
<text x="511.20" y="405.20" font-size="10.00" text-anchor="middle" fill="#262626" >0</text>
<line x1="540.30" y1="387.20" x2="540.30" y2="389.80" stroke="#333" stroke-width="0.9"/>
<text x="540.60" y="405.20" font-size="10.00" text-anchor="middle" fill="#262626" >50</text>
<line x1="573.20" y1="387.20" x2="573.20" y2="389.80" stroke="#333" stroke-width="0.9"/>
<text x="573.70" y="405.20" font-size="10.00" text-anchor="middle" fill="#262626" >100</text>
<text x="536.70" y="328.30" font-size="10.00" text-anchor="start" fill="#262626" letter-spacing="0.25">32-64 Hz</text>
<polyline points="600.30,372.00 601.81,318.00 602.87,315.00 605.04,322.00 608.20,329.00 611.49,336.00 615.70,342.00 620.04,348.50 624.32,358.50 628.59,366.00 632.87,371.50 639.32,376.50 647.87,380.00 658.53,382.20 676.63,383.30" fill="none" stroke="#4A72CF" stroke-width="1.5" stroke-linejoin="round"/>
<polyline points="600.30,371.60 601.81,316.30 602.87,313.40 605.04,320.60 608.20,327.10 611.49,333.60 615.70,340.10 620.04,346.60 624.32,357.50 628.59,365.00 632.87,370.50 639.32,375.90 647.87,379.80 658.53,382.00 676.63,383.30" fill="none" stroke="#EE8527" stroke-width="1.6" stroke-linejoin="round"/>
<rect x="596.62" y="309.60" width="83.80" height="77.60" fill="none" stroke="#1f1f1f" stroke-width="1.1"/>
<line x1="593.22" y1="315.60" x2="596.62" y2="315.60" stroke="#333" stroke-width="0.9"/>
<line x1="593.22" y1="350.30" x2="596.62" y2="350.30" stroke="#333" stroke-width="0.9"/>
<line x1="593.22" y1="383.80" x2="596.62" y2="383.80" stroke="#333" stroke-width="0.9"/>
<line x1="600.30" y1="387.20" x2="600.30" y2="389.80" stroke="#333" stroke-width="0.9"/>
<text x="605.70" y="405.20" font-size="10.00" text-anchor="middle" fill="#262626" >0</text>
<line x1="633.20" y1="387.20" x2="633.20" y2="389.80" stroke="#333" stroke-width="0.9"/>
<text x="633.20" y="405.20" font-size="10.00" text-anchor="middle" fill="#262626" >50</text>
<line x1="666.10" y1="387.20" x2="666.10" y2="389.80" stroke="#333" stroke-width="0.9"/>
<text x="666.10" y="405.20" font-size="10.00" text-anchor="middle" fill="#262626" >100</text>
<text x="624.20" y="328.30" font-size="10.00" text-anchor="start" fill="#262626" letter-spacing="0.22">64-128 Hz</text>
<text x="29.80" y="319.00" font-size="10.00" text-anchor="end" fill="#262626" >0.2</text>
<text x="29.80" y="386.80" font-size="10.00" text-anchor="end" fill="#262626" >0</text>
<text x="0.00" y="0.00" font-size="9.60" text-anchor="middle" fill="#262626" transform="translate(18.8,350.8) rotate(-90)">Power (a.u.)</text>
<text x="358.50" y="435.00" font-size="10.00" text-anchor="middle" fill="#262626" >Frequency (Hz)</text></svg>
</body></html>
